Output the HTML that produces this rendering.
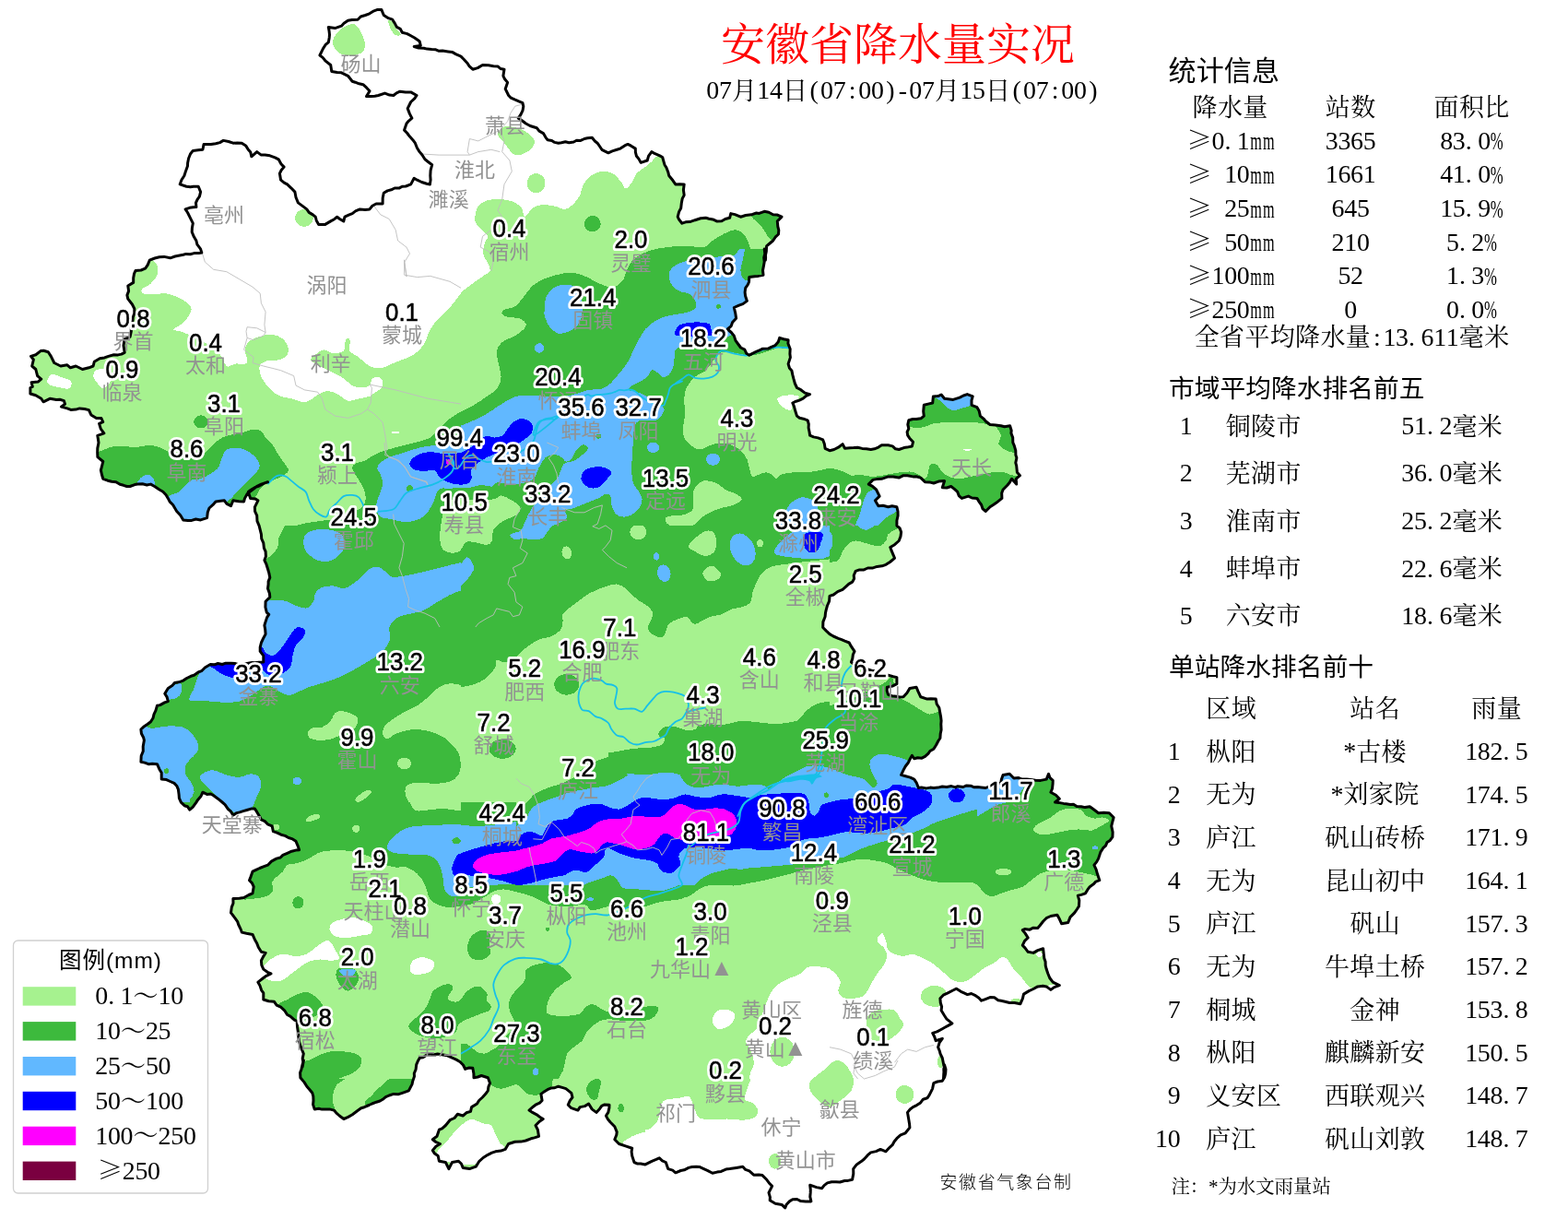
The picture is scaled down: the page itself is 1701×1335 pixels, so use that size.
<!DOCTYPE html>
<html lang="zh-CN"><head><meta charset="utf-8"><title>安徽省降水量实况</title>
<style>
html,body{margin:0;padding:0;background:#fff;}
body{width:1701px;height:1335px;position:relative;overflow:hidden;font-family:"Liberation Sans","Noto Sans CJK SC",sans-serif;}
svg text{white-space:pre;}
.sans{font-family:"Liberation Sans","Noto Sans CJK SC",sans-serif;}
.serif{font-family:"Liberation Serif","Noto Serif CJK SC",serif;}
.sym{font-family:"Noto Serif CJK SC","Liberation Serif",serif;}
.num{font-family:"Liberation Sans","Noto Sans CJK SC",sans-serif;font-size:27.4px;fill:#fff;stroke:#fff;stroke-width:6.2px;stroke-linejoin:round;text-anchor:middle;}
.num2{font-family:"Liberation Sans","Noto Sans CJK SC",sans-serif;font-size:27.4px;fill:#000;stroke:#000;stroke-width:0.55px;stroke-linejoin:round;text-anchor:middle;}
.city{font-family:"Liberation Sans","Noto Sans CJK SC",sans-serif;font-size:22px;fill:#929292;text-anchor:middle;}
</style></head><body>
<svg width="1701" height="1335" viewBox="0 0 1701 1335" style="position:absolute;left:0;top:0">
<defs><clipPath id="prov"><path d="M346.9,60.0 L350.4,52.9 L353.0,48.7 L356.3,45.9 L357.2,40.9 L357.5,37.6 L357.0,33.2 L356.3,29.4 L363.4,30.6 L370.4,28.2 L373.1,25.3 L377.5,22.3 L381.9,21.6 L388.1,21.2 L391.3,18.0 L396.3,16.5 L400.8,14.8 L405.7,11.8 L409.0,10.6 L413.9,10.6 L416.3,16.5 L421.3,19.7 L425.7,21.2 L428.2,25.1 L430.4,29.4 L434.3,31.4 L436.3,35.3 L441.7,36.6 L445.7,38.8 L449.7,41.0 L455.1,44.7 L456.3,49.4 L449.2,50.6 L454.1,52.0 L459.8,52.2 L463.3,53.1 L468.3,53.5 L472.2,53.7 L476.2,55.3 L480.1,55.1 L486.0,55.9 L490.4,56.4 L494.8,58.9 L500.0,61.1 L503.1,64.2 L507.0,68.5 L509.2,71.8 L512.9,75.2 L518.3,73.6 L523.5,70.5 L529.9,70.7 L535.3,71.7 L540.2,72.1 L542.9,74.5 L547.0,75.2 L545.9,82.3 L547.6,85.8 L550.6,89.4 L548.2,96.4 L551.7,103.5 L554.3,106.2 L558.8,108.2 L563.4,110.1 L567.0,111.7 L567.8,115.4 L567.0,119.9 L565.0,124.2 L562.3,128.2 L566.6,131.0 L570.5,134.0 L575.1,136.5 L578.3,137.5 L582.3,138.7 L585.0,142.1 L589.4,144.6 L592.0,149.1 L594.1,151.7 L598.6,152.4 L601.7,154.4 L605.8,155.2 L609.0,154.8 L613.4,153.8 L617.3,154.8 L622.3,154.0 L625.5,152.3 L629.9,152.4 L634.0,150.5 L637.3,149.8 L642.3,149.3 L645.3,153.0 L648.1,155.2 L651.1,159.5 L652.9,162.3 L659.9,165.8 L664.2,163.9 L669.3,162.3 L673.0,161.1 L678.1,157.7 L681.1,156.4 L684.6,158.2 L689.3,161.1 L689.4,165.2 L690.5,169.3 L693.0,172.4 L695.2,176.4 L702.2,174.0 L703.6,169.1 L706.9,164.6 L710.6,166.7 L715.7,168.9 L718.7,170.5 L719.9,174.8 L721.0,178.7 L722.9,181.7 L724.9,187.1 L725.7,190.5 L730.0,195.8 L732.8,199.9 L737.3,199.7 L742.2,199.9 L741.4,206.0 L742.2,211.6 L740.2,215.4 L739.3,220.3 L738.7,225.7 L736.6,229.6 L735.2,235.2 L736.6,238.0 L739.9,242.2 L743.8,240.8 L748.4,240.6 L754.0,238.7 L760.1,236.8 L765.7,236.3 L769.1,237.2 L773.3,237.9 L777.5,239.9 L782.9,239.7 L786.8,237.5 L791.6,236.3 L792.8,231.6 L797.3,232.6 L803.4,235.2 L808.9,233.5 L815.1,232.8 L820.5,231.0 L823.5,231.4 L829.2,229.3 L834.0,230.3 L838.6,232.8 L843.4,233.1 L848.0,235.2 L843.3,239.9 L843.8,245.6 L844.8,249.7 L844.5,254.0 L841.1,257.2 L838.6,261.0 L834.4,264.5 L831.6,266.9 L831.3,272.6 L830.5,276.5 L830.4,282.2 L830.6,279.1 L830.3,274.7 L829.2,270.0 L829.8,275.2 L828.7,279.4 L829.2,284.1 L828.5,287.9 L827.5,293.1 L828.0,298.2 L822.5,299.4 L818.8,299.7 L812.8,300.6 L812.5,305.7 L811.4,308.5 L808.7,312.4 L808.1,317.0 L808.6,321.1 L810.4,326.4 L805.9,329.6 L801.7,331.1 L796.3,333.5 L797.8,339.9 L798.6,345.2 L794.6,349.5 L793.2,353.6 L789.2,357.0 L793.3,360.5 L796.3,364.1 L798.0,369.4 L801.0,373.5 L803.6,377.0 L807.8,379.1 L809.7,383.2 L812.8,385.2 L819.8,381.7 L824.5,379.6 L827.5,378.2 L833.3,378.1 L836.1,376.7 L841.0,374.6 L844.3,370.8 L845.7,366.4 L850.1,367.7 L855.1,368.8 L854.9,372.5 L857.2,378.5 L856.9,383.8 L857.4,387.6 L855.1,394.6 L856.5,399.3 L858.9,401.9 L859.8,406.4 L860.9,410.7 L862.4,416.0 L864.5,420.5 L868.7,422.7 L873.2,426.1 L878.6,427.6 L874.5,429.4 L871.2,432.2 L867.2,434.1 L863.6,435.2 L859.8,437.0 L861.4,440.7 L862.8,445.8 L864.5,451.1 L867.4,453.3 L871.6,454.2 L876.2,455.8 L877.3,460.0 L877.1,464.0 L878.1,468.7 L878.6,472.2 L882.5,473.9 L887.5,474.9 L892.7,476.9 L894.4,481.6 L895.1,486.3 L900.0,488.7 L904.8,487.5 L909.4,485.2 L914.1,481.6 L916.5,486.3 L922.0,485.8 L926.1,485.6 L930.6,485.2 L935.3,486.4 L939.9,486.8 L944.7,487.5 L948.6,486.8 L952.9,485.1 L956.4,482.8 L963.5,482.8 L968.3,483.9 L971.4,486.8 L975.2,487.5 L980.6,485.6 L983.9,485.1 L989.4,484.0 L990.5,479.3 L986.7,475.2 L984.7,472.2 L984.1,468.4 L985.8,464.8 L984.8,460.3 L985.8,455.8 L990.3,454.5 L994.1,454.6 L999.0,453.8 L1002.3,451.1 L1001.7,446.1 L1002.3,439.3 L1006.8,438.1 L1011.7,437.0 L1012.4,429.9 L1017.7,429.6 L1021.1,428.0 L1024.6,432.3 L1028.6,432.7 L1034.0,433.4 L1041.1,431.1 L1045.2,429.0 L1049.3,427.6 L1055.2,429.9 L1054.0,434.2 L1054.0,439.3 L1059.9,441.7 L1062.1,445.4 L1063.4,451.1 L1067.0,454.1 L1069.5,457.0 L1074.0,460.5 L1080.1,461.1 L1085.8,461.7 L1089.8,462.7 L1095.6,461.7 L1097.2,466.9 L1096.9,469.8 L1098.7,474.6 L1098.8,479.9 L1100.3,483.3 L1101.8,488.7 L1101.9,493.6 L1102.9,496.5 L1101.8,501.9 L1102.7,505.2 L1103.4,512.2 L1106.5,515.7 L1102.2,519.3 L1102.7,525.1 L1097.5,519.3 L1095.3,523.2 L1092.8,526.3 L1088.1,531.0 L1086.7,534.8 L1086.9,540.4 L1081.1,545.1 L1077.9,547.3 L1074.0,549.8 L1069.3,554.5 L1066.1,551.9 L1064.6,547.5 L1062.5,544.6 L1059.9,540.4 L1054.4,540.0 L1050.5,538.1 L1043.4,540.4 L1040.2,537.6 L1038.7,533.4 L1035.1,530.1 L1031.7,527.5 L1027.1,529.0 L1022.3,528.7 L1024.6,521.6 L1018.3,522.1 L1012.9,524.0 L1008.3,522.9 L1003.5,522.8 L998.8,518.1 L993.9,516.8 L990.5,516.9 L984.4,515.7 L980.0,515.7 L975.2,518.1 L969.0,517.1 L963.5,516.9 L956.4,519.3 L952.2,519.4 L947.0,520.4 L942.3,525.1 L946.5,527.4 L950.6,531.0 L954.1,538.1 L949.4,542.8 L952.9,548.7 L957.9,548.3 L963.5,549.8 L967.7,548.8 L972.9,549.8 L974.0,554.6 L974.1,559.2 L972.9,564.5 L972.9,570.0 L976.1,572.8 L977.6,577.1 L977.0,581.7 L975.2,586.5 L970.5,590.7 L965.8,593.5 L967.2,597.4 L969.3,602.3 L970.5,605.3 L965.5,609.5 L961.1,612.3 L956.8,613.8 L951.5,614.4 L947.0,615.9 L941.4,616.0 L936.7,618.1 L932.4,617.9 L928.2,619.4 L926.2,624.0 L926.6,627.5 L924.7,631.1 L920.7,633.4 L917.2,636.6 L914.1,639.4 L908.7,641.6 L904.2,645.0 L900.0,646.4 L899.6,651.8 L897.4,657.0 L896.1,661.9 L895.5,664.6 L895.1,668.8 L892.9,674.4 L892.7,680.5 L896.3,684.1 L900.0,687.6 L904.1,690.0 L909.4,692.3 L912.3,693.4 L916.4,695.2 L921.2,697.0 L923.2,700.7 L927.0,706.4 L925.4,709.8 L924.8,714.3 L923.5,718.1 L929.4,722.9 L934.3,724.4 L938.6,726.0 L942.4,726.1 L947.0,727.6 L952.1,728.1 L955.7,730.2 L958.5,731.8 L963.5,732.3 L969.0,733.7 L972.9,734.6 L972.9,741.7 L968.1,744.1 L962.3,745.2 L962.2,749.3 L963.5,753.4 L967.6,754.7 L972.4,755.3 L976.0,756.0 L980.0,755.8 L983.9,751.5 L987.0,746.4 L994.1,745.2 L995.9,749.6 L998.8,755.8 L1005.8,758.1 L1009.8,757.8 L1015.2,758.1 L1016.2,763.5 L1018.8,767.5 L1019.7,772.5 L1020.6,777.3 L1021.1,781.6 L1020.8,785.3 L1021.1,791.5 L1020.2,795.8 L1019.9,800.5 L1017.9,803.5 L1015.7,807.8 L1012.9,812.2 L1008.9,814.5 L1007.1,817.1 L1003.5,820.4 L1000.0,822.2 L995.6,821.8 L991.7,822.8 L989.4,819.3 L987.0,823.6 L985.2,827.3 L982.3,831.0 L980.2,834.9 L977.6,840.4 L981.6,841.5 L987.5,843.1 L991.7,845.1 L994.2,848.8 L996.4,854.5 L999.6,854.0 L1005.0,854.9 L1009.1,854.1 L1012.9,854.5 L1017.6,854.1 L1022.2,853.0 L1027.0,853.4 L1032.1,852.6 L1036.6,853.9 L1039.0,852.7 L1044.9,853.5 L1048.5,851.9 L1052.9,852.2 L1056.4,853.7 L1060.5,853.5 L1064.5,854.0 L1069.3,854.5 L1074.3,852.3 L1078.2,851.6 L1082.4,850.6 L1085.8,848.7 L1086.4,845.3 L1088.1,840.4 L1095.2,839.3 L1099.9,844.0 L1104.6,843.5 L1108.3,844.9 L1113.9,845.0 L1118.0,845.5 L1123.4,846.3 L1128.9,846.4 L1135.2,845.1 L1137.5,839.3 L1138.9,843.3 L1142.2,846.3 L1142.1,849.8 L1141.5,855.3 L1139.9,859.2 L1145.4,862.3 L1149.3,866.3 L1144.6,870.0 L1148.4,870.4 L1153.8,871.4 L1156.6,871.7 L1161.0,872.4 L1164.5,872.3 L1168.1,874.6 L1172.8,874.7 L1177.1,875.6 L1182.2,874.7 L1186.4,877.8 L1191.6,881.8 L1197.5,881.2 L1203.4,881.8 L1208.1,886.5 L1206.6,892.1 L1205.7,895.9 L1207.1,902.4 L1206.9,907.6 L1204.2,911.4 L1201.0,913.5 L1199.5,917.1 L1196.7,919.7 L1193.9,924.1 L1191.6,931.1 L1189.7,934.6 L1186.9,938.2 L1189.2,943.2 L1190.4,947.6 L1192.8,954.7 L1188.8,956.1 L1186.6,958.6 L1182.2,961.7 L1179.8,964.9 L1177.5,968.8 L1173.0,970.4 L1169.3,971.1 L1170.8,976.5 L1170.4,982.9 L1168.4,986.0 L1165.7,989.9 L1161.0,994.6 L1158.7,1000.5 L1151.6,1001.7 L1149.4,996.8 L1146.9,992.3 L1139.9,993.5 L1135.1,995.7 L1131.6,999.3 L1128.1,1003.7 L1125.7,1006.4 L1121.0,1006.2 L1117.1,1008.2 L1111.6,1007.6 L1109.3,1008.7 L1112.1,1012.1 L1115.2,1017.0 L1111.6,1020.3 L1109.3,1025.2 L1111.9,1027.9 L1115.2,1032.3 L1121.0,1033.4 L1125.8,1030.6 L1131.6,1028.7 L1132.3,1034.8 L1132.8,1039.3 L1134.1,1043.1 L1134.2,1047.2 L1135.2,1051.1 L1136.7,1055.5 L1138.7,1060.5 L1142.2,1065.2 L1149.3,1068.7 L1143.7,1070.6 L1139.9,1073.4 L1135.2,1069.9 L1131.4,1069.2 L1125.7,1069.9 L1121.0,1072.5 L1116.3,1074.6 L1110.5,1078.1 L1109.4,1082.8 L1106.9,1088.7 L1100.6,1087.6 L1095.2,1087.5 L1090.3,1086.2 L1085.8,1085.2 L1082.8,1084.7 L1078.7,1081.8 L1074.0,1081.6 L1068.4,1083.8 L1064.6,1085.2 L1061.9,1082.2 L1057.6,1079.3 L1053.8,1077.5 L1049.5,1078.6 L1045.8,1076.9 L1042.4,1075.3 L1037.6,1072.2 L1033.8,1074.0 L1028.2,1076.9 L1023.3,1079.2 L1019.9,1082.8 L1020.3,1087.5 L1021.6,1091.8 L1021.1,1095.7 L1024.3,1101.0 L1027.0,1105.2 L1032.9,1109.9 L1029.3,1111.9 L1024.9,1114.3 L1022.3,1115.7 L1016.5,1118.9 L1011.7,1120.4 L1013.7,1124.2 L1015.2,1128.7 L1022.3,1126.3 L1019.2,1130.5 L1017.6,1135.7 L1019.4,1140.0 L1020.0,1142.7 L1022.3,1147.5 L1023.5,1153.5 L1024.6,1159.2 L1023.8,1164.1 L1023.5,1170.1 L1024.0,1164.0 L1023.8,1159.8 L1024.5,1154.7 L1026.0,1159.7 L1025.7,1164.1 L1024.7,1168.2 L1022.2,1172.3 L1017.0,1173.0 L1012.8,1174.7 L1011.6,1180.6 L1008.1,1187.6 L1005.9,1190.8 L1001.4,1192.2 L998.6,1195.9 L994.5,1198.6 L990.4,1200.6 L987.3,1203.0 L984.5,1206.4 L985.7,1213.5 L986.6,1219.1 L986.9,1222.9 L982.2,1228.8 L977.0,1230.8 L972.8,1234.7 L970.1,1238.0 L968.1,1241.7 L964.9,1244.6 L961.0,1248.8 L955.1,1246.4 L950.4,1248.6 L944.6,1249.9 L941.1,1252.9 L937.5,1257.0 L934.3,1259.6 L929.3,1262.9 L925.7,1267.6 L925.8,1272.9 L924.6,1279.3 L919.9,1280.4 L916.3,1280.5 L911.2,1282.0 L906.9,1281.7 L902.2,1281.7 L897.5,1282.9 L894.0,1285.6 L891.7,1288.7 L885.8,1287.6 L878.7,1285.2 L879.3,1290.2 L879.2,1293.4 L878.8,1297.9 L879.9,1302.9 L874.0,1302.9 L868.7,1302.6 L864.6,1300.5 L859.8,1300.8 L856.4,1302.9 L853.2,1306.2 L851.7,1309.9 L848.1,1306.4 L841.1,1305.2 L835.2,1301.7 L835.4,1298.3 L834.0,1293.4 L837.6,1286.4 L835.1,1283.8 L831.7,1279.3 L827.0,1274.6 L823.2,1274.1 L817.6,1274.2 L812.9,1269.9 L808.7,1268.4 L805.8,1265.2 L798.8,1266.4 L791.7,1267.6 L787.5,1268.1 L782.3,1270.4 L777.9,1271.1 L772.9,1272.3 L767.9,1269.6 L763.5,1267.6 L758.7,1265.4 L755.3,1265.2 L750.7,1265.5 L747.0,1266.4 L742.3,1268.8 L738.5,1269.5 L732.9,1271.8 L729.7,1269.1 L724.7,1267.6 L722.3,1260.5 L718.5,1258.8 L715.3,1255.8 L711.8,1257.4 L707.1,1259.3 L700.0,1262.9 L695.1,1262.0 L691.7,1262.1 L688.0,1260.5 L685.7,1253.5 L685.1,1249.1 L685.7,1245.2 L678.6,1242.9 L671.5,1240.5 L666.8,1235.8 L668.8,1230.8 L669.2,1227.6 L666.8,1221.7 L662.1,1217.0 L659.6,1214.1 L657.4,1210.0 L659.8,1206.4 L660.9,1201.4 L661.0,1198.2 L655.9,1197.9 L652.7,1199.4 L650.6,1202.4 L646.9,1206.4 L642.2,1202.9 L638.6,1197.0 L634.4,1199.6 L629.2,1200.6 L626.9,1204.1 L619.8,1201.7 L616.3,1198.2 L618.3,1193.6 L621.0,1190.0 L619.8,1185.3 L613.9,1180.6 L610.7,1179.6 L605.7,1178.2 L601.3,1179.8 L597.5,1180.1 L593.9,1181.7 L589.4,1184.6 L586.9,1186.4 L588.1,1193.5 L585.4,1196.1 L581.0,1198.2 L578.4,1200.2 L574.0,1204.1 L577.6,1206.4 L582.2,1208.8 L586.6,1212.1 L589.2,1213.5 L584.9,1216.5 L581.0,1220.5 L583.4,1225.2 L584.5,1232.3 L579.7,1233.9 L576.0,1234.8 L570.4,1237.0 L565.2,1238.1 L558.7,1238.2 L551.6,1240.5 L548.1,1246.4 L543.4,1248.1 L537.5,1248.8 L533.6,1250.2 L529.3,1252.3 L524.2,1255.5 L519.9,1259.3 L516.3,1265.2 L509.3,1267.6 L502.2,1266.4 L500.4,1262.0 L497.5,1259.3 L490.5,1260.5 L486.9,1267.6 L483.4,1260.5 L476.4,1259.3 L475.2,1253.5 L471.6,1251.1 L469.3,1247.6 L472.9,1243.2 L477.5,1240.5 L472.5,1238.3 L469.3,1235.8 L474.0,1232.3 L476.4,1225.2 L479.6,1223.8 L483.4,1220.5 L488.1,1214.7 L493.0,1212.5 L496.4,1208.3 L502.2,1210.0 L505.9,1206.8 L510.5,1205.3 L511.6,1200.6 L517.5,1197.0 L519.6,1193.5 L523.4,1190.0 L526.8,1186.3 L529.3,1182.9 L529.9,1178.6 L531.6,1174.7 L529.3,1168.8 L522.2,1166.5 L518.3,1168.0 L514.0,1168.8 L513.9,1164.2 L512.8,1158.2 L509.0,1158.0 L504.6,1159.4 L502.5,1155.0 L499.0,1151.5 L494.9,1149.1 L490.5,1147.2 L485.4,1144.8 L479.3,1143.7 L474.6,1143.0 L470.1,1144.0 L466.6,1143.0 L463.0,1144.1 L458.9,1146.8 L455.3,1147.2 L453.5,1150.4 L451.7,1154.7 L451.1,1159.7 L449.3,1164.1 L449.5,1167.2 L447.7,1172.6 L447.0,1175.9 L443.4,1182.9 L436.4,1185.3 L432.4,1186.7 L427.0,1186.4 L422.1,1188.0 L418.4,1189.7 L415.2,1192.3 L412.2,1194.0 L408.3,1195.2 L403.5,1197.0 L400.3,1198.5 L395.2,1200.7 L391.7,1201.7 L387.9,1204.5 L382.3,1208.8 L377.8,1211.4 L372.9,1213.5 L368.2,1210.0 L364.7,1206.8 L362.3,1204.1 L357.5,1202.9 L354.1,1202.9 L349.3,1203.1 L345.8,1202.3 L341.2,1202.9 L339.6,1197.9 L340.0,1193.5 L339.8,1188.8 L338.8,1185.3 L335.5,1181.2 L332.9,1178.2 L330.0,1173.6 L325.9,1168.8 L325.6,1163.3 L327.0,1159.4 L328.0,1154.8 L329.4,1150.0 L328.1,1156.9 L328.8,1151.4 L328.2,1147.9 L329.3,1142.8 L327.3,1137.7 L325.7,1133.4 L324.5,1129.6 L323.8,1124.1 L323.4,1119.3 L322.5,1113.2 L322.2,1107.5 L319.4,1106.2 L314.9,1102.2 L311.6,1100.5 L308.6,1095.8 L304.6,1092.2 L300.1,1090.1 L297.5,1086.3 L291.5,1085.8 L285.8,1084.0 L285.8,1076.9 L283.6,1073.8 L281.8,1068.4 L279.9,1065.2 L285.8,1060.5 L288.9,1058.3 L294.0,1055.8 L290.2,1054.3 L285.8,1051.1 L283.8,1046.6 L283.4,1041.7 L285.5,1037.6 L288.1,1033.4 L283.4,1032.3 L280.3,1027.2 L278.7,1022.9 L276.4,1019.0 L274.0,1013.4 L267.4,1012.2 L262.3,1011.1 L261.3,1008.1 L258.6,1002.5 L257.6,999.3 L254.9,995.6 L250.5,989.9 L251.3,983.9 L253.0,979.5 L252.9,974.6 L259.6,974.3 L264.6,973.5 L269.9,970.5 L274.0,968.8 L275.2,961.7 L273.4,957.6 L270.5,954.7 L272.1,950.6 L274.0,945.2 L278.8,942.8 L281.7,941.5 L286.4,939.7 L290.5,938.2 L294.4,934.1 L299.9,931.1 L304.2,930.0 L306.8,927.4 L311.6,925.3 L316.4,923.2 L320.9,922.1 L324.6,921.7 L323.0,917.1 L321.0,912.3 L317.4,909.9 L313.0,908.5 L309.3,906.4 L304.9,905.2 L300.6,903.1 L296.4,901.7 L295.2,895.9 L290.3,893.8 L287.3,890.6 L283.4,888.8 L281.6,885.5 L278.6,880.4 L276.4,877.1 L272.4,877.1 L267.8,878.5 L264.6,879.4 L259.9,880.9 L256.8,881.6 L252.9,884.1 L250.2,879.7 L247.5,877.6 L244.1,872.6 L241.1,870.0 L236.4,866.2 L231.7,862.8 L228.7,860.9 L224.5,861.4 L219.9,859.2 L218.0,863.5 L214.6,867.4 L212.9,870.1 L209.3,875.1 L205.8,878.2 L203.5,874.8 L200.1,873.7 L196.4,870.1 L194.4,865.6 L194.1,861.6 L193.4,856.2 L191.7,852.2 L189.0,849.4 L184.7,847.5 L180.6,845.6 L175.2,845.1 L175.2,838.1 L172.9,834.2 L170.5,828.7 L165.2,828.2 L161.1,828.7 L157.0,827.1 L152.9,826.3 L153.2,819.8 L155.3,814.6 L155.2,809.6 L156.4,802.8 L155.6,799.7 L153.4,795.5 L152.9,791.0 L155.7,788.3 L160.2,785.3 L163.5,782.8 L166.0,778.8 L167.0,774.6 L168.9,770.7 L170.5,765.2 L173.6,764.6 L178.6,761.9 L182.3,760.5 L181.1,755.9 L178.8,752.2 L182.3,746.4 L186.8,743.6 L189.4,740.5 L193.8,739.8 L198.8,738.1 L202.6,735.5 L207.1,733.3 L210.5,732.3 L215.1,729.0 L218.6,727.7 L222.3,724.0 L228.2,720.5 L232.7,720.8 L236.4,719.5 L241.1,720.5 L244.9,719.2 L250.5,719.3 L255.4,719.6 L259.9,720.9 L264.6,720.5 L268.1,719.5 L273.4,718.6 L276.3,718.8 L280.8,718.3 L285.8,718.1 L285.8,711.1 L282.2,706.4 L282.2,701.9 L283.4,697.0 L285.9,691.7 L288.1,687.6 L287.7,682.8 L286.9,678.2 L287.8,675.1 L289.6,669.6 L291.7,666.4 L289.3,664.1 L287.9,658.5 L288.1,652.3 L292.8,647.6 L292.4,643.5 L290.5,638.2 L291.1,633.8 L291.1,630.6 L292.8,626.4 L291.8,621.4 L290.5,617.0 L289.0,612.2 L286.9,607.6 L288.4,603.4 L288.1,598.2 L286.4,594.3 L285.8,588.8 L283.7,584.2 L283.4,579.4 L282.1,574.2 L281.1,570.1 L279.0,565.2 L278.7,559.2 L276.6,554.6 L276.4,549.8 L279.9,542.8 L276.7,540.9 L271.7,540.4 L269.3,533.4 L272.2,531.3 L276.4,528.7 L281.1,527.0 L286.4,524.1 L290.5,522.8 L283.4,525.1 L278.3,527.7 L274.0,531.0 L268.1,535.7 L265.4,540.6 L264.6,544.0 L259.3,543.8 L252.9,542.8 L250.5,548.7 L246.0,546.4 L243.4,542.8 L239.2,543.3 L234.0,544.0 L231.0,547.4 L227.0,551.0 L225.3,555.5 L224.6,561.6 L217.6,563.9 L212.4,563.0 L207.9,564.4 L203.9,564.6 L198.8,563.9 L195.7,558.7 L191.7,554.5 L189.5,550.8 L187.6,547.5 L184.2,544.2 L182.3,540.4 L180.1,536.7 L176.8,533.2 L172.9,531.0 L167.7,527.5 L163.5,525.1 L159.3,526.0 L154.6,524.8 L149.4,525.1 L146.2,525.6 L141.0,527.5 L137.6,527.5 L134.0,526.3 L130.1,525.3 L125.9,522.8 L121.1,522.3 L116.9,521.2 L111.8,519.3 L110.5,515.0 L109.4,509.9 L110.7,504.8 L111.8,500.5 L105.9,495.7 L105.7,490.7 L105.8,486.1 L107.0,480.0 L105.8,472.3 L112.9,469.9 L109.3,465.2 L107.6,459.3 L111.7,457.6 L109.9,453.5 L104.6,453.5 L98.8,449.9 L96.4,444.6 L91.7,443.5 L86.3,442.9 L82.3,444.1 L76.8,444.4 L72.9,442.9 L66.4,441.1 L70.5,438.2 L69.4,434.6 L64.9,433.3 L61.1,433.5 L54.1,432.3 L47.0,435.8 L44.7,432.3 L38.8,428.8 L32.9,427.0 L32.9,420.5 L35.3,419.4 L34.1,414.7 L41.2,414.1 L44.7,411.1 L40.6,407.6 L38.8,400.5 L34.7,397.0 L36.4,390.0 L33.5,386.4 L38.8,384.7 L44.1,380.6 L47.3,380.2 L52.3,381.7 L55.3,386.4 L58.8,393.5 L65.8,397.0 L72.9,395.8 L76.4,398.8 L82.3,397.0 L89.4,400.5 L96.4,398.8 L101.1,397.0 L102.3,392.3 L108.2,388.8 L113.3,387.9 L117.6,386.4 L123.5,384.7 L128.0,384.9 L131.7,384.1 L135.2,382.3 L134.0,374.7 L135.2,367.6 L141.1,365.3 L142.3,359.4 L142.3,353.7 L144.0,347.6 L144.3,343.9 L145.8,339.8 L145.8,334.7 L143.4,330.0 L138.8,324.1 L137.9,320.1 L139.6,315.6 L138.8,310.0 L144.7,306.4 L144.7,301.5 L145.5,296.9 L147.0,293.5 L153.0,293.0 L157.6,291.2 L160.2,287.4 L162.3,282.2 L167.9,280.0 L172.9,278.7 L178.0,278.4 L184.7,279.8 L189.9,278.0 L193.7,277.3 L198.8,276.3 L201.8,275.4 L206.4,275.8 L210.5,274.6 L215.7,274.5 L218.8,274.0 L217.5,269.9 L213.9,265.2 L212.9,261.0 L210.4,256.8 L208.2,251.6 L208.4,247.3 L209.3,242.2 L205.8,235.2 L203.5,230.5 L201.1,226.9 L205.8,225.3 L209.6,224.7 L212.9,224.6 L212.5,219.9 L214.1,216.3 L216.4,213.2 L217.6,208.1 L215.2,202.2 L209.9,202.2 L206.6,202.8 L202.3,202.2 L195.2,199.9 L196.9,195.2 L199.9,190.5 L201.4,185.9 L203.5,179.9 L203.6,176.7 L204.6,171.7 L206.5,167.0 L209.3,163.4 L215.0,162.8 L219.9,162.3 L221.1,156.4 L224.6,156.4 L228.9,156.5 L234.0,155.7 L238.5,154.6 L242.3,152.4 L247.9,153.5 L252.9,155.2 L257.4,155.0 L262.3,155.2 L266.6,157.9 L269.3,162.3 L271.8,165.1 L272.8,169.8 L278.7,164.6 L283.4,168.1 L287.5,168.0 L292.8,168.8 L298.3,170.8 L302.2,172.8 L304.9,177.7 L308.1,181.1 L305.2,184.5 L303.4,188.1 L304.6,195.2 L308.2,198.1 L311.6,199.9 L316.3,204.3 L319.9,208.1 L321.0,214.0 L323.4,219.9 L327.8,223.1 L332.8,226.9 L335.2,230.4 L339.4,232.9 L342.2,235.2 L343.3,239.2 L345.7,243.4 L352.8,243.4 L358.7,239.9 L362.7,237.7 L365.7,235.2 L368.5,237.5 L372.8,239.9 L374.0,235.2 L378.9,232.9 L382.2,231.6 L385.7,228.9 L390.4,226.9 L396.1,227.6 L401.0,226.9 L403.9,223.3 L408.1,221.0 L415.1,221.0 L415.2,214.8 L416.3,209.3 L420.4,206.9 L424.5,205.8 L428.1,204.0 L433.3,203.9 L436.3,202.2 L440.2,202.0 L445.7,199.9 L449.2,193.3 L452.5,195.2 L457.4,197.5 L462.9,199.3 L466.4,199.9 L467.1,195.1 L466.8,190.5 L467.1,184.9 L468.7,178.7 L464.1,175.2 L461.0,172.8 L457.8,167.8 L455.1,164.6 L452.5,160.5 L450.4,155.2 L447.8,151.7 L444.5,148.1 L441.8,144.5 L438.6,141.1 L441.0,134.0 L443.2,131.3 L446.9,128.2 L444.4,123.4 L442.2,117.6 L445.7,110.5 L449.7,106.9 L452.0,103.5 L445.7,99.9 L439.9,100.0 L433.9,99.2 L430.2,100.8 L426.9,103.5 L422.6,103.1 L417.5,101.1 L410.4,103.5 L406.6,104.3 L402.5,104.6 L397.5,104.6 L401.0,98.8 L397.7,95.2 L393.9,91.7 L389.6,90.8 L385.3,89.2 L382.2,88.2 L377.5,82.3 L370.4,78.8 L365.7,78.6 L359.8,77.6 L358.7,70.5 L352.8,65.8 L350.1,62.4Z"/></clipPath></defs>
<g clip-path="url(#prov)" shape-rendering="crispEdges">
<path fill="#a6f28f" d="M346.9,60.0 L350.4,52.9 L353.0,48.7 L356.3,45.9 L357.2,40.9 L357.5,37.6 L357.0,33.2 L356.3,29.4 L363.4,30.6 L370.4,28.2 L373.1,25.3 L377.5,22.3 L381.9,21.6 L388.1,21.2 L391.3,18.0 L396.3,16.5 L400.8,14.8 L405.7,11.8 L409.0,10.6 L413.9,10.6 L416.3,16.5 L421.3,19.7 L425.7,21.2 L428.2,25.1 L430.4,29.4 L434.3,31.4 L436.3,35.3 L441.7,36.6 L445.7,38.8 L449.7,41.0 L455.1,44.7 L456.3,49.4 L449.2,50.6 L454.1,52.0 L459.8,52.2 L463.3,53.1 L468.3,53.5 L472.2,53.7 L476.2,55.3 L480.1,55.1 L486.0,55.9 L490.4,56.4 L494.8,58.9 L500.0,61.1 L503.1,64.2 L507.0,68.5 L509.2,71.8 L512.9,75.2 L518.3,73.6 L523.5,70.5 L529.9,70.7 L535.3,71.7 L540.2,72.1 L542.9,74.5 L547.0,75.2 L545.9,82.3 L547.6,85.8 L550.6,89.4 L548.2,96.4 L551.7,103.5 L554.3,106.2 L558.8,108.2 L563.4,110.1 L567.0,111.7 L567.8,115.4 L567.0,119.9 L565.0,124.2 L562.3,128.2 L566.6,131.0 L570.5,134.0 L575.1,136.5 L578.3,137.5 L582.3,138.7 L585.0,142.1 L589.4,144.6 L592.0,149.1 L594.1,151.7 L598.6,152.4 L601.7,154.4 L605.8,155.2 L609.0,154.8 L613.4,153.8 L617.3,154.8 L622.3,154.0 L625.5,152.3 L629.9,152.4 L634.0,150.5 L637.3,149.8 L642.3,149.3 L645.3,153.0 L648.1,155.2 L651.1,159.5 L652.9,162.3 L659.9,165.8 L664.2,163.9 L669.3,162.3 L673.0,161.1 L678.1,157.7 L681.1,156.4 L684.6,158.2 L689.3,161.1 L689.4,165.2 L690.5,169.3 L693.0,172.4 L695.2,176.4 L702.2,174.0 L703.6,169.1 L706.9,164.6 L710.6,166.7 L715.7,168.9 L718.7,170.5 L719.9,174.8 L721.0,178.7 L722.9,181.7 L724.9,187.1 L725.7,190.5 L730.0,195.8 L732.8,199.9 L737.3,199.7 L742.2,199.9 L741.4,206.0 L742.2,211.6 L740.2,215.4 L739.3,220.3 L738.7,225.7 L736.6,229.6 L735.2,235.2 L736.6,238.0 L739.9,242.2 L743.8,240.8 L748.4,240.6 L754.0,238.7 L760.1,236.8 L765.7,236.3 L769.1,237.2 L773.3,237.9 L777.5,239.9 L782.9,239.7 L786.8,237.5 L791.6,236.3 L792.8,231.6 L797.3,232.6 L803.4,235.2 L808.9,233.5 L815.1,232.8 L820.5,231.0 L823.5,231.4 L829.2,229.3 L834.0,230.3 L838.6,232.8 L843.4,233.1 L848.0,235.2 L843.3,239.9 L843.8,245.6 L844.8,249.7 L844.5,254.0 L841.1,257.2 L838.6,261.0 L834.4,264.5 L831.6,266.9 L831.3,272.6 L830.5,276.5 L830.4,282.2 L830.6,279.1 L830.3,274.7 L829.2,270.0 L829.8,275.2 L828.7,279.4 L829.2,284.1 L828.5,287.9 L827.5,293.1 L828.0,298.2 L822.5,299.4 L818.8,299.7 L812.8,300.6 L812.5,305.7 L811.4,308.5 L808.7,312.4 L808.1,317.0 L808.6,321.1 L810.4,326.4 L805.9,329.6 L801.7,331.1 L796.3,333.5 L797.8,339.9 L798.6,345.2 L794.6,349.5 L793.2,353.6 L789.2,357.0 L793.3,360.5 L796.3,364.1 L798.0,369.4 L801.0,373.5 L803.6,377.0 L807.8,379.1 L809.7,383.2 L812.8,385.2 L819.8,381.7 L824.5,379.6 L827.5,378.2 L833.3,378.1 L836.1,376.7 L841.0,374.6 L844.3,370.8 L845.7,366.4 L850.1,367.7 L855.1,368.8 L854.9,372.5 L857.2,378.5 L856.9,383.8 L857.4,387.6 L855.1,394.6 L856.5,399.3 L858.9,401.9 L859.8,406.4 L860.9,410.7 L862.4,416.0 L864.5,420.5 L868.7,422.7 L873.2,426.1 L878.6,427.6 L874.5,429.4 L871.2,432.2 L867.2,434.1 L863.6,435.2 L859.8,437.0 L861.4,440.7 L862.8,445.8 L864.5,451.1 L867.4,453.3 L871.6,454.2 L876.2,455.8 L877.3,460.0 L877.1,464.0 L878.1,468.7 L878.6,472.2 L882.5,473.9 L887.5,474.9 L892.7,476.9 L894.4,481.6 L895.1,486.3 L900.0,488.7 L904.8,487.5 L909.4,485.2 L914.1,481.6 L916.5,486.3 L922.0,485.8 L926.1,485.6 L930.6,485.2 L935.3,486.4 L939.9,486.8 L944.7,487.5 L948.6,486.8 L952.9,485.1 L956.4,482.8 L963.5,482.8 L968.3,483.9 L971.4,486.8 L975.2,487.5 L980.6,485.6 L983.9,485.1 L989.4,484.0 L990.5,479.3 L986.7,475.2 L984.7,472.2 L984.1,468.4 L985.8,464.8 L984.8,460.3 L985.8,455.8 L990.3,454.5 L994.1,454.6 L999.0,453.8 L1002.3,451.1 L1001.7,446.1 L1002.3,439.3 L1006.8,438.1 L1011.7,437.0 L1012.4,429.9 L1017.7,429.6 L1021.1,428.0 L1024.6,432.3 L1028.6,432.7 L1034.0,433.4 L1041.1,431.1 L1045.2,429.0 L1049.3,427.6 L1055.2,429.9 L1054.0,434.2 L1054.0,439.3 L1059.9,441.7 L1062.1,445.4 L1063.4,451.1 L1067.0,454.1 L1069.5,457.0 L1074.0,460.5 L1080.1,461.1 L1085.8,461.7 L1089.8,462.7 L1095.6,461.7 L1097.2,466.9 L1096.9,469.8 L1098.7,474.6 L1098.8,479.9 L1100.3,483.3 L1101.8,488.7 L1101.9,493.6 L1102.9,496.5 L1101.8,501.9 L1102.7,505.2 L1103.4,512.2 L1106.5,515.7 L1102.2,519.3 L1102.7,525.1 L1097.5,519.3 L1095.3,523.2 L1092.8,526.3 L1088.1,531.0 L1086.7,534.8 L1086.9,540.4 L1081.1,545.1 L1077.9,547.3 L1074.0,549.8 L1069.3,554.5 L1066.1,551.9 L1064.6,547.5 L1062.5,544.6 L1059.9,540.4 L1054.4,540.0 L1050.5,538.1 L1043.4,540.4 L1040.2,537.6 L1038.7,533.4 L1035.1,530.1 L1031.7,527.5 L1027.1,529.0 L1022.3,528.7 L1024.6,521.6 L1018.3,522.1 L1012.9,524.0 L1008.3,522.9 L1003.5,522.8 L998.8,518.1 L993.9,516.8 L990.5,516.9 L984.4,515.7 L980.0,515.7 L975.2,518.1 L969.0,517.1 L963.5,516.9 L956.4,519.3 L952.2,519.4 L947.0,520.4 L942.3,525.1 L946.5,527.4 L950.6,531.0 L954.1,538.1 L949.4,542.8 L952.9,548.7 L957.9,548.3 L963.5,549.8 L967.7,548.8 L972.9,549.8 L974.0,554.6 L974.1,559.2 L972.9,564.5 L972.9,570.0 L976.1,572.8 L977.6,577.1 L977.0,581.7 L975.2,586.5 L970.5,590.7 L965.8,593.5 L967.2,597.4 L969.3,602.3 L970.5,605.3 L965.5,609.5 L961.1,612.3 L956.8,613.8 L951.5,614.4 L947.0,615.9 L941.4,616.0 L936.7,618.1 L932.4,617.9 L928.2,619.4 L926.2,624.0 L926.6,627.5 L924.7,631.1 L920.7,633.4 L917.2,636.6 L914.1,639.4 L908.7,641.6 L904.2,645.0 L900.0,646.4 L899.6,651.8 L897.4,657.0 L896.1,661.9 L895.5,664.6 L895.1,668.8 L892.9,674.4 L892.7,680.5 L896.3,684.1 L900.0,687.6 L904.1,690.0 L909.4,692.3 L912.3,693.4 L916.4,695.2 L921.2,697.0 L923.2,700.7 L927.0,706.4 L925.4,709.8 L924.8,714.3 L923.5,718.1 L929.4,722.9 L934.3,724.4 L938.6,726.0 L942.4,726.1 L947.0,727.6 L952.1,728.1 L955.7,730.2 L958.5,731.8 L963.5,732.3 L969.0,733.7 L972.9,734.6 L972.9,741.7 L968.1,744.1 L962.3,745.2 L962.2,749.3 L963.5,753.4 L967.6,754.7 L972.4,755.3 L976.0,756.0 L980.0,755.8 L983.9,751.5 L987.0,746.4 L994.1,745.2 L995.9,749.6 L998.8,755.8 L1005.8,758.1 L1009.8,757.8 L1015.2,758.1 L1016.2,763.5 L1018.8,767.5 L1019.7,772.5 L1020.6,777.3 L1021.1,781.6 L1020.8,785.3 L1021.1,791.5 L1020.2,795.8 L1019.9,800.5 L1017.9,803.5 L1015.7,807.8 L1012.9,812.2 L1008.9,814.5 L1007.1,817.1 L1003.5,820.4 L1000.0,822.2 L995.6,821.8 L991.7,822.8 L989.4,819.3 L987.0,823.6 L985.2,827.3 L982.3,831.0 L980.2,834.9 L977.6,840.4 L981.6,841.5 L987.5,843.1 L991.7,845.1 L994.2,848.8 L996.4,854.5 L999.6,854.0 L1005.0,854.9 L1009.1,854.1 L1012.9,854.5 L1017.6,854.1 L1022.2,853.0 L1027.0,853.4 L1032.1,852.6 L1036.6,853.9 L1039.0,852.7 L1044.9,853.5 L1048.5,851.9 L1052.9,852.2 L1056.4,853.7 L1060.5,853.5 L1064.5,854.0 L1069.3,854.5 L1074.3,852.3 L1078.2,851.6 L1082.4,850.6 L1085.8,848.7 L1086.4,845.3 L1088.1,840.4 L1095.2,839.3 L1099.9,844.0 L1104.6,843.5 L1108.3,844.9 L1113.9,845.0 L1118.0,845.5 L1123.4,846.3 L1128.9,846.4 L1135.2,845.1 L1137.5,839.3 L1138.9,843.3 L1142.2,846.3 L1142.1,849.8 L1141.5,855.3 L1139.9,859.2 L1145.4,862.3 L1149.3,866.3 L1144.6,870.0 L1148.4,870.4 L1153.8,871.4 L1156.6,871.7 L1161.0,872.4 L1164.5,872.3 L1168.1,874.6 L1172.8,874.7 L1177.1,875.6 L1182.2,874.7 L1186.4,877.8 L1191.6,881.8 L1197.5,881.2 L1203.4,881.8 L1208.1,886.5 L1206.6,892.1 L1205.7,895.9 L1207.1,902.4 L1206.9,907.6 L1204.2,911.4 L1201.0,913.5 L1199.5,917.1 L1196.7,919.7 L1193.9,924.1 L1191.6,931.1 L1189.7,934.6 L1186.9,938.2 L1189.2,943.2 L1190.4,947.6 L1192.8,954.7 L1188.8,956.1 L1186.6,958.6 L1182.2,961.7 L1179.8,964.9 L1177.5,968.8 L1173.0,970.4 L1169.3,971.1 L1170.8,976.5 L1170.4,982.9 L1168.4,986.0 L1165.7,989.9 L1161.0,994.6 L1158.7,1000.5 L1151.6,1001.7 L1149.4,996.8 L1146.9,992.3 L1139.9,993.5 L1135.1,995.7 L1131.6,999.3 L1128.1,1003.7 L1125.7,1006.4 L1121.0,1006.2 L1117.1,1008.2 L1111.6,1007.6 L1109.3,1008.7 L1112.1,1012.1 L1115.2,1017.0 L1111.6,1020.3 L1109.3,1025.2 L1111.9,1027.9 L1115.2,1032.3 L1121.0,1033.4 L1125.8,1030.6 L1131.6,1028.7 L1132.3,1034.8 L1132.8,1039.3 L1134.1,1043.1 L1134.2,1047.2 L1135.2,1051.1 L1136.7,1055.5 L1138.7,1060.5 L1142.2,1065.2 L1149.3,1068.7 L1143.7,1070.6 L1139.9,1073.4 L1135.2,1069.9 L1131.4,1069.2 L1125.7,1069.9 L1121.0,1072.5 L1116.3,1074.6 L1110.5,1078.1 L1109.4,1082.8 L1106.9,1088.7 L1100.6,1087.6 L1095.2,1087.5 L1090.3,1086.2 L1085.8,1085.2 L1082.8,1084.7 L1078.7,1081.8 L1074.0,1081.6 L1068.4,1083.8 L1064.6,1085.2 L1061.9,1082.2 L1057.6,1079.3 L1053.8,1077.5 L1049.5,1078.6 L1045.8,1076.9 L1042.4,1075.3 L1037.6,1072.2 L1033.8,1074.0 L1028.2,1076.9 L1023.3,1079.2 L1019.9,1082.8 L1020.3,1087.5 L1021.6,1091.8 L1021.1,1095.7 L1024.3,1101.0 L1027.0,1105.2 L1032.9,1109.9 L1029.3,1111.9 L1024.9,1114.3 L1022.3,1115.7 L1016.5,1118.9 L1011.7,1120.4 L1013.7,1124.2 L1015.2,1128.7 L1022.3,1126.3 L1019.2,1130.5 L1017.6,1135.7 L1019.4,1140.0 L1020.0,1142.7 L1022.3,1147.5 L1023.5,1153.5 L1024.6,1159.2 L1023.8,1164.1 L1023.5,1170.1 L1024.0,1164.0 L1023.8,1159.8 L1024.5,1154.7 L1026.0,1159.7 L1025.7,1164.1 L1024.7,1168.2 L1022.2,1172.3 L1017.0,1173.0 L1012.8,1174.7 L1011.6,1180.6 L1008.1,1187.6 L1005.9,1190.8 L1001.4,1192.2 L998.6,1195.9 L994.5,1198.6 L990.4,1200.6 L987.3,1203.0 L984.5,1206.4 L985.7,1213.5 L986.6,1219.1 L986.9,1222.9 L982.2,1228.8 L977.0,1230.8 L972.8,1234.7 L970.1,1238.0 L968.1,1241.7 L964.9,1244.6 L961.0,1248.8 L955.1,1246.4 L950.4,1248.6 L944.6,1249.9 L941.1,1252.9 L937.5,1257.0 L934.3,1259.6 L929.3,1262.9 L925.7,1267.6 L925.8,1272.9 L924.6,1279.3 L919.9,1280.4 L916.3,1280.5 L911.2,1282.0 L906.9,1281.7 L902.2,1281.7 L897.5,1282.9 L894.0,1285.6 L891.7,1288.7 L885.8,1287.6 L878.7,1285.2 L879.3,1290.2 L879.2,1293.4 L878.8,1297.9 L879.9,1302.9 L874.0,1302.9 L868.7,1302.6 L864.6,1300.5 L859.8,1300.8 L856.4,1302.9 L853.2,1306.2 L851.7,1309.9 L848.1,1306.4 L841.1,1305.2 L835.2,1301.7 L835.4,1298.3 L834.0,1293.4 L837.6,1286.4 L835.1,1283.8 L831.7,1279.3 L827.0,1274.6 L823.2,1274.1 L817.6,1274.2 L812.9,1269.9 L808.7,1268.4 L805.8,1265.2 L798.8,1266.4 L791.7,1267.6 L787.5,1268.1 L782.3,1270.4 L777.9,1271.1 L772.9,1272.3 L767.9,1269.6 L763.5,1267.6 L758.7,1265.4 L755.3,1265.2 L750.7,1265.5 L747.0,1266.4 L742.3,1268.8 L738.5,1269.5 L732.9,1271.8 L729.7,1269.1 L724.7,1267.6 L722.3,1260.5 L718.5,1258.8 L715.3,1255.8 L711.8,1257.4 L707.1,1259.3 L700.0,1262.9 L695.1,1262.0 L691.7,1262.1 L688.0,1260.5 L685.7,1253.5 L685.1,1249.1 L685.7,1245.2 L678.6,1242.9 L671.5,1240.5 L666.8,1235.8 L668.8,1230.8 L669.2,1227.6 L666.8,1221.7 L662.1,1217.0 L659.6,1214.1 L657.4,1210.0 L659.8,1206.4 L660.9,1201.4 L661.0,1198.2 L655.9,1197.9 L652.7,1199.4 L650.6,1202.4 L646.9,1206.4 L642.2,1202.9 L638.6,1197.0 L634.4,1199.6 L629.2,1200.6 L626.9,1204.1 L619.8,1201.7 L616.3,1198.2 L618.3,1193.6 L621.0,1190.0 L619.8,1185.3 L613.9,1180.6 L610.7,1179.6 L605.7,1178.2 L601.3,1179.8 L597.5,1180.1 L593.9,1181.7 L589.4,1184.6 L586.9,1186.4 L588.1,1193.5 L585.4,1196.1 L581.0,1198.2 L578.4,1200.2 L574.0,1204.1 L577.6,1206.4 L582.2,1208.8 L586.6,1212.1 L589.2,1213.5 L584.9,1216.5 L581.0,1220.5 L583.4,1225.2 L584.5,1232.3 L579.7,1233.9 L576.0,1234.8 L570.4,1237.0 L565.2,1238.1 L558.7,1238.2 L551.6,1240.5 L548.1,1246.4 L543.4,1248.1 L537.5,1248.8 L533.6,1250.2 L529.3,1252.3 L524.2,1255.5 L519.9,1259.3 L516.3,1265.2 L509.3,1267.6 L502.2,1266.4 L500.4,1262.0 L497.5,1259.3 L490.5,1260.5 L486.9,1267.6 L483.4,1260.5 L476.4,1259.3 L475.2,1253.5 L471.6,1251.1 L469.3,1247.6 L472.9,1243.2 L477.5,1240.5 L472.5,1238.3 L469.3,1235.8 L474.0,1232.3 L476.4,1225.2 L479.6,1223.8 L483.4,1220.5 L488.1,1214.7 L493.0,1212.5 L496.4,1208.3 L502.2,1210.0 L505.9,1206.8 L510.5,1205.3 L511.6,1200.6 L517.5,1197.0 L519.6,1193.5 L523.4,1190.0 L526.8,1186.3 L529.3,1182.9 L529.9,1178.6 L531.6,1174.7 L529.3,1168.8 L522.2,1166.5 L518.3,1168.0 L514.0,1168.8 L513.9,1164.2 L512.8,1158.2 L509.0,1158.0 L504.6,1159.4 L502.5,1155.0 L499.0,1151.5 L494.9,1149.1 L490.5,1147.2 L485.4,1144.8 L479.3,1143.7 L474.6,1143.0 L470.1,1144.0 L466.6,1143.0 L463.0,1144.1 L458.9,1146.8 L455.3,1147.2 L453.5,1150.4 L451.7,1154.7 L451.1,1159.7 L449.3,1164.1 L449.5,1167.2 L447.7,1172.6 L447.0,1175.9 L443.4,1182.9 L436.4,1185.3 L432.4,1186.7 L427.0,1186.4 L422.1,1188.0 L418.4,1189.7 L415.2,1192.3 L412.2,1194.0 L408.3,1195.2 L403.5,1197.0 L400.3,1198.5 L395.2,1200.7 L391.7,1201.7 L387.9,1204.5 L382.3,1208.8 L377.8,1211.4 L372.9,1213.5 L368.2,1210.0 L364.7,1206.8 L362.3,1204.1 L357.5,1202.9 L354.1,1202.9 L349.3,1203.1 L345.8,1202.3 L341.2,1202.9 L339.6,1197.9 L340.0,1193.5 L339.8,1188.8 L338.8,1185.3 L335.5,1181.2 L332.9,1178.2 L330.0,1173.6 L325.9,1168.8 L325.6,1163.3 L327.0,1159.4 L328.0,1154.8 L329.4,1150.0 L328.1,1156.9 L328.8,1151.4 L328.2,1147.9 L329.3,1142.8 L327.3,1137.7 L325.7,1133.4 L324.5,1129.6 L323.8,1124.1 L323.4,1119.3 L322.5,1113.2 L322.2,1107.5 L319.4,1106.2 L314.9,1102.2 L311.6,1100.5 L308.6,1095.8 L304.6,1092.2 L300.1,1090.1 L297.5,1086.3 L291.5,1085.8 L285.8,1084.0 L285.8,1076.9 L283.6,1073.8 L281.8,1068.4 L279.9,1065.2 L285.8,1060.5 L288.9,1058.3 L294.0,1055.8 L290.2,1054.3 L285.8,1051.1 L283.8,1046.6 L283.4,1041.7 L285.5,1037.6 L288.1,1033.4 L283.4,1032.3 L280.3,1027.2 L278.7,1022.9 L276.4,1019.0 L274.0,1013.4 L267.4,1012.2 L262.3,1011.1 L261.3,1008.1 L258.6,1002.5 L257.6,999.3 L254.9,995.6 L250.5,989.9 L251.3,983.9 L253.0,979.5 L252.9,974.6 L259.6,974.3 L264.6,973.5 L269.9,970.5 L274.0,968.8 L275.2,961.7 L273.4,957.6 L270.5,954.7 L272.1,950.6 L274.0,945.2 L278.8,942.8 L281.7,941.5 L286.4,939.7 L290.5,938.2 L294.4,934.1 L299.9,931.1 L304.2,930.0 L306.8,927.4 L311.6,925.3 L316.4,923.2 L320.9,922.1 L324.6,921.7 L323.0,917.1 L321.0,912.3 L317.4,909.9 L313.0,908.5 L309.3,906.4 L304.9,905.2 L300.6,903.1 L296.4,901.7 L295.2,895.9 L290.3,893.8 L287.3,890.6 L283.4,888.8 L281.6,885.5 L278.6,880.4 L276.4,877.1 L272.4,877.1 L267.8,878.5 L264.6,879.4 L259.9,880.9 L256.8,881.6 L252.9,884.1 L250.2,879.7 L247.5,877.6 L244.1,872.6 L241.1,870.0 L236.4,866.2 L231.7,862.8 L228.7,860.9 L224.5,861.4 L219.9,859.2 L218.0,863.5 L214.6,867.4 L212.9,870.1 L209.3,875.1 L205.8,878.2 L203.5,874.8 L200.1,873.7 L196.4,870.1 L194.4,865.6 L194.1,861.6 L193.4,856.2 L191.7,852.2 L189.0,849.4 L184.7,847.5 L180.6,845.6 L175.2,845.1 L175.2,838.1 L172.9,834.2 L170.5,828.7 L165.2,828.2 L161.1,828.7 L157.0,827.1 L152.9,826.3 L153.2,819.8 L155.3,814.6 L155.2,809.6 L156.4,802.8 L155.6,799.7 L153.4,795.5 L152.9,791.0 L155.7,788.3 L160.2,785.3 L163.5,782.8 L166.0,778.8 L167.0,774.6 L168.9,770.7 L170.5,765.2 L173.6,764.6 L178.6,761.9 L182.3,760.5 L181.1,755.9 L178.8,752.2 L182.3,746.4 L186.8,743.6 L189.4,740.5 L193.8,739.8 L198.8,738.1 L202.6,735.5 L207.1,733.3 L210.5,732.3 L215.1,729.0 L218.6,727.7 L222.3,724.0 L228.2,720.5 L232.7,720.8 L236.4,719.5 L241.1,720.5 L244.9,719.2 L250.5,719.3 L255.4,719.6 L259.9,720.9 L264.6,720.5 L268.1,719.5 L273.4,718.6 L276.3,718.8 L280.8,718.3 L285.8,718.1 L285.8,711.1 L282.2,706.4 L282.2,701.9 L283.4,697.0 L285.9,691.7 L288.1,687.6 L287.7,682.8 L286.9,678.2 L287.8,675.1 L289.6,669.6 L291.7,666.4 L289.3,664.1 L287.9,658.5 L288.1,652.3 L292.8,647.6 L292.4,643.5 L290.5,638.2 L291.1,633.8 L291.1,630.6 L292.8,626.4 L291.8,621.4 L290.5,617.0 L289.0,612.2 L286.9,607.6 L288.4,603.4 L288.1,598.2 L286.4,594.3 L285.8,588.8 L283.7,584.2 L283.4,579.4 L282.1,574.2 L281.1,570.1 L279.0,565.2 L278.7,559.2 L276.6,554.6 L276.4,549.8 L279.9,542.8 L276.7,540.9 L271.7,540.4 L269.3,533.4 L272.2,531.3 L276.4,528.7 L281.1,527.0 L286.4,524.1 L290.5,522.8 L283.4,525.1 L278.3,527.7 L274.0,531.0 L268.1,535.7 L265.4,540.6 L264.6,544.0 L259.3,543.8 L252.9,542.8 L250.5,548.7 L246.0,546.4 L243.4,542.8 L239.2,543.3 L234.0,544.0 L231.0,547.4 L227.0,551.0 L225.3,555.5 L224.6,561.6 L217.6,563.9 L212.4,563.0 L207.9,564.4 L203.9,564.6 L198.8,563.9 L195.7,558.7 L191.7,554.5 L189.5,550.8 L187.6,547.5 L184.2,544.2 L182.3,540.4 L180.1,536.7 L176.8,533.2 L172.9,531.0 L167.7,527.5 L163.5,525.1 L159.3,526.0 L154.6,524.8 L149.4,525.1 L146.2,525.6 L141.0,527.5 L137.6,527.5 L134.0,526.3 L130.1,525.3 L125.9,522.8 L121.1,522.3 L116.9,521.2 L111.8,519.3 L110.5,515.0 L109.4,509.9 L110.7,504.8 L111.8,500.5 L105.9,495.7 L105.7,490.7 L105.8,486.1 L107.0,480.0 L105.8,472.3 L112.9,469.9 L109.3,465.2 L107.6,459.3 L111.7,457.6 L109.9,453.5 L104.6,453.5 L98.8,449.9 L96.4,444.6 L91.7,443.5 L86.3,442.9 L82.3,444.1 L76.8,444.4 L72.9,442.9 L66.4,441.1 L70.5,438.2 L69.4,434.6 L64.9,433.3 L61.1,433.5 L54.1,432.3 L47.0,435.8 L44.7,432.3 L38.8,428.8 L32.9,427.0 L32.9,420.5 L35.3,419.4 L34.1,414.7 L41.2,414.1 L44.7,411.1 L40.6,407.6 L38.8,400.5 L34.7,397.0 L36.4,390.0 L33.5,386.4 L38.8,384.7 L44.1,380.6 L47.3,380.2 L52.3,381.7 L55.3,386.4 L58.8,393.5 L65.8,397.0 L72.9,395.8 L76.4,398.8 L82.3,397.0 L89.4,400.5 L96.4,398.8 L101.1,397.0 L102.3,392.3 L108.2,388.8 L113.3,387.9 L117.6,386.4 L123.5,384.7 L128.0,384.9 L131.7,384.1 L135.2,382.3 L134.0,374.7 L135.2,367.6 L141.1,365.3 L142.3,359.4 L142.3,353.7 L144.0,347.6 L144.3,343.9 L145.8,339.8 L145.8,334.7 L143.4,330.0 L138.8,324.1 L137.9,320.1 L139.6,315.6 L138.8,310.0 L144.7,306.4 L144.7,301.5 L145.5,296.9 L147.0,293.5 L153.0,293.0 L157.6,291.2 L160.2,287.4 L162.3,282.2 L167.9,280.0 L172.9,278.7 L178.0,278.4 L184.7,279.8 L189.9,278.0 L193.7,277.3 L198.8,276.3 L201.8,275.4 L206.4,275.8 L210.5,274.6 L215.7,274.5 L218.8,274.0 L217.5,269.9 L213.9,265.2 L212.9,261.0 L210.4,256.8 L208.2,251.6 L208.4,247.3 L209.3,242.2 L205.8,235.2 L203.5,230.5 L201.1,226.9 L205.8,225.3 L209.6,224.7 L212.9,224.6 L212.5,219.9 L214.1,216.3 L216.4,213.2 L217.6,208.1 L215.2,202.2 L209.9,202.2 L206.6,202.8 L202.3,202.2 L195.2,199.9 L196.9,195.2 L199.9,190.5 L201.4,185.9 L203.5,179.9 L203.6,176.7 L204.6,171.7 L206.5,167.0 L209.3,163.4 L215.0,162.8 L219.9,162.3 L221.1,156.4 L224.6,156.4 L228.9,156.5 L234.0,155.7 L238.5,154.6 L242.3,152.4 L247.9,153.5 L252.9,155.2 L257.4,155.0 L262.3,155.2 L266.6,157.9 L269.3,162.3 L271.8,165.1 L272.8,169.8 L278.7,164.6 L283.4,168.1 L287.5,168.0 L292.8,168.8 L298.3,170.8 L302.2,172.8 L304.9,177.7 L308.1,181.1 L305.2,184.5 L303.4,188.1 L304.6,195.2 L308.2,198.1 L311.6,199.9 L316.3,204.3 L319.9,208.1 L321.0,214.0 L323.4,219.9 L327.8,223.1 L332.8,226.9 L335.2,230.4 L339.4,232.9 L342.2,235.2 L343.3,239.2 L345.7,243.4 L352.8,243.4 L358.7,239.9 L362.7,237.7 L365.7,235.2 L368.5,237.5 L372.8,239.9 L374.0,235.2 L378.9,232.9 L382.2,231.6 L385.7,228.9 L390.4,226.9 L396.1,227.6 L401.0,226.9 L403.9,223.3 L408.1,221.0 L415.1,221.0 L415.2,214.8 L416.3,209.3 L420.4,206.9 L424.5,205.8 L428.1,204.0 L433.3,203.9 L436.3,202.2 L440.2,202.0 L445.7,199.9 L449.2,193.3 L452.5,195.2 L457.4,197.5 L462.9,199.3 L466.4,199.9 L467.1,195.1 L466.8,190.5 L467.1,184.9 L468.7,178.7 L464.1,175.2 L461.0,172.8 L457.8,167.8 L455.1,164.6 L452.5,160.5 L450.4,155.2 L447.8,151.7 L444.5,148.1 L441.8,144.5 L438.6,141.1 L441.0,134.0 L443.2,131.3 L446.9,128.2 L444.4,123.4 L442.2,117.6 L445.7,110.5 L449.7,106.9 L452.0,103.5 L445.7,99.9 L439.9,100.0 L433.9,99.2 L430.2,100.8 L426.9,103.5 L422.6,103.1 L417.5,101.1 L410.4,103.5 L406.6,104.3 L402.5,104.6 L397.5,104.6 L401.0,98.8 L397.7,95.2 L393.9,91.7 L389.6,90.8 L385.3,89.2 L382.2,88.2 L377.5,82.3 L370.4,78.8 L365.7,78.6 L359.8,77.6 L358.7,70.5 L352.8,65.8 L350.1,62.4Z"/>
<clipPath id="t0"><rect x="100" y="270" width="400" height="300"/></clipPath>
<g clip-path="url(#t0)">
<rect x="100" y="270" width="400" height="300" fill="#a6f28f"/>
<path fill="#ffffff" d="M513.9,300.6 C511.6,303.5 504.3,312.7 500.0,318.2 C495.7,323.7 492.0,329.0 488.0,333.5 C484.0,338.0 479.7,341.3 476.2,345.2 C472.7,349.1 469.5,352.3 466.8,357.0 C464.1,361.7 462.9,368.8 459.8,373.5 C456.7,378.2 453.1,382.0 448.0,385.2 C442.9,388.4 435.1,390.4 429.2,392.8 C423.3,395.2 417.5,398.6 412.8,399.3 C408.1,400.0 404.9,398.9 401.0,397.0 C397.1,395.1 392.8,390.4 389.2,387.6 C385.6,384.9 381.0,383.4 379.4,380.5 C377.8,377.6 380.2,372.2 379.8,369.9 C379.4,367.6 377.9,366.9 377.0,366.9 C376.1,366.9 375.4,367.6 374.7,369.9 C374.0,372.2 375.1,378.3 372.8,380.5 C370.5,382.7 364.5,383.1 361.0,382.9 C357.5,382.7 354.3,379.3 351.6,379.3 C348.9,379.3 347.0,380.9 344.6,382.9 C342.2,384.9 335.1,387.8 337.5,391.1 C339.9,394.4 353.2,400.0 358.7,402.9 C364.2,405.8 366.5,406.2 370.4,408.7 C374.3,411.2 378.7,416.1 382.2,418.1 C385.7,420.1 388.5,420.5 391.6,420.5 C394.7,420.5 399.0,419.7 401.0,418.1 C403.0,416.5 401.8,412.7 403.4,411.1 C405.0,409.5 408.4,408.3 410.4,408.7 C412.3,409.1 414.5,411.4 415.1,413.4 C415.7,415.4 415.5,418.3 413.9,420.5 C412.3,422.7 407.8,424.8 405.7,426.4 C403.6,428.0 403.8,428.9 401.0,429.9 C398.2,430.9 393.1,431.5 389.2,432.3 C385.3,433.1 381.4,435.5 377.5,434.6 C373.6,433.7 369.4,428.9 365.7,427.1 C362.0,425.3 358.4,423.9 355.1,424.0 C351.8,424.1 349.0,425.8 345.7,427.6 C342.4,429.4 338.3,433.2 335.2,434.6 C332.1,436.0 330.0,436.2 326.9,435.8 C323.8,435.4 320.0,433.3 316.3,432.3 C312.6,431.3 308.1,431.3 304.6,429.9 C301.1,428.5 298.1,426.6 295.2,424.0 C292.2,421.4 289.1,417.7 286.9,414.6 C284.7,411.5 283.0,408.3 282.2,405.2 C281.4,402.1 280.8,398.1 282.2,395.8 C283.6,393.5 287.2,392.0 290.5,391.1 C293.8,390.2 298.9,391.2 302.2,390.4 C305.5,389.6 308.7,388.4 310.5,386.4 C312.3,384.4 313.4,381.3 312.8,378.2 C312.2,375.1 309.8,370.2 306.9,367.6 C304.0,365.1 299.5,363.3 295.2,362.9 C290.9,362.5 285.4,363.8 281.1,365.2 C276.8,366.6 271.9,368.6 269.3,371.1 C266.8,373.7 266.0,376.8 265.8,380.5 C265.6,384.2 269.9,391.1 268.1,393.5 C266.3,395.9 258.9,394.0 255.2,394.6 C251.5,395.2 248.7,398.9 245.8,397.0 C242.9,395.1 242.3,387.6 237.6,382.9 C232.9,378.2 224.1,372.5 217.6,368.8 C211.1,365.1 203.7,362.4 198.8,360.5 C193.9,358.6 189.0,358.7 188.2,357.5 C187.4,356.3 191.9,355.1 194.1,353.5 C196.2,351.9 198.9,350.2 201.1,347.6 C203.2,345.1 206.2,340.9 207.0,338.2 C207.8,335.4 208.0,333.7 205.8,331.1 C203.7,328.6 198.4,325.0 194.1,322.9 C189.8,320.8 184.7,318.8 180.0,318.2 C175.3,317.6 169.9,319.4 165.8,319.4 C161.7,319.4 157.2,319.2 155.3,318.2 C153.4,317.2 152.7,315.3 154.1,313.5 C155.5,311.7 160.8,310.2 163.5,307.6 C166.2,305.1 169.3,301.5 170.5,298.2 C171.7,294.9 171.7,290.5 170.5,287.6 C169.3,284.7 164.7,281.8 163.5,280.6 L158.8,265.3 L513.9,265.3Z"/>
<path fill="#ffffff" d="M101.4,406.4 C101.6,404.8 102.0,402.8 103.5,401.7 C105.0,400.6 108.0,400.2 110.5,400.0 C113.0,399.8 116.8,399.2 118.8,400.5 C120.8,401.8 122.5,404.9 122.3,407.6 C122.1,410.4 119.4,414.8 117.6,417.0 C115.8,419.2 113.7,421.3 111.7,421.1 C109.7,420.9 107.4,417.5 105.8,415.8 C104.2,414.1 103.0,412.7 102.3,411.1 C101.6,409.5 101.2,408.0 101.4,406.4Z"/>
<path fill="#a6f28f" d="M453.4,345.7 C453.4,346.2 453.1,346.9 452.6,347.4 C452.1,347.8 451.3,348.2 450.5,348.4 C449.7,348.6 448.7,348.6 447.9,348.4 C447.1,348.2 446.3,347.8 445.8,347.4 C445.3,346.9 445.0,346.2 445.0,345.7 C445.0,345.1 445.3,344.6 445.8,344.1 C446.3,343.7 447.1,343.2 447.9,343.0 C448.7,342.8 449.7,342.8 450.5,343.0 C451.3,343.2 452.1,343.7 452.6,344.1 C453.1,344.6 453.4,345.1 453.4,345.7Z"/>
<path fill="#ffffff" d="M433.0,468.9 C433.0,469.2 432.7,469.6 432.2,469.8 C431.7,470.0 430.9,470.2 430.1,470.3 C429.3,470.4 428.2,470.4 427.4,470.3 C426.6,470.2 425.8,470.0 425.3,469.8 C424.8,469.6 424.5,469.2 424.5,468.9 C424.5,468.6 424.8,468.3 425.3,468.1 C425.8,467.9 426.6,467.7 427.4,467.6 C428.2,467.5 429.3,467.5 430.1,467.6 C430.9,467.7 431.7,467.9 432.2,468.1 C432.7,468.3 433.0,468.6 433.0,468.9Z"/>
<path fill="#3dba3d" d="M225.8,457.4 C225.8,458.8 225.2,460.5 224.3,461.6 C223.4,462.7 221.8,463.7 220.4,464.1 C219.0,464.5 217.1,464.5 215.7,464.1 C214.3,463.7 212.7,462.7 211.8,461.6 C210.9,460.5 210.3,458.8 210.3,457.4 C210.3,456.0 210.9,454.4 211.8,453.3 C212.7,452.2 214.3,451.1 215.7,450.7 C217.1,450.3 219.0,450.3 220.4,450.7 C221.8,451.1 223.4,452.2 224.3,453.3 C225.2,454.4 225.8,456.0 225.8,457.4Z"/>
<path fill="#3dba3d" d="M95.3,491.0 C97.3,490.8 103.2,490.9 107.1,489.9 C111.0,488.9 114.9,486.3 118.8,485.2 C122.7,484.1 125.9,483.5 130.6,483.5 C135.3,483.5 141.9,485.3 147.0,485.2 C152.1,485.1 156.8,482.8 161.1,482.8 C165.4,482.8 169.4,484.0 172.9,485.2 C176.4,486.4 178.8,488.3 182.3,489.9 C185.8,491.5 189.4,493.4 194.1,494.6 C198.8,495.8 205.8,497.5 210.5,496.9 C215.2,496.3 218.8,493.6 222.3,491.0 C225.8,488.4 228.6,484.3 231.7,481.6 C234.8,478.9 237.6,476.4 241.1,474.6 C244.6,472.9 249.0,472.1 252.9,471.1 C256.8,470.1 261.1,469.6 264.6,468.7 C268.1,467.8 270.9,465.8 274.0,465.6 C277.1,465.4 281.0,466.0 283.4,467.5 C285.8,469.0 286.1,472.2 288.1,474.6 C290.1,477.0 292.9,478.5 295.2,481.6 C297.5,484.7 299.6,489.5 302.2,493.4 C304.8,497.3 308.7,502.4 310.5,505.2 C312.3,507.9 313.0,508.3 312.8,509.9 C312.6,511.5 311.5,513.0 309.3,514.6 C307.1,516.2 303.0,517.8 299.9,519.3 C296.8,520.8 293.2,521.9 290.5,523.5 C287.8,525.1 285.8,525.9 283.4,528.7 C281.0,531.5 277.6,538.5 276.4,540.4 L264.6,575.7 L95.3,575.7Z"/>
<path fill="#3dba3d" d="M513.9,441.7 C511.6,442.5 504.7,444.0 500.0,446.4 C495.3,448.8 489.7,452.7 485.7,455.8 C481.7,458.9 479.3,462.1 476.2,465.2 C473.1,468.3 470.7,472.2 466.8,474.6 C462.9,477.0 458.2,477.7 452.7,479.3 C447.2,480.9 439.8,482.4 433.9,484.0 C428.0,485.6 422.2,487.1 417.5,488.7 C412.8,490.3 409.2,491.6 405.7,493.4 C402.2,495.2 399.6,497.7 396.3,499.3 C393.0,500.9 388.1,501.4 385.7,502.8 C383.3,504.2 382.0,505.1 382.2,507.5 C382.4,509.9 384.9,513.4 386.9,516.9 C388.8,520.4 392.2,524.8 393.9,528.7 C395.5,532.6 397.0,536.9 396.8,540.4 C396.6,543.9 395.2,547.2 392.8,549.8 C390.4,552.3 385.9,553.7 382.2,555.7 C378.5,557.7 376.3,560.0 370.4,561.6 C364.5,563.2 352.8,564.2 346.9,565.1 C341.0,566.0 339.5,566.0 335.2,566.8 C330.9,567.6 324.9,568.6 321.0,570.1 C317.1,571.6 313.2,574.8 311.6,575.7 L513.9,575.7Z"/>
<path fill="#a6f28f" d="M484.2,544.4 C486.6,541.4 485.9,542.1 494.1,541.6 C502.3,541.1 525.4,542.3 533.6,541.6 C541.8,540.9 540.2,537.4 543.5,537.4 C546.8,537.4 550.1,539.7 553.4,541.6 C556.7,543.5 561.8,546.0 563.2,548.6 C564.6,551.2 564.4,554.5 561.8,557.1 C559.2,559.7 551.5,562.1 547.7,564.2 C544.0,566.3 541.4,567.9 539.3,569.8 C537.2,571.7 536.0,572.6 535.0,575.4 C534.0,578.2 534.8,584.1 533.6,586.7 C532.4,589.3 531.0,590.8 528.0,591.0 C525.0,591.2 519.1,588.6 515.3,588.1 C511.5,587.6 508.2,586.5 505.4,588.1 C502.6,589.8 501.1,596.1 498.3,598.0 C495.5,599.9 491.6,599.9 488.5,599.4 C485.4,598.9 481.9,598.2 480.0,595.2 C478.1,592.2 477.2,587.0 477.2,581.1 C477.2,575.2 478.8,566.0 480.0,559.9 C481.2,553.8 481.8,547.4 484.2,544.4Z"/>
<path fill="#61b8ff" d="M245.8,487.5 C248.9,485.9 255.6,485.3 259.9,485.9 C264.2,486.5 268.4,488.8 271.7,491.0 C275.0,493.2 278.3,496.6 279.9,499.3 C281.5,502.1 282.1,504.6 281.1,507.5 C280.1,510.4 276.8,513.8 274.0,516.9 C271.2,520.0 267.7,523.2 264.6,526.3 C261.5,529.4 257.9,533.0 255.2,535.7 C252.4,538.5 250.4,541.0 248.1,542.8 C245.8,544.6 243.0,544.7 241.1,546.3 C239.2,547.9 239.5,548.1 236.4,552.2 C233.3,556.3 229.4,567.9 222.3,571.0 C215.2,574.1 201.2,575.7 194.1,571.0 C187.0,566.3 180.0,549.1 180.0,542.8 C180.0,536.5 190.6,536.1 194.1,533.4 C197.6,530.6 198.8,528.5 201.1,526.3 C203.4,524.1 205.4,521.6 208.2,520.4 C210.9,519.2 214.5,520.3 217.6,519.3 C220.7,518.3 223.9,516.6 227.0,514.6 C230.1,512.6 234.1,510.6 236.4,507.5 C238.8,504.4 239.5,499.0 241.1,495.7 C242.7,492.4 242.7,489.1 245.8,487.5Z"/>
<path fill="#61b8ff" d="M148.2,526.3 C147.2,524.1 150.9,520.0 152.9,518.1 C154.9,516.2 157.8,514.6 160.0,514.6 C162.2,514.6 164.5,516.2 165.8,518.1 C167.1,520.0 168.9,524.1 167.7,526.3 C166.5,528.4 162.1,531.0 158.8,531.0 C155.6,531.0 149.2,528.4 148.2,526.3Z"/>
<path fill="#61b8ff" d="M513.9,474.6 C511.6,475.2 504.3,476.9 500.0,478.1 C495.7,479.3 492.0,480.8 488.0,481.6 C484.0,482.4 480.5,482.4 476.2,482.8 C471.9,483.2 466.8,483.2 462.1,484.0 C457.4,484.8 452.7,486.1 448.0,487.5 C443.3,488.9 438.2,490.8 433.9,492.2 C429.6,493.6 425.7,494.1 422.2,495.7 C418.7,497.3 415.0,499.6 412.8,501.6 C410.6,503.6 409.2,505.3 409.2,507.5 C409.2,509.7 411.8,511.9 412.8,514.6 C413.8,517.4 415.1,520.9 415.1,524.0 C415.1,527.1 413.8,530.3 412.8,533.4 C411.8,536.5 410.0,539.7 409.2,542.8 C408.4,545.9 407.5,549.3 408.1,552.2 C408.7,555.1 410.3,558.6 412.8,560.4 C415.3,562.2 418.4,561.8 423.1,562.8 C427.8,563.8 435.1,566.4 441.0,566.1 C446.9,565.8 453.9,564.1 458.6,560.9 C463.3,557.7 466.1,552.0 469.0,547.0 C471.9,542.0 472.8,533.9 476.0,531.0 C479.2,528.1 484.0,530.2 488.0,529.8 C492.0,529.4 495.7,528.9 500.0,528.7 C504.3,528.5 511.6,528.7 513.9,528.7Z"/>
<path fill="#3dba3d" d="M448.0,529.8 C448.0,530.5 447.8,531.3 447.4,531.9 C447.0,532.5 446.3,533.0 445.6,533.2 C444.9,533.4 444.1,533.4 443.4,533.2 C442.7,533.0 442.0,532.5 441.6,531.9 C441.2,531.3 441.0,530.5 441.0,529.8 C441.0,529.1 441.2,528.3 441.6,527.8 C442.0,527.2 442.7,526.7 443.4,526.5 C444.1,526.3 444.9,526.3 445.6,526.5 C446.3,526.7 447.0,527.2 447.4,527.8 C447.8,528.3 448.0,529.1 448.0,529.8Z"/>
<path fill="#0000ff" d="M444.5,501.6 C445.3,499.1 449.0,495.3 452.7,493.4 C456.4,491.4 462.1,490.1 466.8,489.9 C471.5,489.7 475.5,492.0 481.0,492.2 C486.5,492.4 494.1,492.4 499.8,490.8 C505.5,489.2 510.8,485.2 515.3,482.3 C519.8,479.4 523.1,474.5 526.6,473.2 C530.1,471.9 533.4,474.7 536.4,474.6 C539.4,474.5 542.5,474.0 544.9,472.5 C547.2,471.0 548.6,467.8 550.5,465.4 C552.4,463.0 554.1,460.1 556.2,458.3 C558.3,456.5 560.9,455.0 563.2,454.4 C565.6,453.8 568.2,454.1 570.3,454.8 C572.4,455.5 574.6,456.8 575.9,458.3 C577.2,459.8 578.1,461.9 578.1,464.0 C578.1,466.1 577.2,469.1 575.9,471.0 C574.6,472.9 572.2,473.9 570.3,475.3 C568.4,476.7 568.0,477.6 564.7,479.5 C561.4,481.4 555.7,484.2 550.5,486.6 C545.3,489.0 538.3,491.5 533.6,493.6 C528.9,495.7 525.3,497.4 522.3,499.3 C519.2,501.2 517.2,503.0 515.3,504.9 C513.4,506.8 511.6,508.1 511.0,510.5 C510.4,512.9 512.4,516.6 511.7,519.0 C511.0,521.4 509.3,523.6 506.8,524.7 C504.3,525.8 500.4,525.7 496.9,525.4 C493.4,525.1 489.1,524.2 485.7,522.8 C482.2,521.4 478.6,519.0 476.2,516.9 C473.8,514.8 474.2,510.9 471.5,509.9 C468.8,508.9 463.7,511.2 459.8,511.0 C455.9,510.8 450.6,510.3 448.0,508.7 C445.4,507.1 443.7,504.2 444.5,501.6Z"/>
<path fill="#ff00ff" d="M492.0,501.4 C492.0,502.0 491.7,502.7 491.2,503.2 C490.7,503.7 489.9,504.1 489.1,504.3 C488.3,504.5 487.3,504.5 486.5,504.3 C485.7,504.1 484.8,503.7 484.3,503.2 C483.8,502.7 483.5,502.0 483.5,501.4 C483.5,500.8 483.8,500.1 484.3,499.6 C484.8,499.1 485.7,498.6 486.5,498.4 C487.3,498.2 488.3,498.2 489.1,498.4 C489.9,498.6 490.7,499.1 491.2,499.6 C491.7,500.1 492.0,500.8 492.0,501.4Z"/>
</g>
<clipPath id="t1"><rect x="500" y="270" width="400" height="300"/></clipPath>
<g clip-path="url(#t1)">
<rect x="500" y="270" width="400" height="300" fill="#3dba3d"/>
<path fill="#a6f28f" d="M490.6,451.1 C492.2,450.3 496.1,448.4 500.0,446.4 C503.9,444.4 509.4,442.1 514.1,439.3 C518.8,436.6 523.9,433.0 528.2,429.9 C532.5,426.8 537.5,424.0 540.0,420.5 C542.5,417.0 543.4,413.4 543.5,408.7 C543.6,404.0 541.2,397.0 540.4,392.3 C539.6,387.6 538.1,384.0 538.8,380.5 C539.5,377.0 541.4,373.8 544.7,371.1 C548.0,368.4 554.9,366.5 558.8,364.1 C562.7,361.8 566.2,359.2 568.2,357.0 C570.2,354.8 571.3,353.1 570.5,351.1 C569.7,349.1 566.6,346.4 563.5,345.2 C560.4,344.0 554.8,344.9 551.7,344.1 C548.6,343.3 545.5,341.9 544.7,340.5 C543.9,339.1 544.6,337.2 547.0,335.8 C549.4,334.4 555.3,334.7 558.8,332.3 C562.3,329.9 565.1,325.4 568.2,321.7 C571.3,318.0 574.1,313.1 577.6,310.0 C581.1,306.9 585.1,304.9 589.4,302.9 C593.7,300.9 598.8,299.4 603.5,298.2 C608.2,297.0 612.9,295.9 617.6,295.9 C622.3,295.9 627.0,296.6 631.7,298.2 C636.4,299.8 641.1,303.1 645.8,305.3 C650.5,307.5 656.0,310.4 659.9,311.2 C663.8,312.0 666.5,311.4 669.3,310.0 C672.0,308.6 674.6,305.6 676.4,302.9 C678.2,300.1 678.3,296.8 679.9,293.5 C681.5,290.2 682.9,286.0 685.8,282.9 C688.7,279.8 693.2,276.8 697.5,274.7 C701.8,272.6 707.3,271.2 711.6,270.0 C715.9,268.8 719.5,268.8 723.4,267.6 C727.3,266.4 733.2,263.7 735.2,262.9 L490.6,262.9Z"/>
<path fill="#ffffff" d="M490.6,324.1 C492.2,322.9 496.1,319.9 500.0,317.0 C503.9,314.1 509.8,309.5 514.1,306.4 C518.4,303.3 523.0,300.3 525.9,298.2 C528.8,296.1 531.2,295.9 531.7,293.5 C532.2,291.1 529.9,286.8 528.7,284.1 C527.5,281.4 525.6,280.6 524.7,277.1 C523.8,273.6 523.7,265.3 523.5,262.9 L490.6,262.9Z"/>
<path fill="#a6f28f" d="M852.7,373.5 C849.6,374.7 840.2,378.5 833.9,380.5 C827.6,382.5 821.0,385.3 815.1,385.7 C809.2,386.1 804.1,383.4 798.6,382.9 C793.1,382.3 786.5,380.8 782.2,382.4 C777.9,384.0 775.5,389.1 772.8,392.3 C770.0,395.5 768.8,399.0 765.7,401.7 C762.6,404.4 757.5,405.6 754.0,408.7 C750.5,411.8 746.6,416.2 744.6,420.5 C742.6,424.8 742.4,429.9 742.2,434.6 C742.0,439.3 743.6,444.0 743.4,448.7 C743.2,453.4 741.2,458.5 741.0,462.8 C740.8,467.1 740.8,471.3 742.2,474.6 C743.6,477.9 746.5,480.7 749.3,482.8 C752.0,484.9 755.6,487.3 758.7,487.5 C761.8,487.7 764.6,485.2 768.1,484.0 C771.6,482.8 775.5,480.7 779.8,480.5 C784.1,480.3 790.0,481.4 793.9,482.8 C797.8,484.2 800.6,486.1 803.4,488.7 C806.1,491.2 808.8,495.0 810.4,498.1 C812.0,501.2 811.8,504.4 812.8,507.5 C813.8,510.6 814.5,515.7 816.3,516.9 C818.0,518.1 820.8,515.4 823.3,514.6 C825.8,513.8 829.0,512.0 831.6,512.2 C834.2,512.4 836.8,514.5 838.6,515.7 C840.4,516.9 840.6,519.5 842.2,519.3 C843.8,519.1 844.7,515.8 848.0,514.6 C851.3,513.4 857.4,512.6 862.1,512.2 C866.8,511.8 871.5,512.6 876.2,512.2 C880.9,511.8 886.4,510.7 890.4,509.9 C894.4,509.1 896.1,508.1 900.0,507.5 C903.9,506.9 911.6,506.5 913.9,506.3 L913.9,364.1Z"/>
<path fill="#ffffff" d="M843.3,432.3 C844.1,430.3 848.8,429.1 852.7,428.7 C856.6,428.3 865.6,428.1 866.8,429.9 C868.0,431.7 861.4,436.8 859.8,439.3 C858.2,441.9 859.4,445.0 857.4,445.2 C855.4,445.4 850.4,442.6 848.0,440.5 C845.6,438.4 842.5,434.3 843.3,432.3Z"/>
<path fill="#3dba3d" d="M858.6,371.1 C858.6,372.4 857.9,373.9 856.9,375.0 C855.9,376.1 854.1,377.0 852.4,377.4 C850.7,377.8 848.6,377.8 846.9,377.4 C845.2,377.0 843.4,376.1 842.4,375.0 C841.4,373.9 840.7,372.4 840.7,371.1 C840.7,369.8 841.4,368.2 842.4,367.2 C843.4,366.2 845.2,365.3 846.9,364.9 C848.6,364.5 850.7,364.5 852.4,364.9 C854.1,365.3 855.9,366.2 856.9,367.2 C857.9,368.2 858.6,369.8 858.6,371.1Z"/>
<path fill="#a6f28f" d="M752.8,531.0 C753.9,528.3 756.6,525.6 758.7,524.0 C760.9,522.4 762.6,521.1 765.7,521.1 C768.8,521.1 774.0,522.4 777.5,524.0 C781.0,525.6 783.4,529.0 786.9,531.0 C790.4,533.0 795.7,533.9 798.6,535.7 C801.5,537.5 804.9,539.6 804.5,541.6 C804.1,543.6 800.0,545.9 796.3,547.5 C792.6,549.1 786.5,549.6 782.2,551.0 C777.9,552.4 773.9,553.9 770.4,555.7 C766.9,557.5 763.7,559.5 761.0,561.6 C758.3,563.8 756.7,566.8 754.0,568.6 C751.3,570.4 748.1,571.6 744.6,572.2 C741.1,572.8 736.3,573.0 732.8,572.2 C729.3,571.4 725.2,569.3 723.4,567.5 C721.6,565.7 721.2,563.0 722.2,561.6 C723.2,560.2 726.0,559.8 729.3,559.2 C732.6,558.6 738.5,559.3 742.2,558.1 C745.9,556.9 750.0,555.2 751.6,552.2 C753.2,549.2 751.9,543.9 752.1,540.4 C752.3,536.9 751.7,533.7 752.8,531.0Z"/>
<path fill="#a6f28f" d="M484.2,544.4 C486.6,541.4 485.9,542.1 494.1,541.6 C502.3,541.1 525.4,542.3 533.6,541.6 C541.8,540.9 540.2,537.4 543.5,537.4 C546.8,537.4 550.1,539.7 553.4,541.6 C556.7,543.5 561.8,546.0 563.2,548.6 C564.6,551.2 564.4,554.5 561.8,557.1 C559.2,559.7 551.5,562.1 547.7,564.2 C544.0,566.3 541.4,567.9 539.3,569.8 C537.2,571.7 536.0,572.6 535.0,575.4 C534.0,578.2 534.8,584.1 533.6,586.7 C532.4,589.3 531.0,590.8 528.0,591.0 C525.0,591.2 519.1,588.6 515.3,588.1 C511.5,587.6 508.2,586.5 505.4,588.1 C502.6,589.8 501.1,596.1 498.3,598.0 C495.5,599.9 491.6,599.9 488.5,599.4 C485.4,598.9 481.9,598.2 480.0,595.2 C478.1,592.2 477.2,587.0 477.2,581.1 C477.2,575.2 478.8,566.0 480.0,559.9 C481.2,553.8 481.8,547.4 484.2,544.4Z"/>
<path fill="#61b8ff" d="M490.6,466.4 C495.8,455.0 496.1,463.5 500.0,461.7 C503.9,459.9 509.4,458.0 514.1,455.8 C518.8,453.6 523.5,451.4 528.2,448.7 C532.9,445.9 537.6,442.2 542.3,439.3 C547.0,436.4 551.7,432.9 556.4,431.1 C561.1,429.3 564.2,428.9 570.5,428.7 C576.8,428.5 587.0,429.7 594.1,429.9 C601.2,430.1 607.4,430.5 612.9,429.9 C618.4,429.3 622.7,427.6 627.0,426.4 C631.3,425.2 634.4,423.7 638.7,422.9 C643.0,422.1 649.0,422.9 652.9,421.7 C656.8,420.5 659.4,418.4 662.3,415.8 C665.2,413.2 667.6,409.9 670.5,406.4 C673.4,402.9 677.2,398.9 679.9,394.6 C682.6,390.3 684.8,384.8 686.9,380.5 C689.0,376.2 690.6,372.7 692.8,368.8 C695.0,364.9 696.8,360.5 699.9,357.0 C703.0,353.5 707.7,350.0 711.6,347.6 C715.5,345.2 718.3,344.3 723.4,342.9 C728.5,341.5 737.3,340.6 742.2,339.4 C747.1,338.2 750.6,337.6 752.8,335.8 C754.9,334.0 755.7,331.5 755.1,328.8 C754.5,326.1 752.2,321.5 749.3,319.4 C746.4,317.2 740.8,317.5 737.5,315.9 C734.2,314.3 731.3,312.6 729.3,310.0 C727.3,307.4 726.1,303.4 725.7,300.6 C725.3,297.9 725.7,295.7 726.9,293.5 C728.1,291.3 729.8,289.4 732.8,287.6 C735.8,285.8 740.3,284.1 744.6,282.9 C748.9,281.7 752.4,281.4 758.7,280.6 C765.0,279.8 775.9,278.8 782.2,278.2 C788.5,277.6 793.0,278.5 796.3,277.1 C799.6,275.7 800.2,271.6 802.2,270.0 C804.2,268.4 807.5,265.6 808.1,267.6 C808.7,269.6 806.5,277.5 805.7,281.8 C804.9,286.1 803.2,290.0 803.4,293.5 C803.6,297.0 804.9,300.9 806.9,302.9 C808.9,304.9 813.0,302.9 815.1,305.3 C817.2,307.7 820.6,311.1 819.8,317.0 C819.0,322.9 813.1,333.4 810.4,340.5 C807.7,347.6 806.5,355.5 803.4,359.4 C800.3,363.3 795.1,362.4 791.6,364.1 C788.1,365.9 787.7,368.3 782.2,369.9 C776.7,371.5 766.5,372.3 758.7,373.5 C750.9,374.7 739.7,374.6 735.2,377.0 C730.7,379.4 732.4,384.3 731.6,387.6 C730.8,390.9 731.5,393.9 730.5,397.0 C729.5,400.1 727.7,404.4 725.7,406.4 C723.7,408.3 721.1,409.3 718.7,408.7 C716.4,408.1 713.6,404.1 711.6,402.9 C709.6,401.7 708.5,400.7 706.9,401.7 C705.3,402.7 704.2,406.8 702.2,408.7 C700.2,410.6 697.9,411.8 695.2,413.4 C692.5,415.0 688.0,416.5 685.8,418.1 C683.6,419.7 681.0,421.6 682.2,422.9 C683.4,424.2 688.7,424.1 692.8,425.7 C696.9,427.3 702.6,429.8 706.9,432.3 C711.2,434.8 716.5,438.1 718.7,440.5 C720.9,442.9 721.1,443.8 719.9,446.4 C718.7,448.9 716.5,453.9 711.6,455.8 C706.7,457.8 694.6,453.7 690.5,458.1 C686.4,462.5 687.6,473.6 686.7,482.3 C685.8,491.0 685.2,503.4 685.3,510.5 C685.4,517.6 686.1,520.9 687.4,524.7 C688.7,528.5 691.6,530.3 693.1,533.1 C694.6,535.9 696.6,538.5 696.6,541.6 C696.6,544.7 695.1,548.7 693.1,551.5 C691.1,554.3 687.4,557.0 684.6,558.5 C681.8,560.0 678.9,560.8 676.1,560.6 C673.3,560.4 669.8,559.3 667.7,557.1 C665.6,554.9 664.4,550.5 663.4,547.2 C662.4,543.9 663.2,539.3 662.0,537.4 C660.8,535.5 658.5,535.4 656.4,535.9 C654.3,536.4 652.8,538.6 649.3,540.2 C645.8,541.9 639.9,543.9 635.2,545.8 C630.5,547.7 624.9,550.3 621.1,551.5 C617.3,552.7 613.6,551.3 612.6,552.9 C611.6,554.5 616.3,558.9 615.4,561.3 C614.5,563.6 609.8,565.4 607.0,567.0 C604.2,568.6 600.9,569.3 598.5,571.2 C596.1,573.1 594.5,576.2 592.9,578.3 C591.2,580.4 591.0,582.7 588.6,583.9 C586.2,585.1 582.3,585.3 578.8,585.3 C575.3,585.3 570.8,583.9 567.5,583.9 C564.2,583.9 561.4,585.8 559.0,585.3 C556.6,584.8 553.9,582.3 553.4,581.1 C552.9,579.9 554.3,579.2 556.2,578.3 C558.1,577.3 562.4,577.8 564.7,575.4 C567.1,573.0 568.4,568.0 570.3,564.2 C572.2,560.5 573.1,557.4 575.9,552.9 C578.7,548.4 583.7,541.9 587.2,537.4 C590.7,532.9 595.0,528.5 597.1,526.1 C599.2,523.7 598.7,524.4 599.9,523.2 C601.1,522.0 602.8,521.1 604.2,519.0 C605.6,516.9 607.2,513.1 608.4,510.5 C609.6,507.9 610.0,505.0 611.2,503.5 C612.4,502.0 613.5,502.0 615.4,501.4 C617.3,500.8 620.1,501.1 622.5,500.0 C624.9,498.9 627.2,496.9 629.6,495.0 C632.0,493.1 635.3,490.5 636.6,488.7 C637.9,486.9 638.0,485.5 637.3,484.4 C636.6,483.3 634.4,481.7 632.4,482.3 C630.4,482.9 627.4,485.4 625.3,488.0 C623.2,490.6 621.6,495.7 619.7,497.8 C617.8,499.9 615.6,500.9 614.0,500.7 C612.4,500.5 611.9,497.7 609.8,496.4 C607.7,495.1 604.3,492.9 601.3,492.9 C598.2,492.9 594.3,493.9 591.5,496.4 C588.7,498.9 586.5,503.9 584.4,507.7 C582.3,511.5 582.1,516.2 578.8,519.0 C575.5,521.8 569.4,523.8 564.7,524.7 C560.0,525.7 554.7,525.0 550.5,524.7 C546.3,524.5 542.1,522.7 539.3,523.2 C536.5,523.7 536.4,527.0 533.6,527.5 C530.8,528.0 526.5,525.9 522.3,526.1 C518.1,526.3 515.2,528.2 508.2,528.9 C501.1,529.6 486.6,530.1 480.0,530.3 C473.4,530.5 466.9,540.9 468.7,530.3 C470.5,519.6 485.4,477.8 490.6,466.4Z"/>
<path fill="#61b8ff" d="M590.5,338.2 C590.6,334.5 590.6,327.2 592.2,322.9 C593.8,318.6 596.9,314.6 599.9,312.3 C602.9,310.0 606.8,309.2 610.5,308.8 C614.2,308.4 619.2,308.6 622.3,310.0 C625.4,311.4 627.7,313.5 629.3,317.0 C630.9,320.5 631.5,326.4 631.7,331.1 C631.9,335.8 631.5,341.5 630.5,345.2 C629.5,348.9 627.9,351.1 625.8,353.5 C623.6,355.9 620.9,358.0 617.6,359.4 C614.3,360.8 609.3,362.5 605.8,361.7 C602.3,360.9 598.8,357.4 596.4,354.7 C594.0,351.9 592.7,347.9 591.7,345.2 C590.7,342.4 590.4,341.9 590.5,338.2Z"/>
<path fill="#61b8ff" d="M590.3,377.5 C590.3,378.5 589.9,379.7 589.3,380.5 C588.7,381.3 587.7,382.1 586.7,382.4 C585.7,382.7 584.5,382.7 583.5,382.4 C582.5,382.1 581.5,381.3 580.9,380.5 C580.3,379.7 580.0,378.5 580.0,377.5 C580.0,376.5 580.3,375.2 580.9,374.4 C581.5,373.6 582.5,372.8 583.5,372.5 C584.5,372.2 585.7,372.2 586.7,372.5 C587.7,372.8 588.7,373.6 589.3,374.4 C589.9,375.2 590.3,376.5 590.3,377.5Z"/>
<path fill="#61b8ff" d="M715.2,485.4 C715.2,486.5 714.7,487.8 713.9,488.7 C713.1,489.6 711.8,490.4 710.6,490.8 C709.4,491.2 707.7,491.2 706.5,490.8 C705.3,490.4 704.0,489.6 703.3,488.7 C702.5,487.8 702.0,486.5 702.0,485.4 C702.0,484.3 702.5,483.0 703.3,482.1 C704.0,481.2 705.3,480.4 706.5,480.0 C707.7,479.6 709.4,479.6 710.6,480.0 C711.8,480.4 713.1,481.2 713.9,482.1 C714.7,483.0 715.2,484.3 715.2,485.4Z"/>
<path fill="#61b8ff" d="M781.0,498.1 C781.0,499.4 780.5,500.9 779.6,502.0 C778.7,503.1 777.2,504.0 775.8,504.4 C774.4,504.8 772.6,504.8 771.2,504.4 C769.8,504.0 768.3,503.1 767.4,502.0 C766.5,500.9 766.0,499.4 766.0,498.1 C766.0,496.8 766.5,495.2 767.4,494.2 C768.3,493.1 769.8,492.2 771.2,491.8 C772.6,491.4 774.4,491.4 775.8,491.8 C777.2,492.2 778.7,493.1 779.6,494.2 C780.5,495.2 781.0,496.8 781.0,498.1Z"/>
<path fill="#61b8ff" d="M849.2,573.4 C842.5,570.6 849.0,563.7 850.4,559.2 C851.8,554.7 854.7,549.5 857.4,546.3 C860.1,543.1 863.7,541.0 866.8,540.0 C869.9,539.0 873.1,539.1 876.2,540.4 C879.4,541.6 883.3,541.6 885.7,547.5 C888.1,553.4 896.5,571.4 890.4,575.7 C884.3,580.0 855.9,576.1 849.2,573.4Z"/>
<path fill="#3dba3d" d="M782.2,332.3 C782.2,332.8 781.9,333.3 781.6,333.7 C781.3,334.1 780.7,334.5 780.2,334.6 C779.7,334.8 779.0,334.8 778.5,334.6 C778.0,334.5 777.4,334.1 777.1,333.7 C776.8,333.3 776.5,332.8 776.5,332.3 C776.5,331.8 776.8,331.3 777.1,330.9 C777.4,330.5 778.0,330.2 778.5,330.1 C779.0,330.0 779.7,330.0 780.2,330.1 C780.7,330.2 781.3,330.5 781.6,330.9 C781.9,331.3 782.2,331.8 782.2,332.3Z"/>
<path fill="#3dba3d" d="M652.4,473.2 C652.4,473.7 652.1,474.2 651.8,474.6 C651.4,475.0 650.9,475.4 650.3,475.6 C649.7,475.8 649.0,475.8 648.4,475.6 C647.8,475.4 647.2,475.0 646.8,474.6 C646.4,474.2 646.2,473.7 646.2,473.2 C646.2,472.7 646.4,472.1 646.8,471.7 C647.2,471.3 647.8,470.9 648.4,470.7 C649.0,470.5 649.7,470.5 650.3,470.7 C650.9,470.9 651.4,471.3 651.8,471.7 C652.1,472.1 652.4,472.7 652.4,473.2Z"/>
<path fill="#0000ff" d="M732.8,358.2 C733.2,356.2 735.1,353.7 737.5,352.3 C739.9,350.9 743.4,350.5 746.9,350.0 C750.4,349.5 755.0,349.3 758.7,349.5 C762.4,349.7 767.1,349.7 769.3,351.1 C771.4,352.6 771.4,356.0 771.6,358.2 C771.8,360.4 776.5,363.1 770.4,364.1 C764.3,365.1 741.5,365.1 735.2,364.1 C728.9,363.1 732.4,360.2 732.8,358.2Z"/>
<path fill="#0000ff" d="M444.5,501.6 C445.3,499.1 449.0,495.3 452.7,493.4 C456.4,491.4 462.1,490.1 466.8,489.9 C471.5,489.7 475.5,492.0 481.0,492.2 C486.5,492.4 494.1,492.4 499.8,490.8 C505.5,489.2 510.8,485.2 515.3,482.3 C519.8,479.4 523.1,474.5 526.6,473.2 C530.1,471.9 533.4,474.7 536.4,474.6 C539.4,474.5 542.5,474.0 544.9,472.5 C547.2,471.0 548.6,467.8 550.5,465.4 C552.4,463.0 554.1,460.1 556.2,458.3 C558.3,456.5 560.9,455.0 563.2,454.4 C565.6,453.8 568.2,454.1 570.3,454.8 C572.4,455.5 574.6,456.8 575.9,458.3 C577.2,459.8 578.1,461.9 578.1,464.0 C578.1,466.1 577.2,469.1 575.9,471.0 C574.6,472.9 572.2,473.9 570.3,475.3 C568.4,476.7 568.0,477.6 564.7,479.5 C561.4,481.4 555.7,484.2 550.5,486.6 C545.3,489.0 538.3,491.5 533.6,493.6 C528.9,495.7 525.3,497.4 522.3,499.3 C519.2,501.2 517.2,503.0 515.3,504.9 C513.4,506.8 511.6,508.1 511.0,510.5 C510.4,512.9 512.4,516.6 511.7,519.0 C511.0,521.4 509.3,523.6 506.8,524.7 C504.3,525.8 500.4,525.7 496.9,525.4 C493.4,525.1 489.1,524.2 485.7,522.8 C482.2,521.4 478.6,519.0 476.2,516.9 C473.8,514.8 474.2,510.9 471.5,509.9 C468.8,508.9 463.7,511.2 459.8,511.0 C455.9,510.8 450.6,510.3 448.0,508.7 C445.4,507.1 443.7,504.2 444.5,501.6Z"/>
<path fill="#ff00ff" d="M492.0,501.4 C492.0,502.0 491.7,502.7 491.2,503.2 C490.7,503.7 489.9,504.1 489.1,504.3 C488.3,504.5 487.3,504.5 486.5,504.3 C485.7,504.1 484.8,503.7 484.3,503.2 C483.8,502.7 483.5,502.0 483.5,501.4 C483.5,500.8 483.8,500.1 484.3,499.6 C484.8,499.1 485.7,498.6 486.5,498.4 C487.3,498.2 488.3,498.2 489.1,498.4 C489.9,498.6 490.7,499.1 491.2,499.6 C491.7,500.1 492.0,500.8 492.0,501.4Z"/>
<path fill="#0000ff" d="M630.3,519.0 C630.1,516.3 631.8,512.5 633.8,510.5 C635.8,508.5 639.2,507.7 642.3,507.0 C645.3,506.3 649.0,505.9 652.1,506.3 C655.2,506.7 658.7,507.9 660.6,509.1 C662.5,510.3 663.9,511.5 663.4,513.4 C662.9,515.3 659.7,518.2 657.8,520.4 C655.9,522.6 654.5,525.3 652.1,526.8 C649.8,528.3 646.5,529.6 643.7,529.6 C640.9,529.6 637.4,528.6 635.2,526.8 C633.0,525.0 630.5,521.7 630.3,519.0Z"/>
</g>
<clipPath id="t2"><rect x="100" y="0" width="400" height="270"/></clipPath>
<g clip-path="url(#t2)">
<rect x="100" y="0" width="400" height="270" fill="#ffffff"/>
<path fill="#a6f28f" d="M361.0,44.7 C361.4,41.8 363.3,38.0 365.7,35.3 C368.1,32.5 372.0,29.7 375.1,28.2 C378.2,26.7 381.9,25.5 384.5,26.3 C387.1,27.1 388.6,30.0 390.4,32.9 C392.2,35.8 394.1,40.5 395.1,43.5 C396.1,46.5 396.9,48.2 396.3,50.6 C395.7,53.0 394.0,56.0 391.6,57.6 C389.2,59.2 385.7,59.8 382.2,60.0 C378.7,60.2 373.5,60.0 370.4,58.8 C367.3,57.6 365.0,55.2 363.4,52.9 C361.8,50.5 360.6,47.6 361.0,44.7Z"/>
<path fill="#a6f28f" d="M421.0,22.3 C421.2,20.7 424.3,22.1 425.7,23.5 C427.1,24.9 427.6,28.2 429.2,30.6 C430.8,33.0 435.1,36.4 435.1,37.6 C435.1,38.9 431.0,38.9 429.2,38.1 C427.4,37.3 425.9,35.5 424.5,32.9 C423.1,30.3 420.8,23.9 421.0,22.3Z"/>
<path fill="#a6f28f" d="M339.9,236.3 C339.9,238.2 339.1,240.4 338.0,241.9 C336.9,243.4 334.9,244.7 333.0,245.3 C331.1,245.9 328.7,245.9 326.9,245.3 C325.1,244.7 323.1,243.4 322.0,241.9 C320.9,240.4 320.1,238.2 320.1,236.3 C320.1,234.5 320.9,232.3 322.0,230.8 C323.1,229.3 325.1,228.0 326.9,227.4 C328.7,226.8 331.1,226.8 333.0,227.4 C334.9,228.0 336.9,229.3 338.0,230.8 C339.1,232.3 339.9,234.5 339.9,236.3Z"/>
<path fill="#a6f28f" d="M144.7,303.4 C141.6,302.0 148.2,297.5 150.6,295.1 C152.9,292.7 156.3,291.1 158.8,289.2 C161.3,287.2 163.9,283.6 165.8,283.4 C167.8,283.2 169.5,286.2 170.5,288.1 C171.5,290.1 171.9,292.6 171.7,295.1 C171.5,297.7 173.9,302.0 169.4,303.4 C164.9,304.8 147.8,304.8 144.7,303.4Z"/>
</g>
<clipPath id="t3"><rect x="500" y="0" width="400" height="270"/></clipPath>
<g clip-path="url(#t3)">
<rect x="500" y="0" width="400" height="270" fill="#ffffff"/>
<path fill="#a6f28f" d="M531.7,293.5 C531.1,292.0 529.4,287.6 528.2,284.5 C527.0,281.4 525.1,278.6 524.7,275.1 C524.3,271.6 525.1,266.5 525.9,263.4 C526.7,260.3 530.0,258.6 529.4,256.3 C528.8,254.0 524.4,251.7 522.3,249.3 C520.1,247.0 517.7,244.5 516.5,242.2 C515.3,239.8 514.9,238.3 515.3,235.2 C515.7,232.1 516.6,226.3 518.8,223.4 C520.9,220.5 524.3,218.8 528.2,217.5 C532.1,216.2 537.6,215.7 542.3,215.9 C547.0,216.1 552.5,217.1 556.4,218.7 C560.3,220.3 563.6,222.9 565.8,225.7 C568.0,228.4 567.4,235.2 569.4,235.2 C571.4,235.2 574.7,227.9 577.6,225.7 C580.5,223.5 583.1,222.6 587.0,222.2 C590.9,221.8 596.8,222.6 601.1,223.4 C605.4,224.2 609.4,227.3 612.9,226.9 C616.4,226.5 619.6,223.6 622.3,221.0 C625.0,218.4 627.5,215.1 629.3,211.6 C631.1,208.1 630.9,203.4 632.9,199.9 C634.9,196.4 637.8,192.8 641.1,190.5 C644.4,188.2 649.0,186.2 652.9,185.8 C656.8,185.4 661.1,186.2 664.6,188.1 C668.1,190.0 671.6,194.8 674.0,197.5 C676.4,200.2 676.7,204.6 678.7,204.6 C680.7,204.6 683.8,200.2 685.8,197.5 C687.8,194.8 688.1,190.8 690.5,188.1 C692.9,185.4 697.2,183.2 699.9,181.1 C702.6,178.9 704.5,177.4 706.9,175.2 C709.2,173.0 710.9,170.6 714.0,168.1 C717.1,165.6 723.8,161.3 725.7,159.9 L911.5,159.9 L911.5,305.7 L531.7,305.7Z"/>
<path fill="#a6f28f" d="M540.0,145.8 C539.8,142.7 543.5,138.8 547.0,137.6 C550.5,136.4 556.8,137.5 561.1,138.7 C565.4,139.9 569.8,142.2 572.9,144.6 C576.0,147.0 579.6,149.9 580.0,152.9 C580.4,155.9 578.0,159.8 575.2,162.3 C572.5,164.8 566.8,167.5 563.5,168.1 C560.2,168.7 557.8,167.8 555.3,165.8 C552.8,163.9 550.8,159.7 548.2,156.4 C545.7,153.1 540.2,148.9 540.0,145.8Z"/>
<path fill="#a6f28f" d="M591.5,198.7 C591.5,200.8 590.7,203.2 589.6,204.9 C588.5,206.6 586.6,208.2 584.7,208.8 C582.9,209.5 580.4,209.5 578.5,208.8 C576.6,208.2 574.7,206.6 573.6,204.9 C572.5,203.2 571.7,200.8 571.7,198.7 C571.7,196.6 572.5,194.2 573.6,192.5 C574.7,190.8 576.6,189.2 578.5,188.6 C580.4,187.9 582.9,187.9 584.7,188.6 C586.6,189.2 588.5,190.8 589.6,192.5 C590.7,194.2 591.5,196.6 591.5,198.7Z"/>
<path fill="#3dba3d" d="M651.7,242.7 C651.7,244.4 651.0,246.4 650.0,247.8 C649.0,249.2 647.2,250.5 645.5,251.0 C643.8,251.5 641.7,251.5 640.0,251.0 C638.3,250.5 636.5,249.2 635.5,247.8 C634.5,246.4 633.8,244.4 633.8,242.7 C633.8,241.0 634.5,239.0 635.5,237.6 C636.5,236.2 638.3,234.9 640.0,234.4 C641.7,233.9 643.8,233.9 645.5,234.4 C647.2,234.9 649.0,236.2 650.0,237.6 C651.0,239.0 651.7,241.0 651.7,242.7Z"/>
<path fill="#3dba3d" d="M664.6,305.7 C667.0,304.8 676.0,302.9 678.7,300.1 C681.5,297.4 679.5,292.6 681.1,289.2 C682.7,285.8 685.0,282.5 688.1,279.8 C691.2,277.1 694.0,274.8 699.9,272.8 C705.8,270.9 715.6,269.1 723.4,268.1 C731.2,267.1 740.2,266.9 746.9,266.9 C753.6,266.9 759.1,269.1 763.4,268.1 C767.7,267.1 768.9,263.6 772.8,261.0 C776.7,258.4 782.6,254.8 786.9,252.8 C791.2,250.9 795.1,248.9 798.6,249.3 C802.1,249.7 805.7,252.4 808.1,255.1 C810.5,257.8 811.4,262.4 812.8,265.7 C814.2,269.0 814.3,272.8 816.3,275.1 C818.2,277.5 821.6,279.2 824.5,279.8 C827.4,280.4 829.2,279.1 833.9,278.7 C838.6,278.3 849.6,277.7 852.7,277.5 L852.7,305.7Z"/>
<path fill="#3dba3d" d="M812.8,230.5 C813.6,231.7 815.1,234.8 817.5,237.5 C819.9,240.2 824.2,243.6 826.9,246.9 C829.6,250.2 831.8,255.1 833.9,257.5 C836.0,259.9 836.7,260.9 839.8,261.5 C842.9,262.1 850.6,261.1 852.7,261.0 L852.7,223.4Z"/>
<path fill="#61b8ff" d="M724.6,303.4 C713.0,301.8 725.1,296.8 726.9,293.9 C728.7,290.9 731.9,287.8 735.2,285.7 C738.5,283.6 741.0,282.2 746.9,281.0 C752.8,279.8 762.9,279.9 770.4,278.7 C777.9,277.5 786.1,275.4 791.6,274.0 C797.1,272.6 801.0,270.2 803.4,270.0 C805.8,269.8 806.4,270.8 806.2,272.8 C806.0,274.8 803.7,278.7 802.2,282.2 C800.8,285.7 798.5,290.4 797.5,293.9 C796.5,297.4 808.4,301.8 796.3,303.4 C784.1,305.0 736.2,305.0 724.6,303.4Z"/>
</g>
<clipPath id="t4"><rect x="900" y="270" width="400" height="300"/></clipPath>
<g clip-path="url(#t4)">
<rect x="900" y="270" width="400" height="300" fill="#a6f28f"/>
<path fill="#3dba3d" d="M980.0,461.7 C982.4,462.1 990.2,463.8 994.1,464.0 C998.0,464.2 1000.4,463.6 1003.5,462.8 C1006.6,462.0 1009.0,460.1 1012.9,459.3 C1016.8,458.5 1022.3,458.4 1027.0,458.1 C1031.7,457.8 1036.4,457.7 1041.1,457.7 C1045.8,457.7 1050.9,457.8 1055.2,458.1 C1059.5,458.4 1063.5,458.5 1067.0,459.3 C1070.5,460.1 1074.8,462.2 1076.4,462.8 L1088.1,411.1 L970.5,411.1Z"/>
<path fill="#61b8ff" d="M1012.9,427.6 C1010.9,430.0 1017.5,432.2 1019.9,434.6 C1022.2,437.0 1024.7,439.9 1027.0,441.7 C1029.3,443.5 1031.3,445.0 1034.0,445.2 C1036.7,445.4 1040.7,443.6 1043.4,442.8 C1046.2,442.0 1048.3,441.5 1050.5,440.5 C1052.7,439.5 1055.2,439.6 1056.4,437.0 C1057.6,434.4 1061.7,427.9 1057.6,425.2 C1053.5,422.4 1039.2,420.1 1031.7,420.5 C1024.2,420.9 1014.9,425.2 1012.9,427.6Z"/>
<path fill="#3dba3d" d="M1078.7,460.5 C1079.3,461.3 1081.0,463.4 1082.2,465.2 C1083.4,467.0 1085.4,469.2 1085.8,471.1 C1086.2,473.1 1085.0,475.1 1084.6,476.9 C1084.2,478.6 1082.8,480.0 1083.4,481.6 C1084.0,483.2 1086.1,484.9 1088.1,486.3 C1090.1,487.7 1092.8,489.1 1095.2,489.9 C1097.6,490.7 1101.0,490.8 1102.2,491.0 L1111.6,481.6 L1111.6,458.1Z"/>
<path fill="#3dba3d" d="M890.6,508.0 C892.2,507.9 896.1,507.0 900.0,507.5 C903.9,508.0 910.2,509.6 914.1,511.0 C918.0,512.4 920.4,515.1 923.5,515.7 C926.6,516.3 929.4,514.4 932.9,514.6 C936.4,514.8 940.8,516.7 944.7,516.9 C948.6,517.1 950.9,516.5 956.4,515.7 C961.9,514.9 972.1,512.9 977.6,512.2 C983.1,511.5 986.3,511.3 989.4,511.7 C992.5,512.1 994.0,513.3 996.4,514.6 C998.8,515.9 1001.7,519.7 1003.5,519.3 C1005.3,518.9 1006.2,514.6 1007.0,512.2 C1007.8,509.9 1007.2,506.8 1008.2,505.2 C1009.2,503.6 1011.3,502.8 1012.9,502.8 C1014.5,502.8 1016.0,503.6 1017.6,505.2 C1019.2,506.8 1020.3,510.3 1022.3,512.2 C1024.2,514.2 1026.2,515.7 1029.3,516.9 C1032.4,518.1 1037.2,519.3 1041.1,519.3 C1045.0,519.3 1049.0,517.7 1052.9,516.9 C1056.8,516.1 1060.7,515.4 1064.6,514.6 C1068.5,513.8 1072.5,512.7 1076.4,512.2 C1080.3,511.7 1085.0,511.3 1088.1,511.7 C1091.2,512.1 1092.1,513.7 1095.2,514.6 C1098.3,515.5 1105.0,516.5 1106.9,516.9 L1111.6,575.7 L890.6,575.7Z"/>
<path fill="#61b8ff" d="M928.2,573.4 C925.7,570.8 931.1,562.8 932.9,556.9 C934.7,551.0 936.6,542.3 938.8,538.1 C941.0,533.9 943.3,532.3 945.9,531.5 C948.5,530.7 949.2,531.1 954.1,533.4 C959.0,535.7 971.9,541.8 975.2,545.1 C978.5,548.4 976.5,550.6 974.1,553.4 C971.8,556.1 965.4,558.5 961.1,561.6 C956.8,564.7 953.7,570.2 948.2,572.2 C942.7,574.2 930.8,576.0 928.2,573.4Z"/>
<path fill="#ffffff" d="M1054.0,487.8 C1054.0,488.0 1053.6,488.2 1053.1,488.3 C1052.6,488.4 1051.7,488.6 1050.8,488.6 C1049.9,488.7 1048.8,488.7 1047.9,488.6 C1047.0,488.6 1046.0,488.4 1045.5,488.3 C1045.0,488.2 1044.6,488.0 1044.6,487.8 C1044.6,487.6 1045.0,487.4 1045.5,487.2 C1046.0,487.0 1047.0,486.9 1047.9,486.9 C1048.8,486.8 1049.9,486.8 1050.8,486.9 C1051.7,486.9 1052.6,487.0 1053.1,487.2 C1053.6,487.4 1054.0,487.6 1054.0,487.8Z"/>
</g>
<clipPath id="t5"><rect x="0" y="270" width="100" height="300"/></clipPath>
<g clip-path="url(#t5)">
<rect x="0" y="270" width="100" height="300" fill="#a6f28f"/>
<path fill="#ffffff" d="M51.1,412.9 C51.5,410.9 54.0,406.5 56.4,405.8 C58.8,405.1 62.5,407.6 65.8,408.8 C69.1,410.0 74.5,411.1 76.4,412.9 C78.3,414.7 77.6,417.9 77.0,419.4 C76.4,420.9 75.2,421.6 72.9,421.7 C70.7,421.8 66.6,420.6 63.5,419.9 C60.4,419.2 56.2,418.8 54.1,417.6 C52.0,416.4 50.7,414.9 51.1,412.9Z"/>
<path fill="#ffffff" d="M101.4,406.4 C101.6,404.8 102.0,402.8 103.5,401.7 C105.0,400.6 108.0,400.2 110.5,400.0 C113.0,399.8 116.8,399.2 118.8,400.5 C120.8,401.8 122.5,404.9 122.3,407.6 C122.1,410.4 119.4,414.8 117.6,417.0 C115.8,419.2 113.7,421.3 111.7,421.1 C109.7,420.9 107.4,417.5 105.8,415.8 C104.2,414.1 103.0,412.7 102.3,411.1 C101.6,409.5 101.2,408.0 101.4,406.4Z"/>
</g>
<clipPath id="t6"><rect x="100" y="570" width="400" height="300"/></clipPath>
<g clip-path="url(#t6)">
<rect x="100" y="570" width="400" height="300" fill="#3dba3d"/>
<path fill="#a6f28f" d="M311.6,562.9 C310.8,564.9 308.5,571.2 306.9,574.7 C305.3,578.2 303.2,581.0 302.2,584.1 C301.2,587.2 302.3,590.6 301.1,593.5 C299.9,596.4 297.4,599.6 295.2,601.7 C293.0,603.9 290.5,605.0 288.1,606.4 C285.8,607.8 282.3,609.4 281.1,610.0 L264.6,610.0 L264.6,562.9Z"/>
<path fill="#a6f28f" d="M484.2,544.4 C486.6,541.4 485.9,542.1 494.1,541.6 C502.3,541.1 525.4,542.3 533.6,541.6 C541.8,540.9 540.2,537.4 543.5,537.4 C546.8,537.4 550.1,539.7 553.4,541.6 C556.7,543.5 561.8,546.0 563.2,548.6 C564.6,551.2 564.4,554.5 561.8,557.1 C559.2,559.7 551.5,562.1 547.7,564.2 C544.0,566.3 541.4,567.9 539.3,569.8 C537.2,571.7 536.0,572.6 535.0,575.4 C534.0,578.2 534.8,584.1 533.6,586.7 C532.4,589.3 531.0,590.8 528.0,591.0 C525.0,591.2 519.1,588.6 515.3,588.1 C511.5,587.6 508.2,586.5 505.4,588.1 C502.6,589.8 501.1,596.1 498.3,598.0 C495.5,599.9 491.6,599.9 488.5,599.4 C485.4,598.9 481.9,598.2 480.0,595.2 C478.1,592.2 477.2,587.0 477.2,581.1 C477.2,575.2 478.8,566.0 480.0,559.9 C481.2,553.8 481.8,547.4 484.2,544.4Z"/>
<path fill="#a6f28f" d="M513.9,741.7 C511.6,741.9 504.3,742.9 500.0,742.8 C495.7,742.7 492.0,740.8 488.0,741.2 C484.0,741.6 480.1,742.8 476.2,745.2 C472.3,747.6 468.4,752.5 464.5,755.8 C460.6,759.1 457.0,762.5 452.7,765.2 C448.4,767.9 442.9,769.9 438.6,772.2 C434.3,774.6 430.4,776.8 426.9,779.3 C423.4,781.8 419.5,784.8 417.5,787.5 C415.5,790.2 414.7,793.4 415.1,795.7 C415.5,798.1 417.5,801.6 419.8,801.6 C422.1,801.6 425.7,797.3 429.2,795.7 C432.7,794.1 437.1,793.0 441.0,792.2 C444.9,791.4 448.4,790.8 452.7,791.0 C457.0,791.2 462.1,792.0 466.8,793.4 C471.5,794.8 477.1,796.9 481.0,799.3 C484.9,801.6 487.7,804.6 490.4,807.5 C493.1,810.4 495.8,813.4 497.4,816.9 C499.0,820.4 499.8,824.8 499.8,828.7 C499.8,832.6 499.4,837.3 497.4,840.4 C495.4,843.5 492.3,845.9 488.0,847.5 C483.7,849.1 477.4,849.6 471.5,849.8 C465.6,850.0 457.8,848.3 452.7,848.7 C447.6,849.1 443.1,850.1 441.0,852.2 C438.9,854.4 439.4,858.6 439.8,861.6 C440.2,864.6 442.3,867.4 443.3,870.1 C444.3,872.9 445.3,876.8 445.7,878.1 L513.9,878.1Z"/>
<path fill="#a6f28f" d="M334.0,795.7 C334.2,793.9 334.9,791.1 337.5,789.9 C340.1,788.7 345.8,790.1 349.3,788.7 C352.8,787.3 356.4,784.2 358.7,781.6 C361.0,779.0 361.4,775.1 363.4,773.4 C365.3,771.6 367.3,770.9 370.4,771.1 C373.5,771.3 379.2,773.2 382.2,774.6 C385.1,776.0 387.5,776.9 388.1,779.3 C388.7,781.6 388.2,786.0 385.7,788.7 C383.1,791.4 377.3,793.6 372.8,795.7 C368.3,797.9 363.4,800.4 358.7,801.6 C354.0,802.8 348.3,803.0 344.6,802.8 C340.9,802.6 338.1,801.7 336.3,800.5 C334.5,799.3 333.8,797.5 334.0,795.7Z"/>
<path fill="#a6f28f" d="M446.1,828.0 C446.1,829.2 445.6,830.7 444.7,831.7 C443.8,832.7 442.3,833.6 440.9,834.0 C439.5,834.4 437.7,834.4 436.3,834.0 C434.9,833.6 433.4,832.7 432.5,831.7 C431.6,830.7 431.1,829.2 431.1,828.0 C431.1,826.8 431.6,825.2 432.5,824.2 C433.4,823.2 434.9,822.3 436.3,821.9 C437.7,821.5 439.5,821.5 440.9,821.9 C442.3,822.3 443.8,823.2 444.7,824.2 C445.6,825.2 446.1,826.8 446.1,828.0Z"/>
<path fill="#a6f28f" d="M385.7,866.3 C386.7,864.5 391.3,860.8 393.9,859.2 C396.4,857.6 399.6,856.7 401.0,856.9 C402.4,857.1 403.4,858.6 402.2,860.4 C401.0,862.2 396.2,865.9 393.9,867.5 C391.5,869.1 389.5,870.3 388.1,870.1 C386.7,869.9 384.7,868.1 385.7,866.3Z"/>
<path fill="#61b8ff" d="M329.3,586.5 C329.7,583.8 330.2,580.2 332.8,578.2 C335.4,576.2 340.3,574.8 344.6,574.2 C348.9,573.6 354.4,573.8 358.7,574.7 C363.0,575.6 367.8,577.0 370.4,579.4 C372.9,581.8 373.6,586.0 374.0,588.8 C374.4,591.5 374.2,593.3 372.8,595.9 C371.4,598.5 368.4,602.0 365.7,604.1 C362.9,606.2 359.8,608.2 356.3,608.8 C352.8,609.4 348.1,608.8 344.6,607.6 C341.1,606.4 337.6,603.9 335.2,601.7 C332.8,599.6 331.5,597.2 330.5,594.7 C329.5,592.2 328.9,589.2 329.3,586.5Z"/>
<path fill="#61b8ff" d="M278.7,650.0 C283.0,641.6 286.6,650.9 290.5,651.1 C294.4,651.3 298.7,650.9 302.2,651.1 C305.7,651.3 308.5,651.3 311.6,652.3 C314.7,653.3 317.5,655.8 321.0,657.0 C324.5,658.2 329.7,660.2 332.8,659.4 C335.9,658.6 338.3,655.0 339.9,652.3 C341.5,649.5 340.6,645.4 342.2,642.9 C343.8,640.4 346.2,638.2 349.3,637.0 C352.4,635.8 357.1,635.2 361.0,635.4 C364.9,635.6 369.3,638.5 372.8,638.2 C376.3,637.9 379.1,635.5 382.2,633.5 C385.3,631.5 388.5,629.1 391.6,626.4 C394.7,623.6 397.9,619.0 401.0,617.0 C404.1,615.0 407.6,614.3 410.4,614.7 C413.1,615.1 415.1,617.6 417.5,619.4 C419.9,621.2 421.8,624.3 424.5,625.3 C427.2,626.3 429.2,625.9 433.9,625.3 C438.6,624.7 445.6,623.3 452.7,621.7 C459.8,620.1 468.3,617.9 476.2,615.9 C484.1,613.9 493.7,611.4 500.0,610.0 C506.3,608.6 511.6,602.9 513.9,607.6 C516.2,612.3 516.2,632.7 513.9,638.2 C511.6,643.7 504.3,639.3 500.0,640.5 C495.7,641.7 492.8,642.8 488.0,645.2 C483.2,647.6 476.6,651.8 471.5,654.7 C466.4,657.7 462.5,661.0 457.4,662.9 C452.3,664.8 445.7,665.0 441.0,666.4 C436.3,667.8 432.3,668.8 429.2,671.1 C426.1,673.5 423.2,677.0 422.2,680.5 C421.2,684.0 424.1,688.4 423.3,692.3 C422.5,696.2 420.4,700.5 417.5,704.0 C414.6,707.5 409.6,710.6 405.7,713.4 C401.8,716.1 398.6,717.8 393.9,720.5 C389.2,723.2 383.4,727.0 377.5,729.9 C371.6,732.8 365.8,735.5 358.7,738.1 C351.6,740.7 342.3,742.7 335.2,745.2 C328.1,747.8 321.0,752.2 316.3,753.4 C311.6,754.6 310.0,753.4 306.9,752.2 C303.8,751.0 300.6,747.8 297.5,746.4 C294.4,745.0 292.0,742.8 288.1,744.0 C284.2,745.2 278.7,750.6 274.0,753.4 C269.3,756.1 265.4,759.1 259.9,760.5 C254.4,761.9 247.4,761.8 241.1,761.7 C234.8,761.6 228.2,760.4 222.3,760.0 C216.4,759.6 207.8,761.6 205.8,759.3 C203.8,757.0 208.9,750.9 210.5,746.4 C212.1,741.9 213.2,736.6 215.2,732.3 C217.2,728.0 219.6,724.0 222.3,720.5 C225.1,717.0 224.6,714.2 231.7,711.1 C238.8,708.0 256.8,711.9 264.6,701.7 C272.4,691.5 274.4,658.4 278.7,650.0Z"/>
<path fill="#61b8ff" d="M180.0,758.1 C178.4,756.7 180.7,751.2 182.3,748.7 C183.9,746.2 187.1,744.0 189.4,742.8 C191.8,741.6 195.2,740.3 196.4,741.7 C197.6,743.1 197.2,748.6 196.4,751.1 C195.6,753.6 194.4,755.7 191.7,756.9 C189.0,758.1 181.6,759.5 180.0,758.1Z"/>
<path fill="#61b8ff" d="M147.0,793.4 C150.1,779.1 159.9,790.9 165.8,789.9 C171.7,788.9 176.8,787.7 182.3,787.5 C187.8,787.3 194.5,787.3 198.8,788.7 C203.1,790.1 205.5,792.6 208.2,795.7 C210.9,798.8 214.4,804.0 215.2,807.5 C216.0,811.0 214.5,814.1 212.9,816.9 C211.3,819.6 207.8,821.6 205.8,824.0 C203.8,826.4 201.8,828.3 201.1,831.0 C200.4,833.7 200.4,837.3 201.6,840.4 C202.8,843.5 206.7,846.7 208.2,849.8 C209.7,852.9 210.9,856.2 210.5,859.2 C210.1,862.2 207.4,864.8 205.8,867.5 C204.2,870.2 210.9,874.3 201.1,875.7 C191.3,877.1 156.0,889.4 147.0,875.7 C138.0,862.0 143.9,807.7 147.0,793.4Z"/>
<path fill="#61b8ff" d="M216.9,844.0 C216.3,841.2 219.8,839.1 222.3,837.6 C224.8,836.1 227.8,834.8 231.7,835.3 C235.6,835.8 241.1,839.1 245.8,840.4 C250.5,841.6 255.6,843.0 259.9,842.8 C264.2,842.6 268.2,839.3 271.7,839.3 C275.2,839.3 279.2,840.4 281.1,842.8 C283.0,845.1 283.4,849.9 283.0,853.4 C282.6,856.9 280.6,859.7 278.7,863.9 C276.8,868.1 274.6,875.3 271.7,878.8 C268.8,882.3 264.6,885.2 261.1,885.1 C257.6,885.0 254.0,880.9 250.5,878.1 C247.0,875.3 244.0,872.2 239.9,868.2 C235.8,864.2 229.6,858.1 225.8,854.1 C222.0,850.1 217.5,846.8 216.9,844.0Z"/>
<path fill="#61b8ff" d="M326.9,847.0 C326.9,847.8 326.5,848.8 326.0,849.5 C325.5,850.2 324.6,850.8 323.7,851.0 C322.8,851.2 321.7,851.2 320.8,851.0 C319.9,850.8 318.9,850.2 318.4,849.5 C317.8,848.8 317.5,847.8 317.5,847.0 C317.5,846.2 317.8,845.2 318.4,844.5 C318.9,843.8 319.9,843.2 320.8,843.0 C321.7,842.8 322.8,842.8 323.7,843.0 C324.6,843.2 325.5,843.8 326.0,844.5 C326.5,845.2 326.9,846.2 326.9,847.0Z"/>
<path fill="#3dba3d" d="M183.5,836.2 C183.5,836.8 183.2,837.5 182.9,837.9 C182.6,838.3 182.0,838.7 181.5,838.9 C181.0,839.1 180.3,839.1 179.8,838.9 C179.3,838.7 178.7,838.3 178.4,837.9 C178.1,837.5 177.8,836.8 177.8,836.2 C177.8,835.6 178.1,835.0 178.4,834.5 C178.7,834.0 179.3,833.7 179.8,833.5 C180.3,833.3 181.0,833.3 181.5,833.5 C182.0,833.7 182.6,834.0 182.9,834.5 C183.2,835.0 183.5,835.6 183.5,836.2Z"/>
<path fill="#0000ff" d="M282.2,699.3 C283.0,696.8 285.9,705.6 288.1,707.6 C290.3,709.6 292.9,711.3 295.2,711.1 C297.5,710.9 299.8,708.8 302.2,706.4 C304.6,704.0 306.9,700.3 309.3,697.0 C311.7,693.7 314.2,689.1 316.3,686.4 C318.4,683.6 320.0,681.3 322.2,680.5 C324.4,679.7 327.7,680.9 329.3,681.7 C330.9,682.5 331.8,683.4 331.6,685.2 C331.4,687.0 329.9,689.9 328.1,692.3 C326.3,694.6 322.8,696.2 321.0,699.3 C319.2,702.4 318.5,707.2 317.5,711.1 C316.5,715.0 317.0,719.8 315.2,722.9 C313.4,726.0 310.6,728.3 306.9,729.9 C303.2,731.5 296.7,733.5 292.8,732.3 C288.9,731.1 285.2,728.4 283.4,722.9 C281.6,717.4 281.4,701.8 282.2,699.3Z"/>
<path fill="#0000ff" d="M227.0,720.5 C225.0,721.9 231.7,724.6 234.0,726.4 C236.3,728.2 238.3,729.7 241.1,731.1 C243.8,732.5 247.8,734.0 250.5,734.6 C253.2,735.2 256.4,737.0 257.6,734.6 C258.8,732.2 259.6,723.2 257.6,720.5 C255.6,717.8 250.9,718.1 245.8,718.1 C240.7,718.1 229.0,719.1 227.0,720.5Z"/>
</g>
<clipPath id="t7"><rect x="500" y="570" width="400" height="300"/></clipPath>
<g clip-path="url(#t7)">
<rect x="500" y="570" width="400" height="300" fill="#a6f28f"/>
<path fill="#3dba3d" d="M490.6,748.7 C492.2,748.1 496.9,746.1 500.0,745.2 C503.1,744.3 505.9,744.5 509.4,743.5 C512.9,742.5 517.7,741.2 521.2,739.3 C524.7,737.4 527.9,735.0 530.6,732.3 C533.3,729.6 536.2,725.6 537.6,722.9 C539.0,720.1 537.2,716.6 538.8,715.8 C540.4,715.0 544.1,718.1 547.0,718.1 C549.9,718.1 553.3,717.8 556.4,715.8 C559.5,713.8 562.7,709.1 565.8,706.4 C568.9,703.6 572.1,701.4 575.2,699.3 C578.4,697.1 580.8,695.1 584.7,693.5 C588.6,691.9 594.9,691.7 598.8,689.9 C602.7,688.1 606.2,685.6 608.2,682.9 C610.2,680.2 610.1,676.2 610.5,673.5 C610.9,670.8 609.3,668.8 610.5,666.4 C611.7,664.0 614.9,661.8 617.6,659.4 C620.4,657.0 623.9,654.7 627.0,652.3 C630.1,649.9 633.3,647.2 636.4,645.2 C639.5,643.2 642.3,642.1 645.8,640.5 C649.3,638.9 653.7,637.0 657.6,635.8 C661.5,634.6 665.8,633.1 669.3,633.5 C672.8,633.9 676.0,636.2 678.7,638.2 C681.5,640.2 683.4,643.1 685.8,645.2 C688.1,647.4 690.1,649.1 692.8,651.1 C695.5,653.1 699.7,654.8 702.2,657.0 C704.8,659.2 707.3,661.8 708.1,664.1 C708.9,666.5 707.7,668.8 706.9,671.1 C706.1,673.5 703.8,675.9 703.4,678.2 C703.0,680.6 703.2,683.2 704.6,685.2 C706.0,687.2 709.2,688.9 711.6,689.9 C714.0,690.9 716.9,691.9 718.7,691.1 C720.5,690.3 721.2,687.4 722.2,685.2 C723.2,683.1 723.2,680.2 724.6,678.2 C726.0,676.2 728.0,674.9 730.5,673.5 C733.0,672.1 737.4,670.7 739.9,669.9 C742.4,669.1 744.1,668.2 745.7,668.8 C747.3,669.4 747.9,672.1 749.3,673.5 C750.7,674.9 752.0,677.0 754.0,677.0 C756.0,677.0 758.3,674.9 761.0,673.5 C763.7,672.1 766.9,670.0 770.4,668.8 C773.9,667.6 778.3,667.8 782.2,666.4 C786.1,665.0 790.0,661.9 793.9,660.5 C797.8,659.1 802.4,659.4 805.7,658.2 C809.0,657.0 812.1,656.0 813.9,653.5 C815.7,651.0 815.3,646.2 816.3,642.9 C817.3,639.6 818.4,636.6 819.8,633.5 C821.2,630.4 822.5,626.9 824.5,624.1 C826.5,621.4 828.9,618.8 831.6,617.0 C834.4,615.2 837.5,614.4 841.0,613.5 C844.5,612.6 846.8,612.7 852.7,611.9 C858.6,611.1 868.3,609.7 876.2,608.8 C884.1,607.9 893.7,607.1 900.0,606.4 C906.3,605.7 911.6,605.1 913.9,604.8 L913.9,562.9 L490.6,562.9Z"/>
<path fill="#a6f28f" d="M484.2,544.4 C486.6,541.4 485.9,542.1 494.1,541.6 C502.3,541.1 525.4,542.3 533.6,541.6 C541.8,540.9 540.2,537.4 543.5,537.4 C546.8,537.4 550.1,539.7 553.4,541.6 C556.7,543.5 561.8,546.0 563.2,548.6 C564.6,551.2 564.4,554.5 561.8,557.1 C559.2,559.7 551.5,562.1 547.7,564.2 C544.0,566.3 541.4,567.9 539.3,569.8 C537.2,571.7 536.0,572.6 535.0,575.4 C534.0,578.2 534.8,584.1 533.6,586.7 C532.4,589.3 531.0,590.8 528.0,591.0 C525.0,591.2 519.1,588.6 515.3,588.1 C511.5,587.6 508.2,586.5 505.4,588.1 C502.6,589.8 501.1,596.1 498.3,598.0 C495.5,599.9 491.6,599.9 488.5,599.4 C485.4,598.9 481.9,598.2 480.0,595.2 C478.1,592.2 477.2,587.0 477.2,581.1 C477.2,575.2 478.8,566.0 480.0,559.9 C481.2,553.8 481.8,547.4 484.2,544.4Z"/>
<path fill="#a6f28f" d="M619.8,598.1 C620.2,599.4 620.2,601.1 619.9,602.3 C619.6,603.5 618.8,604.8 618.0,605.5 C617.2,606.2 615.9,606.5 614.9,606.3 C613.9,606.1 612.6,605.4 611.8,604.5 C610.9,603.6 610.2,602.0 609.8,600.7 C609.4,599.4 609.3,597.7 609.6,596.5 C609.9,595.3 610.7,594.0 611.5,593.3 C612.3,592.6 613.6,592.3 614.6,592.5 C615.6,592.7 616.8,593.4 617.7,594.3 C618.6,595.2 619.4,596.8 619.8,598.1Z"/>
<path fill="#a6f28f" d="M701.3,577.1 C701.3,578.7 700.6,580.6 699.6,581.9 C698.6,583.2 696.8,584.4 695.1,584.9 C693.4,585.4 691.3,585.4 689.6,584.9 C687.9,584.4 686.1,583.2 685.1,581.9 C684.1,580.6 683.4,578.7 683.4,577.1 C683.4,575.5 684.1,573.5 685.1,572.2 C686.1,570.9 687.9,569.7 689.6,569.2 C691.3,568.7 693.4,568.7 695.1,569.2 C696.8,569.7 698.6,570.9 699.6,572.2 C700.6,573.5 701.3,575.5 701.3,577.1Z"/>
<path fill="#a6f28f" d="M746.9,592.3 C746.9,589.4 753.2,584.5 756.3,581.8 C759.4,579.1 762.8,576.7 765.7,575.9 C768.7,575.1 772.1,575.3 774.0,577.1 C775.9,578.9 776.8,583.0 777.0,586.5 C777.2,590.0 777.0,595.5 775.1,598.2 C773.2,600.9 768.8,602.7 765.7,602.9 C762.6,603.1 759.4,601.2 756.3,599.4 C753.2,597.6 746.9,595.2 746.9,592.3Z"/>
<path fill="#a6f28f" d="M828.0,589.3 C828.0,590.1 827.8,591.0 827.4,591.6 C827.0,592.2 826.3,592.9 825.6,593.1 C824.9,593.4 824.0,593.4 823.4,593.1 C822.8,592.9 822.1,592.2 821.7,591.6 C821.3,591.0 821.0,590.1 821.0,589.3 C821.0,588.5 821.3,587.5 821.7,586.9 C822.1,586.3 822.8,585.7 823.4,585.5 C824.0,585.3 824.9,585.3 825.6,585.5 C826.3,585.7 827.0,586.3 827.4,586.9 C827.8,587.5 828.0,588.5 828.0,589.3Z"/>
<path fill="#a6f28f" d="M762.2,621.7 C762.2,619.2 766.0,615.9 768.1,614.7 C770.2,613.5 772.8,613.3 775.1,614.7 C777.5,616.1 781.8,620.5 782.2,622.9 C782.6,625.2 779.9,627.6 777.5,628.8 C775.1,630.0 770.6,631.2 768.1,630.0 C765.6,628.8 762.2,624.2 762.2,621.7Z"/>
<path fill="#61b8ff" d="M490.6,466.4 C495.8,455.0 496.1,463.5 500.0,461.7 C503.9,459.9 509.4,458.0 514.1,455.8 C518.8,453.6 523.5,451.4 528.2,448.7 C532.9,445.9 537.6,442.2 542.3,439.3 C547.0,436.4 551.7,432.9 556.4,431.1 C561.1,429.3 564.2,428.9 570.5,428.7 C576.8,428.5 587.0,429.7 594.1,429.9 C601.2,430.1 607.4,430.5 612.9,429.9 C618.4,429.3 622.7,427.6 627.0,426.4 C631.3,425.2 634.4,423.7 638.7,422.9 C643.0,422.1 649.0,422.9 652.9,421.7 C656.8,420.5 659.4,418.4 662.3,415.8 C665.2,413.2 667.6,409.9 670.5,406.4 C673.4,402.9 677.2,398.9 679.9,394.6 C682.6,390.3 684.8,384.8 686.9,380.5 C689.0,376.2 690.6,372.7 692.8,368.8 C695.0,364.9 696.8,360.5 699.9,357.0 C703.0,353.5 707.7,350.0 711.6,347.6 C715.5,345.2 718.3,344.3 723.4,342.9 C728.5,341.5 737.3,340.6 742.2,339.4 C747.1,338.2 750.6,337.6 752.8,335.8 C754.9,334.0 755.7,331.5 755.1,328.8 C754.5,326.1 752.2,321.5 749.3,319.4 C746.4,317.2 740.8,317.5 737.5,315.9 C734.2,314.3 731.3,312.6 729.3,310.0 C727.3,307.4 726.1,303.4 725.7,300.6 C725.3,297.9 725.7,295.7 726.9,293.5 C728.1,291.3 729.8,289.4 732.8,287.6 C735.8,285.8 740.3,284.1 744.6,282.9 C748.9,281.7 752.4,281.4 758.7,280.6 C765.0,279.8 775.9,278.8 782.2,278.2 C788.5,277.6 793.0,278.5 796.3,277.1 C799.6,275.7 800.2,271.6 802.2,270.0 C804.2,268.4 807.5,265.6 808.1,267.6 C808.7,269.6 806.5,277.5 805.7,281.8 C804.9,286.1 803.2,290.0 803.4,293.5 C803.6,297.0 804.9,300.9 806.9,302.9 C808.9,304.9 813.0,302.9 815.1,305.3 C817.2,307.7 820.6,311.1 819.8,317.0 C819.0,322.9 813.1,333.4 810.4,340.5 C807.7,347.6 806.5,355.5 803.4,359.4 C800.3,363.3 795.1,362.4 791.6,364.1 C788.1,365.9 787.7,368.3 782.2,369.9 C776.7,371.5 766.5,372.3 758.7,373.5 C750.9,374.7 739.7,374.6 735.2,377.0 C730.7,379.4 732.4,384.3 731.6,387.6 C730.8,390.9 731.5,393.9 730.5,397.0 C729.5,400.1 727.7,404.4 725.7,406.4 C723.7,408.3 721.1,409.3 718.7,408.7 C716.4,408.1 713.6,404.1 711.6,402.9 C709.6,401.7 708.5,400.7 706.9,401.7 C705.3,402.7 704.2,406.8 702.2,408.7 C700.2,410.6 697.9,411.8 695.2,413.4 C692.5,415.0 688.0,416.5 685.8,418.1 C683.6,419.7 681.0,421.6 682.2,422.9 C683.4,424.2 688.7,424.1 692.8,425.7 C696.9,427.3 702.6,429.8 706.9,432.3 C711.2,434.8 716.5,438.1 718.7,440.5 C720.9,442.9 721.1,443.8 719.9,446.4 C718.7,448.9 716.5,453.9 711.6,455.8 C706.7,457.8 694.6,453.7 690.5,458.1 C686.4,462.5 687.6,473.6 686.7,482.3 C685.8,491.0 685.2,503.4 685.3,510.5 C685.4,517.6 686.1,520.9 687.4,524.7 C688.7,528.5 691.6,530.3 693.1,533.1 C694.6,535.9 696.6,538.5 696.6,541.6 C696.6,544.7 695.1,548.7 693.1,551.5 C691.1,554.3 687.4,557.0 684.6,558.5 C681.8,560.0 678.9,560.8 676.1,560.6 C673.3,560.4 669.8,559.3 667.7,557.1 C665.6,554.9 664.4,550.5 663.4,547.2 C662.4,543.9 663.2,539.3 662.0,537.4 C660.8,535.5 658.5,535.4 656.4,535.9 C654.3,536.4 652.8,538.6 649.3,540.2 C645.8,541.9 639.9,543.9 635.2,545.8 C630.5,547.7 624.9,550.3 621.1,551.5 C617.3,552.7 613.6,551.3 612.6,552.9 C611.6,554.5 616.3,558.9 615.4,561.3 C614.5,563.6 609.8,565.4 607.0,567.0 C604.2,568.6 600.9,569.3 598.5,571.2 C596.1,573.1 594.5,576.2 592.9,578.3 C591.2,580.4 591.0,582.7 588.6,583.9 C586.2,585.1 582.3,585.3 578.8,585.3 C575.3,585.3 570.8,583.9 567.5,583.9 C564.2,583.9 561.4,585.8 559.0,585.3 C556.6,584.8 553.9,582.3 553.4,581.1 C552.9,579.9 554.3,579.2 556.2,578.3 C558.1,577.3 562.4,577.8 564.7,575.4 C567.1,573.0 568.4,568.0 570.3,564.2 C572.2,560.5 573.1,557.4 575.9,552.9 C578.7,548.4 583.7,541.9 587.2,537.4 C590.7,532.9 595.0,528.5 597.1,526.1 C599.2,523.7 598.7,524.4 599.9,523.2 C601.1,522.0 602.8,521.1 604.2,519.0 C605.6,516.9 607.2,513.1 608.4,510.5 C609.6,507.9 610.0,505.0 611.2,503.5 C612.4,502.0 613.5,502.0 615.4,501.4 C617.3,500.8 620.1,501.1 622.5,500.0 C624.9,498.9 627.2,496.9 629.6,495.0 C632.0,493.1 635.3,490.5 636.6,488.7 C637.9,486.9 638.0,485.5 637.3,484.4 C636.6,483.3 634.4,481.7 632.4,482.3 C630.4,482.9 627.4,485.4 625.3,488.0 C623.2,490.6 621.6,495.7 619.7,497.8 C617.8,499.9 615.6,500.9 614.0,500.7 C612.4,500.5 611.9,497.7 609.8,496.4 C607.7,495.1 604.3,492.9 601.3,492.9 C598.2,492.9 594.3,493.9 591.5,496.4 C588.7,498.9 586.5,503.9 584.4,507.7 C582.3,511.5 582.1,516.2 578.8,519.0 C575.5,521.8 569.4,523.8 564.7,524.7 C560.0,525.7 554.7,525.0 550.5,524.7 C546.3,524.5 542.1,522.7 539.3,523.2 C536.5,523.7 536.4,527.0 533.6,527.5 C530.8,528.0 526.5,525.9 522.3,526.1 C518.1,526.3 515.2,528.2 508.2,528.9 C501.1,529.6 486.6,530.1 480.0,530.3 C473.4,530.5 466.9,540.9 468.7,530.3 C470.5,519.6 485.4,477.8 490.6,466.4Z"/>
<path fill="#61b8ff" d="M492.9,615.9 C494.1,611.2 497.6,613.3 500.0,611.4 C502.4,609.5 504.8,603.9 507.1,604.3 C509.5,604.7 513.2,611.2 514.1,614.0 C515.0,616.8 513.4,618.6 512.2,621.0 C511.0,623.4 509.1,625.8 507.1,628.1 C505.1,630.5 502.4,633.2 500.0,635.1 C497.6,637.0 494.1,642.6 492.9,639.4 C491.7,636.2 491.7,620.6 492.9,615.9Z"/>
<path fill="#61b8ff" d="M727.2,619.9 C727.7,621.7 727.7,624.0 727.3,625.6 C726.9,627.2 725.9,628.9 724.8,629.8 C723.7,630.7 722.0,631.1 720.6,630.9 C719.2,630.7 717.5,629.8 716.3,628.6 C715.1,627.4 714.0,625.4 713.5,623.6 C713.0,621.8 713.0,619.5 713.4,617.9 C713.8,616.2 714.8,614.6 715.9,613.7 C717.0,612.8 718.7,612.3 720.1,612.5 C721.5,612.7 723.2,613.7 724.4,614.9 C725.6,616.1 726.7,618.1 727.2,619.9Z"/>
<path fill="#61b8ff" d="M715.2,603.4 C715.2,604.2 715.0,605.2 714.6,605.9 C714.2,606.6 713.7,607.1 713.1,607.4 C712.5,607.6 711.8,607.6 711.2,607.4 C710.6,607.1 710.0,606.6 709.6,605.9 C709.2,605.2 709.1,604.2 709.1,603.4 C709.1,602.6 709.2,601.6 709.6,600.9 C710.0,600.2 710.6,599.6 711.2,599.4 C711.8,599.1 712.5,599.1 713.1,599.4 C713.7,599.6 714.2,600.2 714.6,600.9 C715.0,601.6 715.2,602.6 715.2,603.4Z"/>
<path fill="#61b8ff" d="M817.4,590.4 C818.9,593.6 819.8,597.9 819.7,601.2 C819.6,604.5 818.4,608.0 816.7,610.0 C815.0,612.0 812.1,613.4 809.5,613.4 C806.9,613.4 803.4,612.1 800.8,610.1 C798.2,608.1 795.5,604.6 794.0,601.3 C792.5,598.0 791.6,593.8 791.7,590.5 C791.8,587.2 793.0,583.7 794.7,581.7 C796.4,579.7 799.4,578.4 802.0,578.4 C804.6,578.4 808.0,579.7 810.6,581.7 C813.2,583.7 815.9,587.1 817.4,590.4Z"/>
<path fill="#61b8ff" d="M839.8,599.4 C839.2,597.2 842.4,592.9 844.5,590.0 C846.6,587.1 849.8,584.3 852.7,581.8 C855.6,579.2 859.8,577.5 862.1,574.7 C864.5,572.0 858.2,566.9 866.8,565.3 C875.4,563.7 906.0,560.6 913.9,565.3 C921.8,570.0 916.2,587.2 913.9,593.5 C911.6,599.8 904.3,600.8 900.0,602.9 C895.7,605.0 893.5,606.0 888.0,606.4 C882.5,606.8 873.5,605.9 866.8,605.3 C860.1,604.7 852.5,603.9 848.0,602.9 C843.5,601.9 840.4,601.5 839.8,599.4Z"/>
<path fill="#0000ff" d="M872.7,579.4 C874.3,577.5 877.8,577.3 881.0,577.1 C884.2,576.9 890.6,576.2 892.2,578.2 C893.8,580.2 891.5,585.5 890.4,588.8 C889.3,592.1 888.1,596.6 885.7,598.2 C883.3,599.8 878.6,599.8 876.2,598.2 C873.8,596.6 872.1,591.9 871.5,588.8 C870.9,585.7 871.1,581.3 872.7,579.4Z"/>
<path fill="#3dba3d" d="M628.4,742.4 C628.4,744.6 627.4,747.2 625.8,749.0 C624.2,750.8 621.5,752.4 619.0,753.1 C616.5,753.8 613.0,753.8 610.5,753.1 C608.0,752.4 605.3,750.8 603.7,749.0 C602.1,747.2 601.1,744.6 601.1,742.4 C601.1,740.2 602.1,737.5 603.7,735.7 C605.3,733.9 608.0,732.3 610.5,731.6 C613.0,730.9 616.5,730.9 619.0,731.6 C621.5,732.3 624.2,733.9 625.8,735.7 C627.4,737.5 628.4,740.2 628.4,742.4Z"/>
<path fill="#3dba3d" d="M559.7,812.2 C559.7,814.3 558.6,816.7 556.9,818.4 C555.2,820.1 552.4,821.6 549.7,822.3 C547.0,822.9 543.3,822.9 540.6,822.3 C537.9,821.6 535.1,820.1 533.4,818.4 C531.7,816.7 530.6,814.3 530.6,812.2 C530.6,810.1 531.7,807.7 533.4,806.0 C535.1,804.3 537.9,802.8 540.6,802.1 C543.3,801.5 547.0,801.5 549.7,802.1 C552.4,802.8 555.2,804.3 556.9,806.0 C558.6,807.7 559.7,810.1 559.7,812.2Z"/>
<path fill="#3dba3d" d="M577.6,878.1 C578.0,876.8 577.2,872.9 580.0,870.1 C582.8,867.4 589.8,864.6 594.1,861.6 C598.4,858.6 601.1,855.7 605.8,852.2 C610.5,848.7 617.2,843.9 622.3,840.4 C627.4,836.9 631.7,833.7 636.4,831.0 C641.1,828.3 645.8,826.0 650.5,824.0 C655.2,822.0 659.9,821.3 664.6,819.3 C669.3,817.3 674.4,814.2 678.7,812.2 C683.0,810.2 686.6,808.5 690.5,807.5 C694.4,806.5 698.7,805.9 702.2,806.3 C705.7,806.7 708.9,809.7 711.6,809.9 C714.4,810.1 717.9,809.1 718.7,807.5 C719.5,805.9 717.1,802.5 716.3,800.5 C715.5,798.5 713.6,797.5 714.0,795.7 C714.4,793.9 716.8,791.3 718.7,789.9 C720.7,788.5 723.0,787.7 725.7,787.5 C728.5,787.3 732.1,787.9 735.2,788.7 C738.4,789.5 741.5,791.8 744.6,792.2 C747.7,792.6 751.6,792.0 754.0,791.0 C756.4,790.0 756.0,787.3 758.7,786.3 C761.4,785.3 766.5,785.2 770.4,785.2 C774.3,785.2 778.3,786.5 782.2,786.3 C786.1,786.1 790.0,784.8 793.9,784.0 C797.8,783.2 801.8,781.8 805.7,781.6 C809.6,781.4 813.6,782.4 817.5,782.8 C821.4,783.2 825.3,783.6 829.2,784.0 C833.1,784.4 837.1,785.2 841.0,785.2 C844.9,785.2 848.8,784.6 852.7,784.0 C856.6,783.4 861.4,783.2 864.5,781.6 C867.6,780.0 869.1,777.0 871.5,774.6 C873.9,772.2 875.9,769.5 878.6,767.5 C881.4,765.5 884.4,764.0 888.0,762.8 C891.6,761.6 895.7,761.3 900.0,760.5 C904.3,759.7 911.6,758.5 913.9,758.1 L913.9,878.1Z"/>
<path fill="#61b8ff" d="M627.0,878.1 C627.8,876.8 629.4,872.3 631.7,870.1 C634.1,867.9 637.2,867.1 641.1,865.1 C645.0,863.1 650.5,860.5 655.2,858.1 C659.9,855.8 664.6,853.4 669.3,851.0 C674.0,848.6 679.1,845.8 683.4,844.0 C687.7,842.2 691.3,841.2 695.2,840.4 C699.1,839.6 702.6,839.7 706.9,839.3 C711.2,838.9 716.3,838.1 721.0,838.1 C725.7,838.1 732.1,838.1 735.2,839.3 C738.4,840.5 738.0,843.4 739.9,845.1 C741.8,846.9 741.8,848.8 746.9,849.8 C752.0,850.8 762.9,851.4 770.4,851.0 C777.9,850.6 785.7,848.7 791.6,847.5 C797.5,846.3 801.4,844.4 805.7,844.0 C810.0,843.6 814.0,844.1 817.5,845.1 C821.0,846.1 824.2,848.6 826.9,849.8 C829.6,851.0 831.2,852.2 833.9,852.2 C836.6,852.2 840.2,851.4 843.3,849.8 C846.4,848.2 849.6,845.1 852.7,842.8 C855.8,840.4 859.0,837.7 862.1,835.7 C865.2,833.7 868.4,832.6 871.5,831.0 C874.6,829.4 877.9,827.9 881.0,826.3 C884.1,824.7 887.2,823.2 890.4,821.6 C893.6,820.0 896.1,818.5 900.0,816.9 C903.9,815.3 911.6,813.0 913.9,812.2 L913.9,878.1Z"/>
<path fill="#0000ff" d="M490.4,940.5 C490.8,937.0 493.7,931.3 495.3,928.8 C496.9,926.3 496.9,926.7 500.0,925.3 C503.1,923.9 509.0,922.2 514.1,920.6 C519.2,919.0 525.1,917.3 530.6,915.9 C536.1,914.5 542.1,912.9 547.0,912.3 C551.9,911.6 557.1,913.0 560.0,912.0 C562.9,911.0 562.6,907.8 564.2,906.3 C565.9,904.8 567.8,903.5 569.9,902.8 C572.0,902.1 574.5,901.8 576.9,902.1 C579.2,902.5 582.1,904.2 584.0,904.9 C585.9,905.6 587.0,907.0 588.2,906.3 C589.4,905.6 589.8,902.7 591.0,900.7 C592.2,898.7 593.6,896.1 595.3,894.3 C596.9,892.5 598.5,891.0 600.9,890.1 C603.2,889.2 606.8,889.2 609.4,888.7 C612.0,888.2 614.3,888.4 616.4,887.3 C618.5,886.2 620.7,883.9 622.1,882.3 C623.5,880.6 623.2,878.7 624.9,877.4 C626.5,876.1 629.4,875.4 632.0,874.6 C634.6,873.8 637.4,873.0 640.4,872.5 C643.4,872.0 647.5,871.5 650.3,871.7 C653.1,871.9 655.0,873.1 657.4,873.9 C659.8,874.7 661.8,876.1 664.4,876.7 C667.0,877.3 670.3,877.9 672.9,877.4 C675.5,876.9 677.8,875.1 679.9,873.9 C682.0,872.7 683.5,871.6 685.6,870.3 C687.7,869.0 690.0,867.0 692.6,866.1 C695.2,865.2 698.3,864.7 701.1,864.7 C703.9,864.7 706.6,865.8 709.6,866.1 C712.6,866.5 716.1,866.8 719.4,866.8 C722.7,866.8 726.5,866.7 729.3,866.1 C732.1,865.5 734.0,864.1 736.4,863.3 C738.8,862.5 740.8,861.4 743.4,861.4 C746.0,861.4 749.1,862.8 751.9,863.3 C754.7,863.8 757.6,864.4 760.4,864.7 C763.2,865.1 766.0,865.8 768.8,865.4 C771.6,865.0 774.5,863.3 777.3,862.6 C780.1,861.9 782.4,861.2 785.7,861.2 C789.0,861.2 792.5,862.0 797.0,862.6 C801.5,863.2 808.3,864.8 812.9,864.7 C817.5,864.7 819.5,863.0 824.6,862.3 C829.7,861.6 836.7,861.1 843.4,860.7 C850.1,860.3 859.5,859.7 864.6,860.0 C869.7,860.3 871.9,860.5 874.0,862.3 C876.1,864.0 876.7,867.5 877.5,870.5 C878.3,873.5 877.7,877.6 878.7,880.0 C879.7,882.4 881.8,884.7 883.4,884.7 C885.0,884.7 886.7,882.0 888.1,880.0 C889.5,878.0 889.2,874.7 891.6,872.9 C894.0,871.1 898.5,870.4 902.2,869.4 C905.9,868.4 910.1,867.6 914.0,867.0 C917.9,866.4 921.0,866.8 925.7,865.8 C930.4,864.8 935.9,862.9 942.2,861.1 C948.5,859.4 958.7,857.0 963.4,855.3 C968.1,853.5 966.9,851.0 970.4,850.6 C973.9,850.2 980.2,852.1 984.5,852.9 C988.8,853.7 992.4,854.3 996.3,855.3 C1000.2,856.3 1005.5,856.8 1008.0,858.8 C1010.5,860.8 1011.6,864.3 1011.6,867.0 C1011.6,869.7 1010.2,872.7 1008.0,875.2 C1005.8,877.8 1001.7,880.3 998.6,882.3 C995.5,884.3 991.9,885.0 989.2,887.0 C986.5,889.0 986.1,892.1 982.2,894.1 C978.3,896.1 972.4,897.2 965.7,898.8 C959.0,900.4 950.0,902.9 942.2,903.5 C934.4,904.1 924.6,902.1 918.7,902.3 C912.8,902.5 911.6,903.6 906.9,904.6 C902.2,905.6 896.4,907.2 890.5,908.2 C884.6,909.2 876.7,908.9 871.6,910.5 C866.5,912.1 864.6,915.8 859.9,917.6 C855.2,919.4 849.3,920.3 843.4,921.1 C837.5,921.9 830.1,922.5 824.6,922.3 C819.1,922.1 817.0,919.9 810.5,919.9 C804.0,919.9 792.2,922.4 785.7,922.5 C779.2,922.6 777.9,921.0 771.6,920.4 C765.3,919.8 753.1,918.5 747.7,919.0 C742.3,919.5 741.1,921.6 739.2,923.2 C737.3,924.9 736.5,926.5 736.4,928.9 C736.3,931.3 738.7,935.3 738.5,937.4 C738.3,939.5 736.5,940.1 735.0,941.6 C733.5,943.1 731.9,945.8 729.3,946.5 C726.7,947.2 721.8,946.6 719.4,945.8 C717.0,945.0 716.4,943.2 715.2,941.6 C714.0,940.0 714.3,937.3 712.4,935.9 C710.5,934.5 706.7,933.8 703.9,933.1 C701.1,932.4 698.2,932.2 695.4,931.7 C692.6,931.2 689.8,931.0 687.0,930.3 C684.2,929.6 681.3,928.4 678.5,927.5 C675.7,926.6 672.5,925.7 670.1,924.7 C667.8,923.8 666.0,922.6 664.4,921.8 C662.8,921.0 661.5,919.7 660.2,919.7 C658.9,919.7 657.3,920.5 656.6,921.8 C655.9,923.1 656.7,925.6 655.9,927.5 C655.1,929.4 653.6,931.2 651.7,933.1 C649.8,935.0 646.8,936.9 644.7,938.8 C642.6,940.7 640.9,943.2 639.0,944.4 C637.1,945.6 635.5,945.9 633.4,945.8 C631.3,945.7 628.6,943.8 626.3,943.7 C623.9,943.6 621.4,944.3 619.3,945.1 C617.2,945.9 615.5,947.8 613.6,948.6 C611.7,949.4 610.4,949.6 608.0,950.1 C605.6,950.6 602.8,950.8 599.5,951.5 C596.2,952.2 591.7,953.4 588.2,954.3 C584.7,955.2 581.6,956.3 578.3,957.1 C575.0,957.9 571.5,958.7 568.5,959.2 C565.5,959.7 563.6,960.5 560.0,959.9 C556.4,959.3 551.9,957.1 547.0,955.8 C542.1,954.5 536.1,953.3 530.6,952.3 C525.1,951.3 519.2,950.6 514.1,950.0 C509.0,949.4 503.5,948.8 500.0,948.8 C496.5,948.8 494.5,951.4 492.9,950.0 C491.3,948.6 490.0,944.0 490.4,940.5Z"/>
</g>
<clipPath id="t8"><rect x="900" y="570" width="400" height="300"/></clipPath>
<g clip-path="url(#t8)">
<rect x="900" y="570" width="400" height="300" fill="#a6f28f"/>
<path fill="#3dba3d" d="M890.6,612.3 C892.2,611.9 896.9,610.8 900.0,610.0 C903.1,609.2 907.0,609.6 909.4,607.6 C911.8,605.6 912.5,600.9 914.1,598.2 C915.7,595.5 916.4,593.2 918.8,591.2 C921.1,589.2 924.3,586.7 928.2,586.5 C932.1,586.3 938.0,589.0 942.3,590.0 C946.6,591.0 951.0,592.9 954.1,592.3 C957.2,591.7 959.5,588.6 961.1,586.5 C962.7,584.4 961.9,581.4 963.5,579.4 C965.1,577.4 968.1,576.1 970.5,574.7 C972.9,573.3 976.4,571.8 977.6,571.2 L977.6,562.9 L890.6,562.9Z"/>
<path fill="#61b8ff" d="M930.6,567.6 C927.9,568.4 931.3,571.2 932.9,572.4 C934.5,573.6 937.6,574.9 940.0,574.7 C942.4,574.5 945.4,572.4 947.0,571.2 C948.6,570.0 952.1,568.2 949.4,567.6 C946.7,567.0 933.4,566.8 930.6,567.6Z"/>
<path fill="#61b8ff" d="M903.5,586.5 C903.5,588.4 903.3,590.5 902.9,592.0 C902.5,593.5 901.8,594.8 901.1,595.4 C900.4,596.0 899.6,596.0 898.9,595.4 C898.2,594.8 897.5,593.5 897.1,592.0 C896.7,590.5 896.5,588.4 896.5,586.5 C896.5,584.6 896.7,582.4 897.1,580.9 C897.5,579.4 898.2,578.1 898.9,577.5 C899.6,576.9 900.4,576.9 901.1,577.5 C901.8,578.1 902.5,579.4 902.9,580.9 C903.3,582.4 903.5,584.6 903.5,586.5Z"/>
<path fill="#3dba3d" d="M890.6,765.2 C893.1,765.0 900.4,765.2 905.9,764.0 C911.4,762.8 917.4,760.6 923.5,758.1 C929.6,755.6 936.4,751.6 942.3,748.7 C948.2,745.9 954.7,743.4 958.8,741.0 C962.9,738.6 965.0,734.1 967.0,734.6 C969.0,735.1 969.5,740.6 970.5,744.0 C971.5,747.4 970.7,752.4 972.9,755.1 C975.1,757.9 979.4,758.1 983.5,760.5 C987.6,762.9 993.5,766.9 997.6,769.2 C1001.7,771.6 1004.9,774.2 1008.2,774.6 C1011.5,775.0 1014.5,772.6 1017.6,771.8 C1020.7,771.0 1025.4,770.2 1027.0,769.9 L1313.9,769.9 L1313.9,878.1 L890.6,878.1Z"/>
<path fill="#61b8ff" d="M890.6,842.8 C892.2,842.4 896.1,840.8 900.0,840.4 C903.9,840.0 909.4,839.8 914.1,840.4 C918.8,841.0 923.9,842.4 928.2,844.0 C932.5,845.6 936.9,848.0 940.0,849.8 C943.1,851.5 945.2,854.9 947.0,854.5 C948.8,854.1 950.8,850.2 950.6,847.5 C950.4,844.8 947.1,841.2 945.9,838.1 C944.7,835.0 943.3,831.5 943.5,828.7 C943.7,826.0 944.9,823.5 947.0,821.6 C949.1,819.7 952.5,817.8 956.4,817.4 C960.3,817.0 966.2,818.4 970.5,819.3 C974.8,820.2 979.5,821.6 982.3,822.8 C985.0,824.0 985.0,825.3 987.0,826.3 C989.0,827.3 992.9,828.3 994.1,828.7 L1182.2,828.7 L1182.2,878.1 L890.6,878.1Z"/>
<path fill="#3dba3d" d="M1097.5,875.7 C1098.3,874.1 1100.4,869.2 1102.2,866.3 C1104.0,863.4 1106.3,860.6 1108.1,858.1 C1109.9,855.6 1111.0,853.2 1112.8,851.0 C1114.6,848.8 1117.7,846.1 1118.7,845.1 L1182.2,845.1 L1182.2,875.7Z"/>
<path fill="#0000ff" d="M1047.4,862.8 C1047.4,864.4 1046.7,866.3 1045.6,867.6 C1044.5,868.9 1042.7,870.1 1040.9,870.6 C1039.2,871.1 1036.8,871.1 1035.1,870.6 C1033.3,870.1 1031.5,868.9 1030.4,867.6 C1029.3,866.3 1028.6,864.4 1028.6,862.8 C1028.6,861.2 1029.3,859.2 1030.4,857.9 C1031.5,856.6 1033.3,855.4 1035.1,854.9 C1036.8,854.4 1039.2,854.4 1040.9,854.9 C1042.7,855.4 1044.5,856.6 1045.6,857.9 C1046.7,859.2 1047.4,861.2 1047.4,862.8Z"/>
<path fill="#0000ff" d="M490.4,940.5 C490.8,937.0 493.7,931.3 495.3,928.8 C496.9,926.3 496.9,926.7 500.0,925.3 C503.1,923.9 509.0,922.2 514.1,920.6 C519.2,919.0 525.1,917.3 530.6,915.9 C536.1,914.5 542.1,912.9 547.0,912.3 C551.9,911.6 557.1,913.0 560.0,912.0 C562.9,911.0 562.6,907.8 564.2,906.3 C565.9,904.8 567.8,903.5 569.9,902.8 C572.0,902.1 574.5,901.8 576.9,902.1 C579.2,902.5 582.1,904.2 584.0,904.9 C585.9,905.6 587.0,907.0 588.2,906.3 C589.4,905.6 589.8,902.7 591.0,900.7 C592.2,898.7 593.6,896.1 595.3,894.3 C596.9,892.5 598.5,891.0 600.9,890.1 C603.2,889.2 606.8,889.2 609.4,888.7 C612.0,888.2 614.3,888.4 616.4,887.3 C618.5,886.2 620.7,883.9 622.1,882.3 C623.5,880.6 623.2,878.7 624.9,877.4 C626.5,876.1 629.4,875.4 632.0,874.6 C634.6,873.8 637.4,873.0 640.4,872.5 C643.4,872.0 647.5,871.5 650.3,871.7 C653.1,871.9 655.0,873.1 657.4,873.9 C659.8,874.7 661.8,876.1 664.4,876.7 C667.0,877.3 670.3,877.9 672.9,877.4 C675.5,876.9 677.8,875.1 679.9,873.9 C682.0,872.7 683.5,871.6 685.6,870.3 C687.7,869.0 690.0,867.0 692.6,866.1 C695.2,865.2 698.3,864.7 701.1,864.7 C703.9,864.7 706.6,865.8 709.6,866.1 C712.6,866.5 716.1,866.8 719.4,866.8 C722.7,866.8 726.5,866.7 729.3,866.1 C732.1,865.5 734.0,864.1 736.4,863.3 C738.8,862.5 740.8,861.4 743.4,861.4 C746.0,861.4 749.1,862.8 751.9,863.3 C754.7,863.8 757.6,864.4 760.4,864.7 C763.2,865.1 766.0,865.8 768.8,865.4 C771.6,865.0 774.5,863.3 777.3,862.6 C780.1,861.9 782.4,861.2 785.7,861.2 C789.0,861.2 792.5,862.0 797.0,862.6 C801.5,863.2 808.3,864.8 812.9,864.7 C817.5,864.7 819.5,863.0 824.6,862.3 C829.7,861.6 836.7,861.1 843.4,860.7 C850.1,860.3 859.5,859.7 864.6,860.0 C869.7,860.3 871.9,860.5 874.0,862.3 C876.1,864.0 876.7,867.5 877.5,870.5 C878.3,873.5 877.7,877.6 878.7,880.0 C879.7,882.4 881.8,884.7 883.4,884.7 C885.0,884.7 886.7,882.0 888.1,880.0 C889.5,878.0 889.2,874.7 891.6,872.9 C894.0,871.1 898.5,870.4 902.2,869.4 C905.9,868.4 910.1,867.6 914.0,867.0 C917.9,866.4 921.0,866.8 925.7,865.8 C930.4,864.8 935.9,862.9 942.2,861.1 C948.5,859.4 958.7,857.0 963.4,855.3 C968.1,853.5 966.9,851.0 970.4,850.6 C973.9,850.2 980.2,852.1 984.5,852.9 C988.8,853.7 992.4,854.3 996.3,855.3 C1000.2,856.3 1005.5,856.8 1008.0,858.8 C1010.5,860.8 1011.6,864.3 1011.6,867.0 C1011.6,869.7 1010.2,872.7 1008.0,875.2 C1005.8,877.8 1001.7,880.3 998.6,882.3 C995.5,884.3 991.9,885.0 989.2,887.0 C986.5,889.0 986.1,892.1 982.2,894.1 C978.3,896.1 972.4,897.2 965.7,898.8 C959.0,900.4 950.0,902.9 942.2,903.5 C934.4,904.1 924.6,902.1 918.7,902.3 C912.8,902.5 911.6,903.6 906.9,904.6 C902.2,905.6 896.4,907.2 890.5,908.2 C884.6,909.2 876.7,908.9 871.6,910.5 C866.5,912.1 864.6,915.8 859.9,917.6 C855.2,919.4 849.3,920.3 843.4,921.1 C837.5,921.9 830.1,922.5 824.6,922.3 C819.1,922.1 817.0,919.9 810.5,919.9 C804.0,919.9 792.2,922.4 785.7,922.5 C779.2,922.6 777.9,921.0 771.6,920.4 C765.3,919.8 753.1,918.5 747.7,919.0 C742.3,919.5 741.1,921.6 739.2,923.2 C737.3,924.9 736.5,926.5 736.4,928.9 C736.3,931.3 738.7,935.3 738.5,937.4 C738.3,939.5 736.5,940.1 735.0,941.6 C733.5,943.1 731.9,945.8 729.3,946.5 C726.7,947.2 721.8,946.6 719.4,945.8 C717.0,945.0 716.4,943.2 715.2,941.6 C714.0,940.0 714.3,937.3 712.4,935.9 C710.5,934.5 706.7,933.8 703.9,933.1 C701.1,932.4 698.2,932.2 695.4,931.7 C692.6,931.2 689.8,931.0 687.0,930.3 C684.2,929.6 681.3,928.4 678.5,927.5 C675.7,926.6 672.5,925.7 670.1,924.7 C667.8,923.8 666.0,922.6 664.4,921.8 C662.8,921.0 661.5,919.7 660.2,919.7 C658.9,919.7 657.3,920.5 656.6,921.8 C655.9,923.1 656.7,925.6 655.9,927.5 C655.1,929.4 653.6,931.2 651.7,933.1 C649.8,935.0 646.8,936.9 644.7,938.8 C642.6,940.7 640.9,943.2 639.0,944.4 C637.1,945.6 635.5,945.9 633.4,945.8 C631.3,945.7 628.6,943.8 626.3,943.7 C623.9,943.6 621.4,944.3 619.3,945.1 C617.2,945.9 615.5,947.8 613.6,948.6 C611.7,949.4 610.4,949.6 608.0,950.1 C605.6,950.6 602.8,950.8 599.5,951.5 C596.2,952.2 591.7,953.4 588.2,954.3 C584.7,955.2 581.6,956.3 578.3,957.1 C575.0,957.9 571.5,958.7 568.5,959.2 C565.5,959.7 563.6,960.5 560.0,959.9 C556.4,959.3 551.9,957.1 547.0,955.8 C542.1,954.5 536.1,953.3 530.6,952.3 C525.1,951.3 519.2,950.6 514.1,950.0 C509.0,949.4 503.5,948.8 500.0,948.8 C496.5,948.8 494.5,951.4 492.9,950.0 C491.3,948.6 490.0,944.0 490.4,940.5Z"/>
</g>
<clipPath id="t9"><rect x="100" y="870" width="400" height="300"/></clipPath>
<g clip-path="url(#t9)">
<rect x="100" y="870" width="400" height="300" fill="#a6f28f"/>
<path fill="#3dba3d" d="M264.6,975.8 C267.7,975.4 278.7,974.5 283.4,973.5 C288.1,972.5 290.6,971.5 292.8,969.9 C295.0,968.3 296.0,966.2 296.4,964.1 C296.8,962.0 294.6,959.2 295.2,957.0 C295.8,954.8 297.9,953.1 299.9,951.1 C301.8,949.1 304.9,947.4 306.9,945.2 C308.8,943.1 308.9,939.8 311.6,938.2 C314.4,936.6 319.5,937.0 323.4,935.8 C327.3,934.6 331.7,932.9 335.2,931.1 C338.7,929.4 341.5,926.7 344.6,925.3 C347.7,923.9 350.1,923.4 354.0,922.9 C357.9,922.4 363.4,922.1 368.1,922.2 C372.8,922.3 376.7,922.5 382.2,923.6 C387.7,924.7 395.5,926.6 401.0,928.8 C406.5,931.0 410.4,935.0 415.1,937.0 C419.8,939.0 424.9,939.9 429.2,940.5 C433.5,941.1 437.1,939.3 441.0,940.5 C444.9,941.7 449.6,944.9 452.7,947.6 C455.8,950.4 458.0,953.9 459.8,957.0 C461.6,960.1 462.1,963.3 463.3,966.4 C464.5,969.5 464.7,973.2 466.8,975.8 C468.9,978.3 472.7,980.3 476.2,981.7 C479.7,983.1 484.0,983.9 488.0,984.1 C492.0,984.3 495.7,983.2 500.0,982.9 C504.3,982.6 511.6,982.5 513.9,982.4 L513.9,862.9 L189.4,862.9 L189.4,884.1 L264.6,893.5Z"/>
<path fill="#a6f28f" d="M331.6,888.8 C332.2,887.6 335.1,885.1 337.5,884.1 C339.9,883.1 344.1,882.5 345.7,882.9 C347.3,883.3 347.9,885.3 346.9,886.5 C345.9,887.7 342.0,889.2 339.9,890.0 C337.8,890.8 335.4,891.4 334.0,891.2 C332.6,891.0 331.0,890.0 331.6,888.8Z"/>
<path fill="#a6f28f" d="M390.2,898.7 C390.2,899.5 389.9,900.5 389.4,901.2 C388.9,901.9 388.1,902.5 387.4,902.7 C386.6,903.0 385.6,903.0 384.9,902.7 C384.2,902.5 383.4,901.9 383.0,901.2 C382.6,900.5 382.2,899.5 382.2,898.7 C382.2,897.9 382.6,896.9 383.0,896.2 C383.4,895.5 384.2,895.0 384.9,894.7 C385.6,894.5 386.6,894.5 387.4,894.7 C388.1,895.0 388.9,895.5 389.4,896.2 C389.9,896.9 390.2,897.9 390.2,898.7Z"/>
<path fill="#a6f28f" d="M303.6,897.0 C303.6,897.6 303.3,898.5 302.8,899.0 C302.3,899.5 301.5,900.0 300.7,900.2 C299.9,900.4 298.9,900.4 298.1,900.2 C297.3,900.0 296.5,899.5 296.0,899.0 C295.5,898.5 295.2,897.6 295.2,897.0 C295.2,896.4 295.5,895.6 296.0,895.1 C296.5,894.6 297.3,894.1 298.1,893.9 C298.9,893.7 299.9,893.7 300.7,893.9 C301.5,894.1 302.3,894.6 302.8,895.1 C303.3,895.6 303.6,896.4 303.6,897.0Z"/>
<path fill="#a6f28f" d="M443.3,867.6 C443.9,868.8 445.3,872.7 446.9,874.7 C448.5,876.7 449.4,878.8 452.7,879.4 C456.0,880.0 462.1,878.6 466.8,878.2 C471.5,877.8 475.5,876.9 481.0,877.1 C486.5,877.3 494.5,878.8 500.0,879.4 C505.5,880.0 511.6,880.4 513.9,880.6 L513.9,862.9Z"/>
<path fill="#61b8ff" d="M216.9,844.0 C216.3,841.2 219.8,839.1 222.3,837.6 C224.8,836.1 227.8,834.8 231.7,835.3 C235.6,835.8 241.1,839.1 245.8,840.4 C250.5,841.6 255.6,843.0 259.9,842.8 C264.2,842.6 268.2,839.3 271.7,839.3 C275.2,839.3 279.2,840.4 281.1,842.8 C283.0,845.1 283.4,849.9 283.0,853.4 C282.6,856.9 280.6,859.7 278.7,863.9 C276.8,868.1 274.6,875.3 271.7,878.8 C268.8,882.3 264.6,885.2 261.1,885.1 C257.6,885.0 254.0,880.9 250.5,878.1 C247.0,875.3 244.0,872.2 239.9,868.2 C235.8,864.2 229.6,858.1 225.8,854.1 C222.0,850.1 217.5,846.8 216.9,844.0Z"/>
<path fill="#61b8ff" d="M513.9,892.3 C511.6,892.5 506.3,893.1 500.0,893.5 C493.7,893.9 484.1,894.3 476.2,894.7 C468.3,895.1 458.6,895.3 452.7,895.9 C446.8,896.5 444.9,896.6 441.0,898.2 C437.1,899.8 432.7,902.2 429.2,905.3 C425.7,908.4 420.6,913.9 419.8,917.0 C419.0,920.1 421.0,922.5 424.5,924.1 C428.0,925.7 434.3,925.8 441.0,926.4 C447.7,927.0 459.0,926.4 464.5,927.6 C470.0,928.8 471.5,931.0 473.9,933.5 C476.2,936.0 477.4,939.4 478.6,942.9 C479.8,946.4 480.4,951.2 481.0,954.7 C481.6,958.2 480.9,961.4 482.1,964.1 C483.3,966.8 485.0,969.7 488.0,971.1 C491.0,972.5 495.7,972.1 500.0,972.3 C504.3,972.5 511.6,972.3 513.9,972.3Z"/>
<path fill="#3dba3d" d="M499.8,911.9 C499.8,912.6 499.4,913.3 498.9,913.9 C498.3,914.5 497.4,915.0 496.5,915.2 C495.6,915.4 494.5,915.4 493.6,915.2 C492.7,915.0 491.8,914.5 491.3,913.9 C490.8,913.3 490.4,912.6 490.4,911.9 C490.4,911.2 490.8,910.4 491.3,909.8 C491.8,909.2 492.7,908.7 493.6,908.5 C494.5,908.3 495.6,908.3 496.5,908.5 C497.4,908.7 498.3,909.2 498.9,909.8 C499.4,910.4 499.8,911.2 499.8,911.9Z"/>
<path fill="#0000ff" d="M490.4,940.5 C490.8,937.0 493.7,931.3 495.3,928.8 C496.9,926.3 496.9,926.7 500.0,925.3 C503.1,923.9 509.0,922.2 514.1,920.6 C519.2,919.0 525.1,917.3 530.6,915.9 C536.1,914.5 542.1,912.9 547.0,912.3 C551.9,911.6 557.1,913.0 560.0,912.0 C562.9,911.0 562.6,907.8 564.2,906.3 C565.9,904.8 567.8,903.5 569.9,902.8 C572.0,902.1 574.5,901.8 576.9,902.1 C579.2,902.5 582.1,904.2 584.0,904.9 C585.9,905.6 587.0,907.0 588.2,906.3 C589.4,905.6 589.8,902.7 591.0,900.7 C592.2,898.7 593.6,896.1 595.3,894.3 C596.9,892.5 598.5,891.0 600.9,890.1 C603.2,889.2 606.8,889.2 609.4,888.7 C612.0,888.2 614.3,888.4 616.4,887.3 C618.5,886.2 620.7,883.9 622.1,882.3 C623.5,880.6 623.2,878.7 624.9,877.4 C626.5,876.1 629.4,875.4 632.0,874.6 C634.6,873.8 637.4,873.0 640.4,872.5 C643.4,872.0 647.5,871.5 650.3,871.7 C653.1,871.9 655.0,873.1 657.4,873.9 C659.8,874.7 661.8,876.1 664.4,876.7 C667.0,877.3 670.3,877.9 672.9,877.4 C675.5,876.9 677.8,875.1 679.9,873.9 C682.0,872.7 683.5,871.6 685.6,870.3 C687.7,869.0 690.0,867.0 692.6,866.1 C695.2,865.2 698.3,864.7 701.1,864.7 C703.9,864.7 706.6,865.8 709.6,866.1 C712.6,866.5 716.1,866.8 719.4,866.8 C722.7,866.8 726.5,866.7 729.3,866.1 C732.1,865.5 734.0,864.1 736.4,863.3 C738.8,862.5 740.8,861.4 743.4,861.4 C746.0,861.4 749.1,862.8 751.9,863.3 C754.7,863.8 757.6,864.4 760.4,864.7 C763.2,865.1 766.0,865.8 768.8,865.4 C771.6,865.0 774.5,863.3 777.3,862.6 C780.1,861.9 782.4,861.2 785.7,861.2 C789.0,861.2 792.5,862.0 797.0,862.6 C801.5,863.2 808.3,864.8 812.9,864.7 C817.5,864.7 819.5,863.0 824.6,862.3 C829.7,861.6 836.7,861.1 843.4,860.7 C850.1,860.3 859.5,859.7 864.6,860.0 C869.7,860.3 871.9,860.5 874.0,862.3 C876.1,864.0 876.7,867.5 877.5,870.5 C878.3,873.5 877.7,877.6 878.7,880.0 C879.7,882.4 881.8,884.7 883.4,884.7 C885.0,884.7 886.7,882.0 888.1,880.0 C889.5,878.0 889.2,874.7 891.6,872.9 C894.0,871.1 898.5,870.4 902.2,869.4 C905.9,868.4 910.1,867.6 914.0,867.0 C917.9,866.4 921.0,866.8 925.7,865.8 C930.4,864.8 935.9,862.9 942.2,861.1 C948.5,859.4 958.7,857.0 963.4,855.3 C968.1,853.5 966.9,851.0 970.4,850.6 C973.9,850.2 980.2,852.1 984.5,852.9 C988.8,853.7 992.4,854.3 996.3,855.3 C1000.2,856.3 1005.5,856.8 1008.0,858.8 C1010.5,860.8 1011.6,864.3 1011.6,867.0 C1011.6,869.7 1010.2,872.7 1008.0,875.2 C1005.8,877.8 1001.7,880.3 998.6,882.3 C995.5,884.3 991.9,885.0 989.2,887.0 C986.5,889.0 986.1,892.1 982.2,894.1 C978.3,896.1 972.4,897.2 965.7,898.8 C959.0,900.4 950.0,902.9 942.2,903.5 C934.4,904.1 924.6,902.1 918.7,902.3 C912.8,902.5 911.6,903.6 906.9,904.6 C902.2,905.6 896.4,907.2 890.5,908.2 C884.6,909.2 876.7,908.9 871.6,910.5 C866.5,912.1 864.6,915.8 859.9,917.6 C855.2,919.4 849.3,920.3 843.4,921.1 C837.5,921.9 830.1,922.5 824.6,922.3 C819.1,922.1 817.0,919.9 810.5,919.9 C804.0,919.9 792.2,922.4 785.7,922.5 C779.2,922.6 777.9,921.0 771.6,920.4 C765.3,919.8 753.1,918.5 747.7,919.0 C742.3,919.5 741.1,921.6 739.2,923.2 C737.3,924.9 736.5,926.5 736.4,928.9 C736.3,931.3 738.7,935.3 738.5,937.4 C738.3,939.5 736.5,940.1 735.0,941.6 C733.5,943.1 731.9,945.8 729.3,946.5 C726.7,947.2 721.8,946.6 719.4,945.8 C717.0,945.0 716.4,943.2 715.2,941.6 C714.0,940.0 714.3,937.3 712.4,935.9 C710.5,934.5 706.7,933.8 703.9,933.1 C701.1,932.4 698.2,932.2 695.4,931.7 C692.6,931.2 689.8,931.0 687.0,930.3 C684.2,929.6 681.3,928.4 678.5,927.5 C675.7,926.6 672.5,925.7 670.1,924.7 C667.8,923.8 666.0,922.6 664.4,921.8 C662.8,921.0 661.5,919.7 660.2,919.7 C658.9,919.7 657.3,920.5 656.6,921.8 C655.9,923.1 656.7,925.6 655.9,927.5 C655.1,929.4 653.6,931.2 651.7,933.1 C649.8,935.0 646.8,936.9 644.7,938.8 C642.6,940.7 640.9,943.2 639.0,944.4 C637.1,945.6 635.5,945.9 633.4,945.8 C631.3,945.7 628.6,943.8 626.3,943.7 C623.9,943.6 621.4,944.3 619.3,945.1 C617.2,945.9 615.5,947.8 613.6,948.6 C611.7,949.4 610.4,949.6 608.0,950.1 C605.6,950.6 602.8,950.8 599.5,951.5 C596.2,952.2 591.7,953.4 588.2,954.3 C584.7,955.2 581.6,956.3 578.3,957.1 C575.0,957.9 571.5,958.7 568.5,959.2 C565.5,959.7 563.6,960.5 560.0,959.9 C556.4,959.3 551.9,957.1 547.0,955.8 C542.1,954.5 536.1,953.3 530.6,952.3 C525.1,951.3 519.2,950.6 514.1,950.0 C509.0,949.4 503.5,948.8 500.0,948.8 C496.5,948.8 494.5,951.4 492.9,950.0 C491.3,948.6 490.0,944.0 490.4,940.5Z"/>
<path fill="#3dba3d" d="M329.5,978.9 C329.5,980.2 329.0,981.7 328.3,982.7 C327.6,983.7 326.4,984.7 325.3,985.1 C324.2,985.5 322.6,985.5 321.5,985.1 C320.4,984.7 319.2,983.7 318.5,982.7 C317.8,981.7 317.3,980.2 317.3,978.9 C317.3,977.6 317.8,976.0 318.5,975.0 C319.2,974.0 320.4,973.0 321.5,972.6 C322.6,972.2 324.2,972.2 325.3,972.6 C326.4,973.0 327.6,974.0 328.3,975.0 C329.0,976.0 329.5,977.6 329.5,978.9Z"/>
<path fill="#3dba3d" d="M364.6,1053.4 C365.4,1051.1 367.5,1049.3 370.4,1048.7 C373.3,1048.1 379.1,1048.3 382.2,1049.9 C385.3,1051.5 388.4,1055.2 389.2,1058.1 C390.0,1061.0 388.8,1064.8 386.9,1067.5 C384.9,1070.2 380.2,1074.2 377.5,1074.6 C374.8,1075.0 372.4,1071.9 370.4,1069.9 C368.4,1067.9 366.7,1065.5 365.7,1062.8 C364.7,1060.0 363.8,1055.8 364.6,1053.4Z"/>
<path fill="#61b8ff" d="M368.1,1052.2 C368.9,1051.0 374.6,1051.1 377.5,1051.1 C380.4,1051.1 384.9,1051.0 385.7,1052.2 C386.5,1053.4 384.3,1057.1 382.2,1058.1 C380.1,1059.1 375.1,1059.1 372.8,1058.1 C370.5,1057.1 367.3,1053.4 368.1,1052.2Z"/>
<path fill="#3dba3d" d="M299.9,1092.2 C298.7,1088.7 307.7,1086.3 311.6,1084.0 C315.5,1081.7 319.9,1079.5 323.4,1078.1 C326.9,1076.7 330.1,1075.6 332.8,1075.8 C335.6,1076.0 337.5,1077.7 339.9,1079.3 C342.2,1080.9 345.1,1082.8 346.9,1085.2 C348.6,1087.6 350.8,1090.9 350.4,1093.4 C350.0,1096.0 347.1,1098.5 344.6,1100.5 C342.1,1102.5 338.4,1104.0 335.2,1105.2 C332.0,1106.4 328.4,1107.5 325.7,1107.5 C322.9,1107.5 323.0,1107.8 318.7,1105.2 C314.4,1102.7 301.1,1095.7 299.9,1092.2Z"/>
<path fill="#3dba3d" d="M321.0,1152.2 C323.4,1151.8 330.9,1151.2 335.2,1149.8 C339.5,1148.4 343.0,1145.6 346.9,1144.0 C350.8,1142.4 354.4,1141.0 358.7,1140.4 C363.0,1139.8 368.5,1140.1 372.8,1140.4 C377.1,1140.7 381.4,1141.1 384.5,1142.3 C387.6,1143.5 390.6,1145.1 391.6,1147.5 C392.6,1149.9 392.0,1154.2 390.4,1156.9 C388.8,1159.6 385.5,1162.0 382.2,1163.9 C378.9,1165.9 374.3,1167.0 370.4,1168.6 C366.5,1170.2 360.6,1172.6 358.7,1173.4 L311.6,1173.4Z"/>
<path fill="#3dba3d" d="M443.3,1112.0 C443.8,1110.2 446.2,1108.2 448.2,1106.3 C450.2,1104.4 452.9,1103.0 455.3,1100.7 C457.7,1098.4 460.4,1095.3 462.3,1092.2 C464.2,1089.1 465.4,1085.1 466.6,1082.3 C467.8,1079.5 467.8,1077.3 469.4,1075.3 C471.0,1073.3 474.0,1071.6 476.4,1070.3 C478.8,1069.0 481.3,1067.8 483.5,1067.5 C485.7,1067.2 488.6,1067.1 489.8,1068.2 C491.0,1069.3 491.1,1071.9 490.5,1073.9 C489.9,1075.9 486.8,1078.3 486.3,1080.2 C485.8,1082.1 486.3,1084.0 487.7,1085.1 C489.1,1086.2 492.7,1086.8 494.8,1086.6 C496.9,1086.4 498.8,1085.3 500.4,1083.7 C502.0,1082.1 502.8,1078.7 504.7,1076.7 C506.6,1074.7 509.4,1072.9 511.7,1071.7 C514.0,1070.5 516.7,1069.5 518.8,1069.6 C520.9,1069.7 522.8,1071.1 524.4,1072.5 C526.0,1073.9 528.0,1076.0 528.6,1078.1 C529.2,1080.2 527.2,1082.9 527.9,1085.1 C528.6,1087.3 532.5,1089.6 532.9,1091.5 C533.3,1093.4 532.0,1095.1 530.1,1096.4 C528.2,1097.7 524.4,1098.2 521.6,1099.3 C518.8,1100.4 515.9,1101.6 513.1,1102.8 C510.3,1104.0 507.1,1105.1 504.7,1106.3 C502.3,1107.5 500.4,1108.6 499.0,1109.8 C497.6,1111.0 497.1,1111.6 496.2,1113.4 C495.3,1115.2 496.7,1118.3 493.4,1120.4 C490.1,1122.5 481.6,1125.4 476.4,1126.1 C471.2,1126.8 466.3,1125.4 462.3,1124.7 C458.3,1124.0 455.3,1123.1 452.5,1121.8 C449.7,1120.5 446.9,1118.5 445.4,1116.9 C443.9,1115.3 442.8,1113.8 443.3,1112.0Z"/>
<path fill="#ffffff" d="M357.5,1007.6 C357.1,1005.1 358.9,1002.3 361.0,1000.5 C363.1,998.7 366.9,998.0 370.4,997.0 C373.9,996.0 378.3,994.4 382.2,994.6 C386.1,994.8 390.4,996.6 393.9,998.2 C397.4,999.8 402.0,1001.6 403.4,1004.0 C404.8,1006.4 404.2,1010.5 402.2,1012.3 C400.2,1014.1 395.7,1013.8 391.6,1014.6 C387.5,1015.4 382.2,1016.9 377.5,1017.0 C372.8,1017.1 366.7,1016.9 363.4,1015.3 C360.1,1013.7 357.9,1010.1 357.5,1007.6Z"/>
<path fill="#ffffff" d="M285.8,1048.7 C287.0,1045.2 291.7,1041.7 295.2,1039.3 C298.7,1036.9 302.6,1035.0 306.9,1034.6 C311.2,1034.2 316.7,1037.0 321.0,1037.0 C325.3,1037.0 329.3,1036.2 332.8,1034.6 C336.3,1033.0 338.9,1029.9 342.2,1027.6 C345.5,1025.2 350.1,1021.5 352.8,1020.5 C355.6,1019.5 356.9,1020.1 358.7,1021.7 C360.5,1023.3 361.8,1027.0 363.4,1029.9 C365.0,1032.8 368.9,1037.3 368.1,1039.3 C367.3,1041.3 362.2,1041.5 358.7,1041.7 C355.2,1041.9 350.8,1040.3 346.9,1040.5 C343.0,1040.7 338.7,1041.4 335.2,1042.8 C331.7,1044.2 328.8,1046.5 325.7,1048.7 C322.6,1050.9 319.4,1053.5 316.3,1055.8 C313.2,1058.1 310.0,1061.4 306.9,1062.8 C303.8,1064.2 300.6,1064.4 297.5,1064.0 C294.4,1063.6 290.1,1063.0 288.1,1060.5 C286.2,1058.0 284.6,1052.2 285.8,1048.7Z"/>
<path fill="#ffffff" d="M444.5,1049.9 C444.7,1047.6 445.9,1043.7 448.0,1041.7 C450.1,1039.7 453.9,1038.1 457.4,1038.1 C460.9,1038.1 466.8,1040.3 469.2,1041.7 C471.6,1043.1 471.9,1044.5 471.5,1046.4 C471.1,1048.4 469.5,1051.7 466.8,1053.4 C464.1,1055.2 458.4,1056.5 455.1,1056.9 C451.8,1057.3 448.7,1057.0 446.9,1055.8 C445.1,1054.6 444.3,1052.2 444.5,1049.9Z"/>
</g>
<clipPath id="t10"><rect x="500" y="870" width="400" height="300"/></clipPath>
<g clip-path="url(#t10)">
<rect x="500" y="870" width="400" height="300" fill="#a6f28f"/>
<path fill="#3dba3d" d="M490.6,984.1 C492.2,983.9 496.1,983.7 500.0,982.9 C503.9,982.1 509.4,981.3 514.1,979.3 C518.8,977.3 524.3,973.3 528.2,971.1 C532.1,968.9 534.5,967.0 537.6,965.9 C540.7,964.8 543.5,964.3 547.0,964.5 C550.5,964.7 554.9,966.0 558.8,966.9 C562.7,967.8 567.0,968.8 570.5,969.9 C574.0,971.0 576.9,972.1 580.0,973.5 C583.1,974.9 586.3,976.8 589.4,978.2 C592.5,979.6 594.1,980.9 598.8,981.7 C603.5,982.5 611.7,983.0 617.6,982.9 C623.5,982.8 630.1,980.3 634.0,981.0 C637.9,981.7 638.4,986.3 641.1,987.1 C643.9,987.9 647.4,986.3 650.5,985.7 C653.6,985.1 655.2,983.4 659.9,983.3 C664.6,983.2 672.0,985.3 678.7,985.2 C685.4,985.1 694.4,983.9 699.9,982.9 C705.4,981.9 707.7,980.3 711.6,979.3 C715.5,978.3 719.5,977.6 723.4,977.0 C727.3,976.4 732.1,976.4 735.2,975.8 C738.3,975.2 739.9,974.3 742.2,973.5 C744.6,972.7 746.5,972.7 749.3,971.1 C752.0,969.5 755.6,965.9 758.7,964.1 C761.8,962.3 764.2,961.3 768.1,960.5 C772.0,959.7 777.5,959.4 782.2,959.4 C786.9,959.4 791.6,960.7 796.3,960.5 C801.0,960.3 804.9,959.2 810.4,958.2 C815.9,957.2 823.7,955.9 829.2,954.7 C834.7,953.5 838.6,952.3 843.3,951.1 C848.0,949.9 853.5,948.7 857.4,947.6 C861.3,946.5 862.9,945.8 866.8,944.8 C870.7,943.8 875.5,942.8 881.0,941.7 C886.5,940.6 894.5,939.2 900.0,938.2 C905.5,937.2 911.6,936.2 913.9,935.8 L913.9,862.9 L490.6,862.9Z"/>
<path fill="#61b8ff" d="M490.6,963.6 C492.2,963.5 496.1,963.2 500.0,962.9 C503.9,962.6 509.0,962.1 514.1,961.7 C519.2,961.3 525.1,961.0 530.6,960.5 C536.1,960.0 541.1,959.3 547.0,958.9 C552.9,958.5 559.9,958.6 565.8,958.2 C571.7,957.8 576.8,956.6 582.3,956.5 C587.8,956.4 592.9,957.2 598.8,957.5 C604.7,957.8 611.7,958.3 617.6,958.2 C623.5,958.1 629.3,957.6 634.0,957.0 C638.7,956.4 642.3,955.7 645.8,954.7 C649.3,953.7 652.1,951.7 655.2,951.1 C658.3,950.5 661.9,950.1 664.6,951.1 C667.4,952.1 669.9,955.0 671.7,957.0 C673.5,959.0 672.5,961.7 675.2,962.9 C677.9,964.1 683.6,963.7 688.1,964.1 C692.6,964.5 697.5,964.8 702.2,965.2 C706.9,965.6 712.4,966.6 716.3,966.4 C720.2,966.2 722.6,965.1 725.7,964.1 C728.9,963.1 731.7,961.9 735.2,960.5 C738.7,959.1 743.0,957.5 746.9,955.8 C750.8,954.0 754.8,951.6 758.7,950.0 C762.6,948.4 766.5,947.3 770.4,946.4 C774.3,945.5 777.9,945.2 782.2,944.8 C786.5,944.4 791.6,944.6 796.3,944.1 C801.0,943.6 805.7,942.3 810.4,941.7 C815.1,941.1 819.8,940.9 824.5,940.5 C829.2,940.1 833.9,939.8 838.6,939.4 C843.3,939.0 848.0,938.6 852.7,938.2 C857.4,937.8 862.9,937.3 866.8,936.8 C870.7,936.3 872.7,935.9 876.2,935.4 C879.7,934.9 884.0,934.7 888.0,934.0 C892.0,933.3 895.7,932.0 900.0,931.1 C904.3,930.2 911.6,929.2 913.9,928.8 L913.9,862.9 L490.6,862.9Z"/>
<path fill="#3dba3d" d="M490.6,893.5 C492.2,893.7 495.7,894.3 500.0,894.7 C504.3,895.1 510.6,895.9 516.5,895.9 C522.4,895.9 528.2,895.5 535.3,894.7 C542.3,893.9 552.9,892.6 558.8,891.2 C564.7,889.8 567.0,888.5 570.5,886.5 C574.0,884.5 577.2,882.1 580.0,879.4 C582.8,876.6 585.4,872.8 587.0,870.0 C588.6,867.2 589.0,864.1 589.4,862.9 L490.6,862.9Z"/>
<path fill="#0000ff" d="M490.4,940.5 C490.8,937.0 493.7,931.3 495.3,928.8 C496.9,926.3 496.9,926.7 500.0,925.3 C503.1,923.9 509.0,922.2 514.1,920.6 C519.2,919.0 525.1,917.3 530.6,915.9 C536.1,914.5 542.1,912.9 547.0,912.3 C551.9,911.6 557.1,913.0 560.0,912.0 C562.9,911.0 562.6,907.8 564.2,906.3 C565.9,904.8 567.8,903.5 569.9,902.8 C572.0,902.1 574.5,901.8 576.9,902.1 C579.2,902.5 582.1,904.2 584.0,904.9 C585.9,905.6 587.0,907.0 588.2,906.3 C589.4,905.6 589.8,902.7 591.0,900.7 C592.2,898.7 593.6,896.1 595.3,894.3 C596.9,892.5 598.5,891.0 600.9,890.1 C603.2,889.2 606.8,889.2 609.4,888.7 C612.0,888.2 614.3,888.4 616.4,887.3 C618.5,886.2 620.7,883.9 622.1,882.3 C623.5,880.6 623.2,878.7 624.9,877.4 C626.5,876.1 629.4,875.4 632.0,874.6 C634.6,873.8 637.4,873.0 640.4,872.5 C643.4,872.0 647.5,871.5 650.3,871.7 C653.1,871.9 655.0,873.1 657.4,873.9 C659.8,874.7 661.8,876.1 664.4,876.7 C667.0,877.3 670.3,877.9 672.9,877.4 C675.5,876.9 677.8,875.1 679.9,873.9 C682.0,872.7 683.5,871.6 685.6,870.3 C687.7,869.0 690.0,867.0 692.6,866.1 C695.2,865.2 698.3,864.7 701.1,864.7 C703.9,864.7 706.6,865.8 709.6,866.1 C712.6,866.5 716.1,866.8 719.4,866.8 C722.7,866.8 726.5,866.7 729.3,866.1 C732.1,865.5 734.0,864.1 736.4,863.3 C738.8,862.5 740.8,861.4 743.4,861.4 C746.0,861.4 749.1,862.8 751.9,863.3 C754.7,863.8 757.6,864.4 760.4,864.7 C763.2,865.1 766.0,865.8 768.8,865.4 C771.6,865.0 774.5,863.3 777.3,862.6 C780.1,861.9 782.4,861.2 785.7,861.2 C789.0,861.2 792.5,862.0 797.0,862.6 C801.5,863.2 808.3,864.8 812.9,864.7 C817.5,864.7 819.5,863.0 824.6,862.3 C829.7,861.6 836.7,861.1 843.4,860.7 C850.1,860.3 859.5,859.7 864.6,860.0 C869.7,860.3 871.9,860.5 874.0,862.3 C876.1,864.0 876.7,867.5 877.5,870.5 C878.3,873.5 877.7,877.6 878.7,880.0 C879.7,882.4 881.8,884.7 883.4,884.7 C885.0,884.7 886.7,882.0 888.1,880.0 C889.5,878.0 889.2,874.7 891.6,872.9 C894.0,871.1 898.5,870.4 902.2,869.4 C905.9,868.4 910.1,867.6 914.0,867.0 C917.9,866.4 921.0,866.8 925.7,865.8 C930.4,864.8 935.9,862.9 942.2,861.1 C948.5,859.4 958.7,857.0 963.4,855.3 C968.1,853.5 966.9,851.0 970.4,850.6 C973.9,850.2 980.2,852.1 984.5,852.9 C988.8,853.7 992.4,854.3 996.3,855.3 C1000.2,856.3 1005.5,856.8 1008.0,858.8 C1010.5,860.8 1011.6,864.3 1011.6,867.0 C1011.6,869.7 1010.2,872.7 1008.0,875.2 C1005.8,877.8 1001.7,880.3 998.6,882.3 C995.5,884.3 991.9,885.0 989.2,887.0 C986.5,889.0 986.1,892.1 982.2,894.1 C978.3,896.1 972.4,897.2 965.7,898.8 C959.0,900.4 950.0,902.9 942.2,903.5 C934.4,904.1 924.6,902.1 918.7,902.3 C912.8,902.5 911.6,903.6 906.9,904.6 C902.2,905.6 896.4,907.2 890.5,908.2 C884.6,909.2 876.7,908.9 871.6,910.5 C866.5,912.1 864.6,915.8 859.9,917.6 C855.2,919.4 849.3,920.3 843.4,921.1 C837.5,921.9 830.1,922.5 824.6,922.3 C819.1,922.1 817.0,919.9 810.5,919.9 C804.0,919.9 792.2,922.4 785.7,922.5 C779.2,922.6 777.9,921.0 771.6,920.4 C765.3,919.8 753.1,918.5 747.7,919.0 C742.3,919.5 741.1,921.6 739.2,923.2 C737.3,924.9 736.5,926.5 736.4,928.9 C736.3,931.3 738.7,935.3 738.5,937.4 C738.3,939.5 736.5,940.1 735.0,941.6 C733.5,943.1 731.9,945.8 729.3,946.5 C726.7,947.2 721.8,946.6 719.4,945.8 C717.0,945.0 716.4,943.2 715.2,941.6 C714.0,940.0 714.3,937.3 712.4,935.9 C710.5,934.5 706.7,933.8 703.9,933.1 C701.1,932.4 698.2,932.2 695.4,931.7 C692.6,931.2 689.8,931.0 687.0,930.3 C684.2,929.6 681.3,928.4 678.5,927.5 C675.7,926.6 672.5,925.7 670.1,924.7 C667.8,923.8 666.0,922.6 664.4,921.8 C662.8,921.0 661.5,919.7 660.2,919.7 C658.9,919.7 657.3,920.5 656.6,921.8 C655.9,923.1 656.7,925.6 655.9,927.5 C655.1,929.4 653.6,931.2 651.7,933.1 C649.8,935.0 646.8,936.9 644.7,938.8 C642.6,940.7 640.9,943.2 639.0,944.4 C637.1,945.6 635.5,945.9 633.4,945.8 C631.3,945.7 628.6,943.8 626.3,943.7 C623.9,943.6 621.4,944.3 619.3,945.1 C617.2,945.9 615.5,947.8 613.6,948.6 C611.7,949.4 610.4,949.6 608.0,950.1 C605.6,950.6 602.8,950.8 599.5,951.5 C596.2,952.2 591.7,953.4 588.2,954.3 C584.7,955.2 581.6,956.3 578.3,957.1 C575.0,957.9 571.5,958.7 568.5,959.2 C565.5,959.7 563.6,960.5 560.0,959.9 C556.4,959.3 551.9,957.1 547.0,955.8 C542.1,954.5 536.1,953.3 530.6,952.3 C525.1,951.3 519.2,950.6 514.1,950.0 C509.0,949.4 503.5,948.8 500.0,948.8 C496.5,948.8 494.5,951.4 492.9,950.0 C491.3,948.6 490.0,944.0 490.4,940.5Z"/>
<path fill="#ff00ff" d="M512.9,938.2 C513.3,936.0 515.8,933.1 518.8,931.1 C521.8,929.1 525.9,927.6 530.6,926.4 C535.3,925.2 542.1,924.8 547.0,924.1 C551.9,923.5 556.6,923.1 560.0,922.5 C563.4,921.9 564.8,921.0 567.1,920.4 C569.5,919.8 571.8,919.6 574.1,919.0 C576.5,918.4 578.9,917.6 581.2,916.9 C583.6,916.2 586.1,915.7 588.2,914.8 C590.3,913.9 592.0,912.2 593.9,911.3 C595.8,910.3 597.1,909.7 599.5,909.1 C601.9,908.5 605.2,908.2 608.0,907.7 C610.8,907.2 613.8,906.9 616.4,906.3 C619.0,905.7 621.1,904.9 623.5,904.2 C625.9,903.5 627.9,903.0 630.5,902.1 C633.1,901.2 636.6,899.9 639.0,898.6 C641.4,897.3 642.8,895.6 644.7,894.3 C646.6,893.0 648.2,891.7 650.3,890.8 C652.4,889.9 654.8,889.2 657.4,888.7 C660.0,888.2 663.0,888.2 665.8,888.0 C668.6,887.8 671.5,888.1 674.3,887.7 C677.1,887.4 680.2,886.3 682.8,885.9 C685.4,885.5 687.2,885.2 689.8,885.1 C692.4,885.0 695.5,885.2 698.3,885.4 C701.1,885.6 704.1,886.1 706.7,886.3 C709.3,886.4 711.7,886.6 713.8,886.3 C715.9,886.0 717.8,885.3 719.4,884.4 C721.0,883.5 722.3,882.2 723.7,880.9 C725.1,879.6 726.5,878.0 727.9,876.7 C729.3,875.4 730.5,874.0 732.1,873.2 C733.8,872.4 735.9,871.7 737.8,871.7 C739.7,871.7 741.5,872.5 743.4,873.2 C745.3,873.9 747.2,875.2 749.1,876.0 C751.0,876.8 752.6,877.8 754.7,878.1 C756.8,878.5 759.4,878.3 761.8,878.1 C764.1,877.9 766.2,877.3 768.8,877.0 C771.4,876.7 774.5,876.3 777.3,876.4 C780.1,876.5 783.1,876.6 785.7,877.4 C788.3,878.1 790.9,879.6 792.8,880.9 C794.7,882.2 795.9,883.5 797.0,885.1 C798.1,886.8 799.0,888.7 799.2,890.8 C799.4,892.9 799.0,895.9 798.4,897.8 C797.8,899.7 796.8,900.8 795.6,902.1 C794.4,903.4 795.4,904.4 791.4,905.6 C787.4,906.8 779.8,908.3 771.6,909.1 C763.4,909.9 748.4,910.4 742.0,910.5 C735.6,910.6 735.9,910.5 733.5,909.8 C731.1,909.1 729.8,907.3 727.9,906.3 C726.0,905.2 724.2,903.5 722.3,903.5 C720.4,903.5 718.2,904.9 716.6,906.3 C715.0,907.7 713.8,910.2 712.4,912.0 C711.0,913.8 710.0,915.6 708.1,916.9 C706.2,918.2 703.7,919.0 701.1,919.7 C698.5,920.4 695.2,921.0 692.6,921.1 C690.0,921.2 687.7,920.9 685.6,920.4 C683.5,919.9 682.0,919.0 679.9,918.3 C677.8,917.6 675.2,916.8 672.9,916.2 C670.5,915.6 668.1,915.3 665.8,914.8 C663.4,914.3 660.9,913.2 658.8,913.4 C656.7,913.6 654.8,914.8 653.1,916.2 C651.5,917.6 650.5,920.3 648.9,921.8 C647.2,923.3 645.3,924.9 643.2,925.4 C641.1,925.9 638.8,925.1 636.2,924.7 C633.6,924.3 630.5,923.8 627.7,923.2 C624.9,922.6 621.6,921.1 619.3,921.1 C616.9,921.1 615.5,921.9 613.6,923.2 C611.7,924.5 609.9,927.1 608.0,928.9 C606.1,930.7 604.6,932.6 602.3,933.8 C599.9,935.0 596.7,935.3 593.9,935.9 C591.1,936.5 588.2,936.9 585.4,937.4 C582.6,937.9 579.7,938.1 576.9,938.8 C574.1,939.5 571.3,940.5 568.5,941.6 C565.7,942.7 564.4,943.9 560.0,945.1 C555.6,946.3 547.6,948.4 542.3,948.8 C537.0,949.2 532.5,948.4 528.2,947.6 C523.9,946.8 519.0,945.7 516.5,944.1 C514.0,942.5 512.5,940.4 512.9,938.2Z"/>
<path fill="#ffffff" d="M543.3,975.1 C543.3,976.1 542.9,977.4 542.3,978.2 C541.7,979.0 540.7,979.7 539.7,980.0 C538.7,980.3 537.5,980.3 536.5,980.0 C535.5,979.7 534.5,979.0 533.9,978.2 C533.3,977.4 532.9,976.1 532.9,975.1 C532.9,974.1 533.3,972.9 533.9,972.1 C534.5,971.3 535.5,970.5 536.5,970.2 C537.5,969.9 538.7,969.9 539.7,970.2 C540.7,970.5 541.7,971.3 542.3,972.1 C542.9,972.9 543.3,974.1 543.3,975.1Z"/>
<path fill="#3dba3d" d="M507.1,1029.9 C506.7,1026.4 507.8,1021.2 509.4,1018.1 C511.0,1015.0 513.8,1012.7 516.5,1011.1 C519.2,1009.5 523.4,1008.3 525.9,1008.7 C528.4,1009.1 530.9,1011.0 531.7,1013.4 C532.5,1015.8 530.6,1019.4 530.6,1022.9 C530.6,1026.4 532.9,1031.7 531.7,1034.6 C530.5,1037.5 526.8,1039.7 523.5,1040.5 C520.2,1041.3 514.5,1041.1 511.8,1039.3 C509.1,1037.5 507.5,1033.4 507.1,1029.9Z"/>
<path fill="#3dba3d" d="M596.2,1007.6 C596.2,1008.0 596.0,1008.5 595.8,1008.8 C595.5,1009.1 595.1,1009.5 594.7,1009.6 C594.3,1009.7 593.8,1009.7 593.4,1009.6 C593.0,1009.5 592.6,1009.1 592.4,1008.8 C592.1,1008.5 591.9,1008.0 591.9,1007.6 C591.9,1007.2 592.1,1006.6 592.4,1006.3 C592.6,1006.0 593.0,1005.7 593.4,1005.6 C593.8,1005.5 594.3,1005.5 594.7,1005.6 C595.1,1005.7 595.5,1006.0 595.8,1006.3 C596.0,1006.6 596.2,1007.2 596.2,1007.6Z"/>
<path fill="#61b8ff" d="M644.6,975.1 C644.6,975.4 644.3,975.8 643.8,976.1 C643.3,976.4 642.5,976.6 641.7,976.7 C640.9,976.8 639.9,976.8 639.1,976.7 C638.3,976.6 637.5,976.4 637.0,976.1 C636.5,975.8 636.2,975.4 636.2,975.1 C636.2,974.8 636.5,974.4 637.0,974.1 C637.5,973.8 638.3,973.6 639.1,973.5 C639.9,973.4 640.9,973.4 641.7,973.5 C642.5,973.6 643.3,973.8 643.8,974.1 C644.3,974.4 644.6,974.8 644.6,975.1Z"/>
<path fill="#3dba3d" d="M570.5,1052.2 C572.3,1049.5 576.1,1047.8 580.0,1046.4 C583.9,1045.0 589.8,1044.0 594.1,1044.0 C598.4,1044.0 602.3,1044.8 605.8,1046.4 C609.3,1048.0 612.9,1051.1 615.2,1053.4 C617.6,1055.8 620.3,1058.5 619.9,1060.5 C619.5,1062.5 615.6,1063.2 612.9,1065.2 C610.2,1067.2 606.2,1069.5 603.5,1072.2 C600.8,1074.9 598.2,1078.1 596.4,1081.6 C594.6,1085.1 593.3,1090.5 592.9,1093.4 C592.5,1096.4 592.3,1097.9 594.1,1099.3 C595.9,1100.7 599.6,1101.2 603.5,1101.6 C607.4,1102.0 613.3,1102.0 617.6,1101.6 C621.9,1101.2 626.6,1100.7 629.3,1099.3 C632.0,1097.9 632.4,1095.0 634.0,1093.4 C635.6,1091.8 636.7,1090.5 638.7,1089.9 C640.7,1089.3 643.4,1089.1 645.8,1089.9 C648.2,1090.7 650.1,1093.2 652.9,1094.6 C655.6,1096.0 658.0,1097.7 662.3,1098.1 C666.6,1098.5 672.8,1097.9 678.7,1096.9 C684.6,1095.9 692.0,1093.2 697.5,1092.2 C703.0,1091.2 708.9,1090.4 711.6,1091.0 C714.4,1091.6 714.4,1093.7 714.0,1095.7 C713.6,1097.7 711.3,1101.0 709.3,1102.8 C707.3,1104.6 705.7,1105.5 702.2,1106.3 C698.7,1107.1 693.6,1107.5 688.1,1107.5 C682.6,1107.5 674.0,1106.7 669.3,1106.3 C664.6,1105.9 663.0,1105.0 659.9,1105.2 C656.8,1105.4 653.2,1106.3 650.5,1107.5 C647.8,1108.7 645.8,1110.2 643.4,1112.2 C641.0,1114.2 638.3,1116.5 636.4,1119.3 C634.5,1122.0 634.1,1126.0 631.7,1128.7 C629.4,1131.4 625.0,1133.4 622.3,1135.7 C619.5,1138.0 616.8,1140.0 615.2,1142.8 C613.6,1145.5 613.7,1149.1 612.9,1152.2 C612.1,1155.3 611.7,1158.6 610.5,1161.6 C609.3,1164.6 607.0,1167.3 605.8,1170.1 C604.6,1172.8 623.5,1176.8 603.5,1178.1 C583.5,1179.4 505.5,1184.4 485.9,1178.1 C466.3,1171.8 485.1,1147.0 485.9,1140.4 C486.7,1133.9 488.9,1140.0 490.6,1138.8 C492.3,1137.6 493.9,1134.3 496.2,1133.1 C498.5,1131.9 502.1,1131.2 504.7,1131.7 C507.3,1132.2 509.5,1134.3 511.8,1136.0 C514.1,1137.7 516.2,1140.5 518.8,1141.6 C521.4,1142.6 524.9,1142.8 527.3,1142.3 C529.6,1141.8 531.0,1139.8 532.9,1138.8 C534.8,1137.8 536.2,1138.1 538.6,1136.0 C541.0,1133.9 544.0,1129.9 547.0,1126.3 C550.0,1122.7 554.6,1117.9 556.4,1114.6 C558.2,1111.3 558.0,1108.8 557.6,1106.3 C557.2,1103.8 555.0,1101.9 554.1,1099.3 C553.2,1096.7 552.0,1093.8 552.0,1090.8 C552.0,1087.8 552.6,1084.7 554.1,1081.6 C555.6,1078.5 558.6,1075.3 561.1,1072.2 C563.6,1069.1 567.8,1066.1 569.4,1062.8 C571.0,1059.5 568.7,1054.9 570.5,1052.2Z"/>
<path fill="#3dba3d" d="M443.3,1112.0 C443.8,1110.2 446.2,1108.2 448.2,1106.3 C450.2,1104.4 452.9,1103.0 455.3,1100.7 C457.7,1098.4 460.4,1095.3 462.3,1092.2 C464.2,1089.1 465.4,1085.1 466.6,1082.3 C467.8,1079.5 467.8,1077.3 469.4,1075.3 C471.0,1073.3 474.0,1071.6 476.4,1070.3 C478.8,1069.0 481.3,1067.8 483.5,1067.5 C485.7,1067.2 488.6,1067.1 489.8,1068.2 C491.0,1069.3 491.1,1071.9 490.5,1073.9 C489.9,1075.9 486.8,1078.3 486.3,1080.2 C485.8,1082.1 486.3,1084.0 487.7,1085.1 C489.1,1086.2 492.7,1086.8 494.8,1086.6 C496.9,1086.4 498.8,1085.3 500.4,1083.7 C502.0,1082.1 502.8,1078.7 504.7,1076.7 C506.6,1074.7 509.4,1072.9 511.7,1071.7 C514.0,1070.5 516.7,1069.5 518.8,1069.6 C520.9,1069.7 522.8,1071.1 524.4,1072.5 C526.0,1073.9 528.0,1076.0 528.6,1078.1 C529.2,1080.2 527.2,1082.9 527.9,1085.1 C528.6,1087.3 532.5,1089.6 532.9,1091.5 C533.3,1093.4 532.0,1095.1 530.1,1096.4 C528.2,1097.7 524.4,1098.2 521.6,1099.3 C518.8,1100.4 515.9,1101.6 513.1,1102.8 C510.3,1104.0 507.1,1105.1 504.7,1106.3 C502.3,1107.5 500.4,1108.6 499.0,1109.8 C497.6,1111.0 497.1,1111.6 496.2,1113.4 C495.3,1115.2 496.7,1118.3 493.4,1120.4 C490.1,1122.5 481.6,1125.4 476.4,1126.1 C471.2,1126.8 466.3,1125.4 462.3,1124.7 C458.3,1124.0 455.3,1123.1 452.5,1121.8 C449.7,1120.5 446.9,1118.5 445.4,1116.9 C443.9,1115.3 442.8,1113.8 443.3,1112.0Z"/>
<path fill="#ffffff" d="M913.9,1048.7 C911.6,1048.9 904.3,1050.0 900.0,1049.9 C895.7,1049.8 892.0,1048.4 888.0,1048.2 C884.0,1048.0 879.7,1047.5 876.2,1049.0 C872.7,1050.5 870.3,1054.8 866.8,1056.9 C863.3,1059.0 859.4,1059.2 855.1,1061.4 C850.8,1063.6 844.5,1066.7 841.0,1070.1 C837.5,1073.5 835.9,1077.7 833.9,1081.6 C831.9,1085.5 831.3,1088.0 829.2,1093.4 C827.1,1098.9 824.2,1109.4 821.5,1114.3 C818.8,1119.2 814.8,1120.2 812.8,1122.8 C810.8,1125.4 808.8,1126.9 809.2,1129.8 C809.6,1132.7 813.7,1136.5 815.1,1140.4 C816.5,1144.3 818.1,1149.2 817.9,1153.1 C817.7,1157.0 814.8,1159.7 813.9,1163.9 C813.0,1168.1 813.0,1175.7 812.8,1178.1 L913.9,1178.1Z"/>
<path fill="#a6f28f" d="M862.1,1140.7 C862.1,1143.8 861.1,1147.6 859.6,1150.1 C858.1,1152.6 855.4,1154.9 852.9,1155.9 C850.4,1156.9 847.1,1156.9 844.6,1155.9 C842.1,1154.9 839.5,1152.6 837.9,1150.1 C836.3,1147.6 835.3,1143.8 835.3,1140.7 C835.3,1137.6 836.3,1133.8 837.9,1131.3 C839.5,1128.8 842.1,1126.5 844.6,1125.5 C847.1,1124.5 850.4,1124.5 852.9,1125.5 C855.4,1126.5 858.1,1128.8 859.6,1131.3 C861.1,1133.8 862.1,1137.6 862.1,1140.7Z"/>
<path fill="#ffffff" d="M772.8,1105.2 C773.4,1102.9 775.4,1098.7 777.5,1096.9 C779.6,1095.1 783.0,1094.6 785.7,1094.6 C788.4,1094.6 791.9,1095.7 793.9,1096.9 C795.9,1098.1 797.5,1099.4 797.5,1101.6 C797.5,1103.8 795.7,1107.7 793.9,1109.9 C792.1,1112.1 789.4,1113.6 786.9,1114.6 C784.4,1115.6 780.9,1116.3 778.7,1115.7 C776.6,1115.1 775.0,1112.8 774.0,1111.0 C773.0,1109.2 772.2,1107.5 772.8,1105.2Z"/>
<path fill="#61b8ff" d="M584.4,1162.3 C584.4,1163.1 584.2,1164.1 583.8,1164.8 C583.4,1165.5 582.7,1166.0 582.1,1166.3 C581.5,1166.5 580.7,1166.5 580.1,1166.3 C579.5,1166.0 578.9,1165.5 578.5,1164.8 C578.1,1164.1 577.8,1163.1 577.8,1162.3 C577.8,1161.5 578.1,1160.5 578.5,1159.8 C578.9,1159.1 579.5,1158.5 580.1,1158.3 C580.7,1158.0 581.5,1158.0 582.1,1158.3 C582.7,1158.5 583.4,1159.1 583.8,1159.8 C584.2,1160.5 584.4,1161.5 584.4,1162.3Z"/>
<path fill="#a6f28f" d="M878.7,1173.5 C880.0,1171.2 883.0,1168.8 885.8,1166.5 C888.5,1164.2 892.5,1161.8 895.2,1159.4 C897.9,1157.1 899.9,1154.0 902.2,1152.4 C904.6,1150.8 906.9,1149.8 909.3,1150.0 C911.6,1150.2 914.1,1151.5 916.3,1153.5 C918.4,1155.5 920.6,1158.8 922.2,1161.8 C923.9,1164.8 926.0,1167.7 926.2,1171.2 C926.4,1174.7 925.0,1179.8 923.4,1182.9 C921.8,1186.0 919.0,1187.7 916.3,1190.0 C913.5,1192.3 909.6,1195.2 906.9,1197.0 C904.2,1198.8 902.6,1200.8 899.9,1200.6 C897.2,1200.4 893.5,1198.1 890.5,1195.9 C887.5,1193.7 884.2,1190.1 882.2,1187.6 C880.2,1185.0 878.8,1182.9 878.2,1180.6 C877.6,1178.2 877.4,1175.8 878.7,1173.5Z"/>
</g>
<clipPath id="t11"><rect x="900" y="870" width="400" height="300"/></clipPath>
<g clip-path="url(#t11)">
<rect x="900" y="870" width="400" height="300" fill="#a6f28f"/>
<path fill="#3dba3d" d="M890.6,938.7 C892.2,938.6 896.1,938.7 900.0,938.2 C903.9,937.7 910.2,936.6 914.1,935.8 C918.0,935.0 920.0,934.2 923.5,933.5 C927.0,932.8 931.4,931.7 935.3,931.6 C939.2,931.5 942.7,932.3 947.0,933.0 C951.3,933.7 957.2,934.5 961.1,935.8 C965.0,937.0 967.4,938.9 970.5,940.5 C973.6,942.1 976.1,943.4 980.0,945.2 C983.9,947.0 989.8,949.5 994.1,951.1 C998.4,952.7 1001.1,953.7 1005.8,954.7 C1010.5,955.7 1016.4,956.6 1022.3,957.0 C1028.2,957.4 1035.6,957.0 1041.1,957.0 C1046.6,957.0 1051.7,956.2 1055.2,957.0 C1058.7,957.8 1060.3,959.9 1062.3,961.7 C1064.3,963.5 1064.8,965.8 1067.0,967.6 C1069.2,969.4 1072.1,972.1 1075.2,972.3 C1078.3,972.5 1082.1,970.0 1085.8,968.8 C1089.5,967.6 1093.6,966.4 1097.5,965.2 C1101.4,964.0 1105.8,963.5 1109.3,961.7 C1112.8,960.0 1115.6,957.1 1118.7,954.7 C1121.8,952.4 1124.6,949.4 1128.1,947.6 C1131.6,945.8 1135.6,944.9 1139.9,944.1 C1144.2,943.3 1149.3,942.7 1154.0,942.9 C1158.7,943.1 1163.8,944.4 1168.1,945.2 C1172.4,946.0 1176.3,946.8 1179.8,947.6 C1183.3,948.4 1187.6,949.6 1189.2,950.0 L1313.9,950.0 L1313.9,862.9 L890.6,862.9Z"/>
<path fill="#a6f28f" d="M1121.0,898.2 C1121.8,896.4 1124.9,894.2 1128.1,892.3 C1131.2,890.3 1136.4,888.6 1139.9,886.5 C1143.4,884.4 1145.8,881.0 1149.3,879.4 C1152.8,877.8 1157.1,876.8 1161.0,876.6 C1164.9,876.4 1170.0,877.0 1172.8,878.2 C1175.5,879.5 1175.2,882.5 1177.5,884.1 C1179.8,885.7 1183.8,887.2 1186.9,887.6 C1190.0,888.0 1193.5,886.1 1196.3,886.5 C1199.0,886.9 1203.8,888.4 1203.4,890.0 C1203.0,891.6 1197.1,894.1 1193.9,895.9 C1190.8,897.7 1188.4,900.0 1184.5,900.6 C1180.6,901.2 1174.7,899.4 1170.4,899.4 C1166.1,899.4 1162.6,900.0 1158.7,900.6 C1154.8,901.2 1151.2,902.1 1146.9,902.9 C1142.6,903.7 1136.7,905.3 1132.8,905.3 C1128.9,905.3 1125.4,904.1 1123.4,902.9 C1121.4,901.7 1120.2,900.0 1121.0,898.2Z"/>
<path fill="#a6f28f" d="M1097.5,945.7 C1097.5,946.4 1096.8,947.3 1095.8,947.9 C1094.8,948.5 1093.1,949.1 1091.4,949.3 C1089.7,949.5 1087.5,949.5 1085.8,949.3 C1084.1,949.1 1082.4,948.5 1081.4,947.9 C1080.4,947.3 1079.7,946.4 1079.7,945.7 C1079.7,945.0 1080.4,944.1 1081.4,943.5 C1082.4,942.9 1084.1,942.3 1085.8,942.1 C1087.5,941.9 1089.7,941.9 1091.4,942.1 C1093.1,942.3 1094.8,942.9 1095.8,943.5 C1096.8,944.1 1097.5,945.0 1097.5,945.7Z"/>
<path fill="#61b8ff" d="M890.6,928.8 C892.2,928.6 896.5,928.2 900.0,927.6 C903.5,927.0 907.9,926.5 911.8,925.3 C915.7,924.1 919.6,922.0 923.5,920.6 C927.4,919.2 931.4,918.0 935.3,917.0 C939.2,916.0 942.7,915.9 947.0,914.7 C951.3,913.5 956.0,911.6 961.1,910.0 C966.2,908.4 972.1,906.7 977.6,905.3 C983.1,903.9 989.4,903.3 994.1,901.7 C998.8,900.1 1001.9,897.5 1005.8,895.9 C1009.7,894.3 1013.7,892.9 1017.6,892.3 C1021.5,891.7 1025.4,892.5 1029.3,892.3 C1033.2,892.1 1036.8,892.0 1041.1,891.2 C1045.4,890.4 1051.3,889.0 1055.2,887.6 C1059.1,886.2 1061.5,884.6 1064.6,882.9 C1067.7,881.1 1070.9,878.9 1074.0,877.1 C1077.1,875.4 1080.3,873.6 1083.4,872.4 C1086.5,871.2 1090.0,871.2 1092.8,870.0 C1095.5,868.8 1098.7,866.1 1099.9,865.3 L1099.9,862.9 L890.6,862.9Z"/>
<path fill="#0000ff" d="M890.6,905.3 C892.2,905.5 895.3,906.4 900.0,906.4 C904.7,906.4 911.0,905.9 918.8,905.3 C926.6,904.7 938.4,904.1 947.0,902.9 C955.6,901.7 963.4,900.4 970.5,898.2 C977.6,896.1 984.3,892.4 989.4,890.0 C994.5,887.6 997.8,886.2 1001.1,884.1 C1004.4,882.0 1007.7,879.5 1009.3,877.1 C1010.9,874.8 1010.3,872.4 1010.5,870.0 C1010.7,867.6 1010.5,864.1 1010.5,862.9 L890.6,862.9Z"/>
<path fill="#61b8ff" d="M1191.4,919.4 C1191.4,919.8 1191.1,920.3 1190.7,920.6 C1190.3,920.9 1189.7,921.3 1189.1,921.4 C1188.5,921.5 1187.6,921.5 1187.0,921.4 C1186.4,921.3 1185.8,920.9 1185.4,920.6 C1185.0,920.3 1184.8,919.8 1184.8,919.4 C1184.8,919.0 1185.0,918.4 1185.4,918.1 C1185.8,917.8 1186.4,917.5 1187.0,917.4 C1187.6,917.3 1188.5,917.3 1189.1,917.4 C1189.7,917.5 1190.3,917.8 1190.7,918.1 C1191.1,918.4 1191.4,919.0 1191.4,919.4Z"/>
<path fill="#ffffff" d="M890.6,1048.7 C892.2,1049.1 897.2,1049.7 900.0,1051.1 C902.8,1052.5 905.1,1054.6 907.1,1056.9 C909.1,1059.2 911.4,1062.2 911.8,1065.2 C912.2,1068.2 909.0,1071.9 909.4,1074.6 C909.8,1077.3 911.4,1080.2 914.1,1081.6 C916.9,1083.0 922.0,1083.2 925.9,1082.8 C929.8,1082.4 934.5,1081.8 937.6,1079.3 C940.7,1076.8 942.4,1071.4 944.7,1067.5 C947.1,1063.6 949.4,1059.3 951.7,1055.8 C954.1,1052.3 957.0,1049.5 958.8,1046.4 C960.6,1043.3 962.3,1040.1 962.3,1037.0 C962.3,1033.9 960.4,1029.9 958.8,1027.6 C957.2,1025.2 954.0,1024.7 952.9,1022.9 C951.8,1021.1 951.4,1018.8 952.2,1017.0 C953.0,1015.2 956.1,1011.7 957.6,1012.3 C959.1,1012.9 960.1,1017.6 961.1,1020.5 C962.1,1023.4 961.9,1027.6 963.5,1029.9 C965.1,1032.2 967.8,1033.4 970.5,1034.6 C973.2,1035.8 976.9,1037.0 980.0,1037.0 C983.1,1037.0 986.3,1034.4 989.4,1034.6 C992.5,1034.8 995.3,1036.5 998.8,1038.1 C1002.3,1039.7 1006.6,1041.5 1010.5,1044.0 C1014.4,1046.5 1018.8,1050.5 1022.3,1053.4 C1025.8,1056.4 1028.6,1059.7 1031.7,1061.7 C1034.8,1063.7 1038.0,1065.0 1041.1,1065.2 C1044.2,1065.4 1047.4,1064.4 1050.5,1062.8 C1053.6,1061.2 1056.8,1058.1 1059.9,1055.8 C1063.0,1053.5 1066.2,1050.7 1069.3,1048.7 C1072.4,1046.7 1075.8,1045.8 1078.7,1044.0 C1081.6,1042.2 1084.6,1038.7 1086.9,1038.1 C1089.2,1037.5 1090.6,1038.3 1092.8,1040.5 C1095.0,1042.7 1097.6,1048.2 1099.9,1051.1 C1102.2,1054.0 1104.6,1055.4 1106.9,1058.1 C1109.2,1060.8 1111.7,1065.2 1114.0,1067.5 C1116.3,1069.8 1118.2,1071.8 1121.0,1072.2 C1123.8,1072.6 1126.6,1070.7 1130.5,1069.9 C1134.4,1069.1 1142.2,1067.9 1144.6,1067.5 L1144.6,1178.1 L890.6,1178.1Z"/>
<path fill="#a6f28f" d="M998.8,1079.3 C999.2,1077.0 1001.1,1074.0 1003.5,1072.2 C1005.9,1070.4 1009.8,1068.9 1012.9,1068.7 C1016.0,1068.5 1019.9,1069.7 1022.3,1071.1 C1024.6,1072.5 1026.6,1074.8 1027.0,1076.9 C1027.4,1079.1 1025.8,1081.7 1024.6,1084.0 C1023.4,1086.3 1022.6,1089.8 1019.9,1091.0 C1017.2,1092.2 1011.3,1091.8 1008.2,1091.0 C1005.1,1090.2 1002.7,1088.2 1001.1,1086.3 C999.5,1084.3 998.4,1081.6 998.8,1079.3Z"/>
<path fill="#a6f28f" d="M940.0,1105.2 C941.0,1101.9 943.5,1098.7 947.0,1096.9 C950.5,1095.1 957.2,1094.8 961.1,1094.6 C965.0,1094.4 968.1,1094.3 970.5,1095.7 C972.9,1097.1 973.6,1100.2 975.2,1102.8 C976.8,1105.3 980.0,1108.2 980.0,1111.0 C980.0,1113.8 977.2,1117.0 975.2,1119.3 C973.2,1121.6 970.6,1123.5 968.2,1125.1 C965.9,1126.7 964.6,1128.1 961.1,1128.7 C957.6,1129.3 950.3,1130.7 947.0,1128.7 C943.7,1126.7 942.4,1120.8 941.2,1116.9 C940.0,1113.0 939.0,1108.5 940.0,1105.2Z"/>
<path fill="#a6f28f" d="M1023.7,1151.5 C1023.7,1152.8 1023.5,1154.4 1023.1,1155.4 C1022.7,1156.4 1022.0,1157.3 1021.4,1157.7 C1020.8,1158.1 1020.0,1158.1 1019.4,1157.7 C1018.8,1157.3 1018.1,1156.4 1017.7,1155.4 C1017.3,1154.4 1017.1,1152.8 1017.1,1151.5 C1017.1,1150.2 1017.3,1148.6 1017.7,1147.6 C1018.1,1146.5 1018.8,1145.6 1019.4,1145.2 C1020.0,1144.8 1020.8,1144.8 1021.4,1145.2 C1022.0,1145.6 1022.7,1146.5 1023.1,1147.6 C1023.5,1148.6 1023.7,1150.2 1023.7,1151.5Z"/>
<path fill="#a6f28f" d="M1107.4,1085.2 C1107.4,1085.7 1107.0,1086.1 1106.4,1086.5 C1105.8,1086.9 1104.8,1087.2 1103.8,1087.4 C1102.8,1087.6 1101.6,1087.6 1100.6,1087.4 C1099.6,1087.2 1098.6,1086.9 1098.0,1086.5 C1097.4,1086.1 1097.1,1085.7 1097.1,1085.2 C1097.1,1084.8 1097.4,1084.2 1098.0,1083.8 C1098.6,1083.4 1099.6,1083.1 1100.6,1082.9 C1101.6,1082.8 1102.8,1082.8 1103.8,1082.9 C1104.8,1083.1 1105.8,1083.4 1106.4,1083.8 C1107.0,1084.2 1107.4,1084.8 1107.4,1085.2Z"/>
<path fill="#ffffff" d="M1130.9,1035.1 C1130.9,1035.6 1130.7,1036.2 1130.3,1036.7 C1129.9,1037.2 1129.2,1037.6 1128.6,1037.8 C1128.0,1038.0 1127.2,1038.0 1126.6,1037.8 C1126.0,1037.6 1125.4,1037.2 1125.0,1036.7 C1124.6,1036.2 1124.3,1035.6 1124.3,1035.1 C1124.3,1034.5 1124.6,1033.9 1125.0,1033.4 C1125.4,1033.0 1126.0,1032.6 1126.6,1032.4 C1127.2,1032.2 1128.0,1032.2 1128.6,1032.4 C1129.2,1032.6 1129.9,1033.0 1130.3,1033.4 C1130.7,1033.9 1130.9,1034.5 1130.9,1035.1Z"/>
<path fill="#a6f28f" d="M878.7,1173.5 C880.0,1171.2 883.0,1168.8 885.8,1166.5 C888.5,1164.2 892.5,1161.8 895.2,1159.4 C897.9,1157.1 899.9,1154.0 902.2,1152.4 C904.6,1150.8 906.9,1149.8 909.3,1150.0 C911.6,1150.2 914.1,1151.5 916.3,1153.5 C918.4,1155.5 920.6,1158.8 922.2,1161.8 C923.9,1164.8 926.0,1167.7 926.2,1171.2 C926.4,1174.7 925.0,1179.8 923.4,1182.9 C921.8,1186.0 919.0,1187.7 916.3,1190.0 C913.5,1192.3 909.6,1195.2 906.9,1197.0 C904.2,1198.8 902.6,1200.8 899.9,1200.6 C897.2,1200.4 893.5,1198.1 890.5,1195.9 C887.5,1193.7 884.2,1190.1 882.2,1187.6 C880.2,1185.0 878.8,1182.9 878.2,1180.6 C877.6,1178.2 877.4,1175.8 878.7,1173.5Z"/>
</g>
<clipPath id="t12"><rect x="100" y="1170" width="600" height="165"/></clipPath>
<g clip-path="url(#t12)">
<rect x="100" y="1170" width="600" height="165" fill="#a6f28f"/>
<path fill="#3dba3d" d="M394.1,1142.9 C393.7,1144.1 392.3,1147.6 391.7,1150.0 C391.1,1152.4 391.7,1154.8 390.5,1157.1 C389.3,1159.4 387.2,1161.9 384.7,1164.1 C382.1,1166.2 378.3,1168.0 375.2,1170.0 C372.1,1172.0 368.1,1173.4 365.8,1175.9 C363.5,1178.5 362.4,1182.0 361.6,1185.3 C360.8,1188.6 360.6,1192.6 361.1,1195.9 C361.6,1199.2 363.5,1202.4 364.7,1205.3 C365.9,1208.2 367.6,1212.1 368.2,1213.5 L311.8,1213.5 L311.8,1142.9Z"/>
<path fill="#3dba3d" d="M397.6,1198.2 C391.3,1196.6 400.9,1190.9 403.5,1187.6 C406.1,1184.3 409.8,1181.1 412.9,1178.2 C416.0,1175.3 419.2,1172.2 422.3,1170.0 C425.4,1167.8 428.6,1166.3 431.7,1165.3 C434.8,1164.3 437.6,1164.5 441.1,1164.1 C444.6,1163.7 449.8,1161.3 452.9,1162.9 C456.0,1164.5 461.9,1167.8 459.9,1173.5 C457.9,1179.2 451.5,1192.9 441.1,1197.0 C430.7,1201.1 403.9,1199.8 397.6,1198.2Z"/>
<path fill="#3dba3d" d="M525.7,1173.5 C526.7,1173.9 529.6,1174.9 531.6,1175.9 C533.6,1176.9 535.3,1178.6 537.5,1179.4 C539.7,1180.2 541.9,1180.9 544.6,1180.6 C547.4,1180.3 551.3,1178.4 554.0,1177.7 C556.7,1177.0 558.9,1175.6 561.0,1176.3 C563.1,1177.0 564.9,1180.0 566.9,1181.7 C568.9,1183.4 570.2,1185.4 572.8,1186.4 C575.3,1187.4 579.1,1188.0 582.2,1187.6 C585.3,1187.2 588.9,1185.7 591.6,1184.1 C594.3,1182.5 597.2,1180.3 598.6,1178.2 C600.0,1176.1 598.6,1173.2 599.8,1171.2 C601.0,1169.2 603.5,1168.1 605.7,1166.5 C607.9,1164.9 611.4,1163.8 612.8,1161.8 C614.2,1159.8 613.7,1157.8 613.9,1154.7 C614.1,1151.6 613.9,1144.9 613.9,1142.9 L488.1,1142.9 L488.1,1173.5Z"/>
<path fill="#3dba3d" d="M443.3,1112.0 C443.8,1110.2 446.2,1108.2 448.2,1106.3 C450.2,1104.4 452.9,1103.0 455.3,1100.7 C457.7,1098.4 460.4,1095.3 462.3,1092.2 C464.2,1089.1 465.4,1085.1 466.6,1082.3 C467.8,1079.5 467.8,1077.3 469.4,1075.3 C471.0,1073.3 474.0,1071.6 476.4,1070.3 C478.8,1069.0 481.3,1067.8 483.5,1067.5 C485.7,1067.2 488.6,1067.1 489.8,1068.2 C491.0,1069.3 491.1,1071.9 490.5,1073.9 C489.9,1075.9 486.8,1078.3 486.3,1080.2 C485.8,1082.1 486.3,1084.0 487.7,1085.1 C489.1,1086.2 492.7,1086.8 494.8,1086.6 C496.9,1086.4 498.8,1085.3 500.4,1083.7 C502.0,1082.1 502.8,1078.7 504.7,1076.7 C506.6,1074.7 509.4,1072.9 511.7,1071.7 C514.0,1070.5 516.7,1069.5 518.8,1069.6 C520.9,1069.7 522.8,1071.1 524.4,1072.5 C526.0,1073.9 528.0,1076.0 528.6,1078.1 C529.2,1080.2 527.2,1082.9 527.9,1085.1 C528.6,1087.3 532.5,1089.6 532.9,1091.5 C533.3,1093.4 532.0,1095.1 530.1,1096.4 C528.2,1097.7 524.4,1098.2 521.6,1099.3 C518.8,1100.4 515.9,1101.6 513.1,1102.8 C510.3,1104.0 507.1,1105.1 504.7,1106.3 C502.3,1107.5 500.4,1108.6 499.0,1109.8 C497.6,1111.0 497.1,1111.6 496.2,1113.4 C495.3,1115.2 496.7,1118.3 493.4,1120.4 C490.1,1122.5 481.6,1125.4 476.4,1126.1 C471.2,1126.8 466.3,1125.4 462.3,1124.7 C458.3,1124.0 455.3,1123.1 452.5,1121.8 C449.7,1120.5 446.9,1118.5 445.4,1116.9 C443.9,1115.3 442.8,1113.8 443.3,1112.0Z"/>
<path fill="#61b8ff" d="M584.1,1162.2 C584.1,1163.0 583.9,1164.0 583.5,1164.7 C583.1,1165.4 582.6,1166.0 582.0,1166.3 C581.4,1166.6 580.7,1166.6 580.1,1166.3 C579.5,1166.0 578.9,1165.4 578.5,1164.7 C578.1,1164.0 578.0,1163.0 578.0,1162.2 C578.0,1161.4 578.1,1160.4 578.5,1159.7 C578.9,1159.0 579.5,1158.5 580.1,1158.2 C580.7,1158.0 581.4,1158.0 582.0,1158.2 C582.6,1158.5 583.1,1159.0 583.5,1159.7 C583.9,1160.4 584.1,1161.4 584.1,1162.2Z"/>
<path fill="#3dba3d" d="M636.3,1179.4 C636.9,1177.1 638.9,1173.9 641.0,1172.3 C643.1,1170.7 647.4,1169.8 649.2,1170.0 C651.0,1170.2 651.9,1171.3 652.0,1173.5 C652.1,1175.7 650.6,1180.0 649.9,1182.9 C649.2,1185.9 649.3,1189.6 648.0,1191.2 C646.7,1192.8 644.0,1193.1 642.2,1192.3 C640.4,1191.5 638.4,1188.6 637.4,1186.4 C636.4,1184.2 635.7,1181.8 636.3,1179.4Z"/>
<path fill="#3dba3d" d="M677.0,1201.7 C677.0,1202.6 676.7,1203.8 676.3,1204.5 C675.9,1205.2 675.3,1205.9 674.7,1206.2 C674.1,1206.5 673.2,1206.5 672.6,1206.2 C672.0,1205.9 671.4,1205.2 671.0,1204.5 C670.6,1203.8 670.4,1202.6 670.4,1201.7 C670.4,1200.8 670.6,1199.7 671.0,1199.0 C671.4,1198.3 672.0,1197.6 672.6,1197.3 C673.2,1197.0 674.1,1197.0 674.7,1197.3 C675.3,1197.6 675.9,1198.3 676.3,1199.0 C676.7,1199.7 677.0,1200.8 677.0,1201.7Z"/>
<path fill="#ffffff" d="M474.0,1249.9 C474.8,1246.8 479.9,1243.5 483.4,1239.4 C486.9,1235.3 491.7,1228.9 495.2,1225.2 C498.7,1221.5 501.7,1218.9 504.6,1217.0 C507.5,1215.1 509.7,1213.8 512.8,1214.0 C515.9,1214.2 520.1,1217.1 523.4,1218.2 C526.7,1219.3 530.4,1218.5 532.8,1220.5 C535.1,1222.5 535.9,1226.8 537.5,1230.0 C539.1,1233.2 540.6,1236.9 542.2,1239.4 C543.8,1241.9 548.1,1242.5 546.9,1245.2 C545.7,1247.9 541.1,1252.8 535.2,1255.8 C529.3,1258.8 521.0,1262.5 511.6,1262.9 C502.2,1263.3 485.0,1260.4 478.7,1258.2 C472.4,1256.0 473.2,1253.0 474.0,1249.9Z"/>
<path fill="#ffffff" d="M676.2,1238.2 C677.8,1237.2 682.6,1233.9 685.7,1232.3 C688.9,1230.7 692.7,1229.6 695.1,1228.8 C697.5,1228.0 696.9,1228.2 700.0,1227.6 C703.1,1227.0 711.6,1225.6 713.9,1225.2 L713.9,1267.6 L676.2,1267.6Z"/>
</g>
<clipPath id="t13"><rect x="700" y="1170" width="600" height="165"/></clipPath>
<g clip-path="url(#t13)">
<rect x="700" y="1170" width="600" height="165" fill="#ffffff"/>
<path fill="#a6f28f" d="M690.6,1227.6 C692.2,1241.3 697.6,1225.8 700.0,1225.2 C702.4,1224.6 702.7,1225.3 704.7,1224.1 C706.7,1222.9 710.0,1220.8 711.8,1218.2 C713.6,1215.7 714.3,1212.3 715.3,1208.8 C716.3,1205.3 716.2,1199.8 717.6,1197.0 C719.0,1194.2 720.5,1193.3 723.5,1192.3 C726.5,1191.3 731.4,1191.8 735.3,1191.2 C739.2,1190.6 744.5,1188.2 747.0,1188.8 C749.5,1189.4 749.4,1192.2 750.6,1194.7 C751.8,1197.2 752.7,1201.2 754.1,1204.1 C755.5,1207.0 756.1,1210.6 758.8,1212.3 C761.5,1214.0 765.4,1213.8 770.5,1214.0 C775.6,1214.2 783.5,1213.4 789.4,1213.5 C795.3,1213.6 801.1,1214.9 805.8,1214.7 C810.5,1214.5 814.9,1213.9 817.6,1212.3 C820.4,1210.7 822.3,1207.8 822.3,1205.3 C822.3,1202.8 820.0,1199.2 817.6,1197.0 C815.2,1194.8 809.4,1195.0 808.2,1192.3 C807.0,1189.6 809.3,1184.5 810.5,1180.6 C811.7,1176.7 813.8,1172.3 815.2,1168.8 C816.6,1165.3 818.0,1162.5 818.8,1159.4 C819.6,1156.3 819.6,1152.8 819.9,1150.0 C820.2,1147.2 841.9,1144.1 820.4,1142.9 C798.9,1141.7 712.2,1128.8 690.6,1142.9 C669.0,1157.0 689.0,1213.9 690.6,1227.6Z"/>
<path fill="#a6f28f" d="M862.3,1150.0 C862.3,1151.4 861.4,1153.0 860.0,1154.1 C858.6,1155.2 856.3,1156.3 854.1,1156.7 C851.9,1157.1 849.1,1157.1 846.9,1156.7 C844.7,1156.3 842.4,1155.2 841.0,1154.1 C839.6,1153.0 838.7,1151.4 838.7,1150.0 C838.7,1148.6 839.6,1147.0 841.0,1145.9 C842.4,1144.8 844.7,1143.7 846.9,1143.3 C849.1,1142.9 851.9,1142.9 854.1,1143.3 C856.3,1143.7 858.6,1144.8 860.0,1145.9 C861.4,1147.0 862.3,1148.6 862.3,1150.0Z"/>
<path fill="#a6f28f" d="M878.7,1173.5 C880.0,1171.2 883.0,1168.8 885.8,1166.5 C888.5,1164.2 892.5,1161.8 895.2,1159.4 C897.9,1157.1 899.9,1154.0 902.2,1152.4 C904.6,1150.8 906.9,1149.8 909.3,1150.0 C911.6,1150.2 914.1,1151.5 916.3,1153.5 C918.4,1155.5 920.6,1158.8 922.2,1161.8 C923.9,1164.8 926.0,1167.7 926.2,1171.2 C926.4,1174.7 925.0,1179.8 923.4,1182.9 C921.8,1186.0 919.0,1187.7 916.3,1190.0 C913.5,1192.3 909.6,1195.2 906.9,1197.0 C904.2,1198.8 902.6,1200.8 899.9,1200.6 C897.2,1200.4 893.5,1198.1 890.5,1195.9 C887.5,1193.7 884.2,1190.1 882.2,1187.6 C880.2,1185.0 878.8,1182.9 878.2,1180.6 C877.6,1178.2 877.4,1175.8 878.7,1173.5Z"/>
<path fill="#a6f28f" d="M991.4,1186.9 C991.4,1188.8 990.6,1191.1 989.5,1192.7 C988.4,1194.3 986.4,1195.7 984.5,1196.3 C982.6,1196.9 980.2,1196.9 978.4,1196.3 C976.6,1195.7 974.6,1194.3 973.5,1192.7 C972.4,1191.1 971.6,1188.8 971.6,1186.9 C971.6,1185.0 972.4,1182.7 973.5,1181.1 C974.6,1179.5 976.6,1178.1 978.4,1177.5 C980.2,1176.9 982.6,1176.9 984.5,1177.5 C986.4,1178.1 988.4,1179.5 989.5,1181.1 C990.6,1182.7 991.4,1185.0 991.4,1186.9Z"/>
<path fill="#a6f28f" d="M847.2,1259.3 C847.2,1260.9 846.8,1262.9 846.0,1264.2 C845.2,1265.5 843.9,1266.7 842.7,1267.2 C841.5,1267.7 839.8,1267.7 838.6,1267.2 C837.4,1266.7 836.1,1265.5 835.3,1264.2 C834.5,1262.9 834.0,1260.9 834.0,1259.3 C834.0,1257.7 834.5,1255.8 835.3,1254.5 C836.1,1253.2 837.4,1252.0 838.6,1251.5 C839.8,1251.0 841.5,1251.0 842.7,1251.5 C843.9,1252.0 845.2,1253.2 846.0,1254.5 C846.8,1255.8 847.2,1257.7 847.2,1259.3Z"/>
<path fill="#a6f28f" d="M1023.8,1152.4 C1023.8,1153.3 1023.5,1154.4 1023.1,1155.1 C1022.7,1155.8 1022.0,1156.5 1021.4,1156.8 C1020.8,1157.1 1019.9,1157.1 1019.2,1156.8 C1018.5,1156.5 1017.8,1155.8 1017.4,1155.1 C1017.0,1154.4 1016.8,1153.3 1016.8,1152.4 C1016.8,1151.5 1017.0,1150.3 1017.4,1149.6 C1017.8,1148.8 1018.5,1148.2 1019.2,1147.9 C1019.9,1147.6 1020.8,1147.6 1021.4,1147.9 C1022.0,1148.2 1022.7,1148.8 1023.1,1149.6 C1023.5,1150.3 1023.8,1151.5 1023.8,1152.4Z"/>
<path fill="#a6f28f" d="M940.0,1105.2 C941.0,1101.9 943.5,1098.7 947.0,1096.9 C950.5,1095.1 957.2,1094.8 961.1,1094.6 C965.0,1094.4 968.1,1094.3 970.5,1095.7 C972.9,1097.1 973.6,1100.2 975.2,1102.8 C976.8,1105.3 980.0,1108.2 980.0,1111.0 C980.0,1113.8 977.2,1117.0 975.2,1119.3 C973.2,1121.6 970.6,1123.5 968.2,1125.1 C965.9,1126.7 964.6,1128.1 961.1,1128.7 C957.6,1129.3 950.3,1130.7 947.0,1128.7 C943.7,1126.7 942.4,1120.8 941.2,1116.9 C940.0,1113.0 939.0,1108.5 940.0,1105.2Z"/>
</g>
<clipPath id="t14"><rect x="660" y="800" width="400" height="130"/></clipPath>
<g clip-path="url(#t14)">
<rect x="660" y="800" width="400" height="130" fill="#3dba3d"/>
<path fill="#a6f28f" d="M650.6,818.8 C652.2,818.4 656.1,817.3 660.0,816.5 C663.9,815.7 669.4,814.9 674.1,814.1 C678.8,813.3 682.7,812.4 688.2,811.8 C693.7,811.2 701.9,811.4 707.0,810.6 C712.1,809.8 716.4,808.9 718.8,807.1 C721.1,805.3 720.3,802.4 721.1,800.0 C721.9,797.6 723.1,794.1 723.5,792.9 L650.6,792.9Z"/>
<path fill="#61b8ff" d="M738.1,840.7 C740.6,842.0 739.2,843.8 740.6,845.6 C742.0,847.4 743.9,849.9 746.2,851.3 C748.6,852.7 751.6,853.8 754.7,854.1 C757.8,854.5 761.3,853.9 764.6,853.4 C767.9,852.9 771.0,851.8 774.5,851.3 C778.0,850.8 782.7,850.5 785.7,850.6 C788.8,850.7 790.4,851.6 792.8,852.0 C795.2,852.4 797.8,852.7 800.0,852.7 C802.2,852.7 802.5,852.6 805.8,852.2 C809.1,851.9 816.0,850.6 819.9,850.6 C823.8,850.6 826.9,851.2 829.3,852.2 C831.6,853.2 832.4,856.5 834.0,856.4 C835.6,856.3 836.7,853.3 838.7,851.7 C840.7,850.1 843.4,848.6 845.8,847.0 C848.1,845.4 850.1,843.9 852.8,842.3 C855.5,840.7 859.1,839.2 862.2,837.6 C865.3,836.0 868.9,834.1 871.6,832.9 C874.4,831.7 874.8,830.8 878.7,830.6 C882.6,830.4 888.5,830.1 895.2,831.7 C901.9,833.3 912.4,838.0 918.7,840.0 C925.0,842.0 929.3,842.3 932.8,843.5 C936.3,844.7 937.4,845.2 939.8,847.0 C942.1,848.8 944.9,853.7 946.9,854.1 C948.9,854.5 951.8,852.1 951.6,849.4 C951.4,846.6 947.1,841.1 945.7,837.6 C944.3,834.1 943.2,830.9 943.4,828.2 C943.6,825.5 944.8,823.0 946.9,821.2 C949.0,819.4 952.4,817.8 956.3,817.6 C960.2,817.4 966.1,819.0 970.4,820.0 C974.7,821.0 979.1,822.5 982.2,823.5 C985.3,824.5 973.9,822.0 989.2,825.9 C1004.5,829.8 1059.8,838.8 1073.9,847.0 C1088.0,855.2 1076.2,870.1 1073.9,875.2 C1071.6,880.3 1064.3,876.6 1060.0,877.6 C1055.7,878.6 1052.0,879.9 1048.0,881.1 C1044.0,882.3 1040.5,883.3 1036.2,884.7 C1031.9,886.1 1026.0,888.0 1022.1,889.4 C1018.2,890.8 1016.2,891.3 1012.7,892.9 C1009.2,894.5 1004.9,897.0 1001.0,898.8 C997.1,900.6 993.1,901.9 989.2,903.5 C985.3,905.1 981.4,907.0 977.5,908.2 C973.6,909.4 971.6,908.9 965.7,910.5 C959.8,912.1 948.1,915.6 942.2,917.6 C936.3,919.6 934.3,920.5 930.4,922.3 C926.5,924.1 922.6,926.6 918.7,928.2 C914.8,929.8 914.8,930.3 906.9,931.7 C899.0,933.1 880.6,935.2 871.6,936.4 C862.6,937.6 857.5,937.9 852.8,938.7 C848.1,939.5 847.3,939.9 843.4,941.1 C839.5,942.3 834.0,944.2 829.3,945.8 C824.6,947.4 819.9,948.9 815.2,950.5 C810.5,952.1 805.0,954.0 801.1,955.2 C797.2,956.4 795.6,956.8 791.7,957.6 C787.8,958.4 783.9,958.7 777.6,959.9 C771.3,961.1 776.8,963.8 754.1,964.6 C731.4,965.4 660.0,983.6 641.2,964.6 C622.4,945.6 638.1,870.2 641.2,850.6 C644.3,831.0 655.3,848.4 660.0,847.0 C664.7,845.6 665.5,843.7 669.4,842.3 C673.3,840.9 678.8,839.0 683.5,838.8 C688.2,838.6 692.9,841.2 697.6,841.2 C702.3,841.2 707.0,839.4 711.7,838.8 C716.4,838.2 721.4,837.3 725.8,837.6 C730.2,837.9 735.6,839.4 738.1,840.7Z"/>
<path fill="#3dba3d" d="M899.2,862.3 C899.2,862.8 898.9,863.5 898.6,864.0 C898.3,864.5 897.7,864.8 897.2,865.0 C896.7,865.2 896.0,865.2 895.5,865.0 C895.0,864.8 894.3,864.5 894.0,864.0 C893.7,863.5 893.5,862.8 893.5,862.3 C893.5,861.8 893.7,861.2 894.0,860.7 C894.3,860.2 895.0,859.8 895.5,859.6 C896.0,859.4 896.7,859.4 897.2,859.6 C897.7,859.8 898.3,860.2 898.6,860.7 C898.9,861.2 899.2,861.8 899.2,862.3Z"/>
<path fill="#0000ff" d="M490.4,940.5 C490.8,937.0 493.7,931.3 495.3,928.8 C496.9,926.3 496.9,926.7 500.0,925.3 C503.1,923.9 509.0,922.2 514.1,920.6 C519.2,919.0 525.1,917.3 530.6,915.9 C536.1,914.5 542.1,912.9 547.0,912.3 C551.9,911.6 557.1,913.0 560.0,912.0 C562.9,911.0 562.6,907.8 564.2,906.3 C565.9,904.8 567.8,903.5 569.9,902.8 C572.0,902.1 574.5,901.8 576.9,902.1 C579.2,902.5 582.1,904.2 584.0,904.9 C585.9,905.6 587.0,907.0 588.2,906.3 C589.4,905.6 589.8,902.7 591.0,900.7 C592.2,898.7 593.6,896.1 595.3,894.3 C596.9,892.5 598.5,891.0 600.9,890.1 C603.2,889.2 606.8,889.2 609.4,888.7 C612.0,888.2 614.3,888.4 616.4,887.3 C618.5,886.2 620.7,883.9 622.1,882.3 C623.5,880.6 623.2,878.7 624.9,877.4 C626.5,876.1 629.4,875.4 632.0,874.6 C634.6,873.8 637.4,873.0 640.4,872.5 C643.4,872.0 647.5,871.5 650.3,871.7 C653.1,871.9 655.0,873.1 657.4,873.9 C659.8,874.7 661.8,876.1 664.4,876.7 C667.0,877.3 670.3,877.9 672.9,877.4 C675.5,876.9 677.8,875.1 679.9,873.9 C682.0,872.7 683.5,871.6 685.6,870.3 C687.7,869.0 690.0,867.0 692.6,866.1 C695.2,865.2 698.3,864.7 701.1,864.7 C703.9,864.7 706.6,865.8 709.6,866.1 C712.6,866.5 716.1,866.8 719.4,866.8 C722.7,866.8 726.5,866.7 729.3,866.1 C732.1,865.5 734.0,864.1 736.4,863.3 C738.8,862.5 740.8,861.4 743.4,861.4 C746.0,861.4 749.1,862.8 751.9,863.3 C754.7,863.8 757.6,864.4 760.4,864.7 C763.2,865.1 766.0,865.8 768.8,865.4 C771.6,865.0 774.5,863.3 777.3,862.6 C780.1,861.9 782.4,861.2 785.7,861.2 C789.0,861.2 792.5,862.0 797.0,862.6 C801.5,863.2 808.3,864.8 812.9,864.7 C817.5,864.7 819.5,863.0 824.6,862.3 C829.7,861.6 836.7,861.1 843.4,860.7 C850.1,860.3 859.5,859.7 864.6,860.0 C869.7,860.3 871.9,860.5 874.0,862.3 C876.1,864.0 876.7,867.5 877.5,870.5 C878.3,873.5 877.7,877.6 878.7,880.0 C879.7,882.4 881.8,884.7 883.4,884.7 C885.0,884.7 886.7,882.0 888.1,880.0 C889.5,878.0 889.2,874.7 891.6,872.9 C894.0,871.1 898.5,870.4 902.2,869.4 C905.9,868.4 910.1,867.6 914.0,867.0 C917.9,866.4 921.0,866.8 925.7,865.8 C930.4,864.8 935.9,862.9 942.2,861.1 C948.5,859.4 958.7,857.0 963.4,855.3 C968.1,853.5 966.9,851.0 970.4,850.6 C973.9,850.2 980.2,852.1 984.5,852.9 C988.8,853.7 992.4,854.3 996.3,855.3 C1000.2,856.3 1005.5,856.8 1008.0,858.8 C1010.5,860.8 1011.6,864.3 1011.6,867.0 C1011.6,869.7 1010.2,872.7 1008.0,875.2 C1005.8,877.8 1001.7,880.3 998.6,882.3 C995.5,884.3 991.9,885.0 989.2,887.0 C986.5,889.0 986.1,892.1 982.2,894.1 C978.3,896.1 972.4,897.2 965.7,898.8 C959.0,900.4 950.0,902.9 942.2,903.5 C934.4,904.1 924.6,902.1 918.7,902.3 C912.8,902.5 911.6,903.6 906.9,904.6 C902.2,905.6 896.4,907.2 890.5,908.2 C884.6,909.2 876.7,908.9 871.6,910.5 C866.5,912.1 864.6,915.8 859.9,917.6 C855.2,919.4 849.3,920.3 843.4,921.1 C837.5,921.9 830.1,922.5 824.6,922.3 C819.1,922.1 817.0,919.9 810.5,919.9 C804.0,919.9 792.2,922.4 785.7,922.5 C779.2,922.6 777.9,921.0 771.6,920.4 C765.3,919.8 753.1,918.5 747.7,919.0 C742.3,919.5 741.1,921.6 739.2,923.2 C737.3,924.9 736.5,926.5 736.4,928.9 C736.3,931.3 738.7,935.3 738.5,937.4 C738.3,939.5 736.5,940.1 735.0,941.6 C733.5,943.1 731.9,945.8 729.3,946.5 C726.7,947.2 721.8,946.6 719.4,945.8 C717.0,945.0 716.4,943.2 715.2,941.6 C714.0,940.0 714.3,937.3 712.4,935.9 C710.5,934.5 706.7,933.8 703.9,933.1 C701.1,932.4 698.2,932.2 695.4,931.7 C692.6,931.2 689.8,931.0 687.0,930.3 C684.2,929.6 681.3,928.4 678.5,927.5 C675.7,926.6 672.5,925.7 670.1,924.7 C667.8,923.8 666.0,922.6 664.4,921.8 C662.8,921.0 661.5,919.7 660.2,919.7 C658.9,919.7 657.3,920.5 656.6,921.8 C655.9,923.1 656.7,925.6 655.9,927.5 C655.1,929.4 653.6,931.2 651.7,933.1 C649.8,935.0 646.8,936.9 644.7,938.8 C642.6,940.7 640.9,943.2 639.0,944.4 C637.1,945.6 635.5,945.9 633.4,945.8 C631.3,945.7 628.6,943.8 626.3,943.7 C623.9,943.6 621.4,944.3 619.3,945.1 C617.2,945.9 615.5,947.8 613.6,948.6 C611.7,949.4 610.4,949.6 608.0,950.1 C605.6,950.6 602.8,950.8 599.5,951.5 C596.2,952.2 591.7,953.4 588.2,954.3 C584.7,955.2 581.6,956.3 578.3,957.1 C575.0,957.9 571.5,958.7 568.5,959.2 C565.5,959.7 563.6,960.5 560.0,959.9 C556.4,959.3 551.9,957.1 547.0,955.8 C542.1,954.5 536.1,953.3 530.6,952.3 C525.1,951.3 519.2,950.6 514.1,950.0 C509.0,949.4 503.5,948.8 500.0,948.8 C496.5,948.8 494.5,951.4 492.9,950.0 C491.3,948.6 490.0,944.0 490.4,940.5Z"/>
<path fill="#ff00ff" d="M512.9,938.2 C513.3,936.0 515.8,933.1 518.8,931.1 C521.8,929.1 525.9,927.6 530.6,926.4 C535.3,925.2 542.1,924.8 547.0,924.1 C551.9,923.5 556.6,923.1 560.0,922.5 C563.4,921.9 564.8,921.0 567.1,920.4 C569.5,919.8 571.8,919.6 574.1,919.0 C576.5,918.4 578.9,917.6 581.2,916.9 C583.6,916.2 586.1,915.7 588.2,914.8 C590.3,913.9 592.0,912.2 593.9,911.3 C595.8,910.3 597.1,909.7 599.5,909.1 C601.9,908.5 605.2,908.2 608.0,907.7 C610.8,907.2 613.8,906.9 616.4,906.3 C619.0,905.7 621.1,904.9 623.5,904.2 C625.9,903.5 627.9,903.0 630.5,902.1 C633.1,901.2 636.6,899.9 639.0,898.6 C641.4,897.3 642.8,895.6 644.7,894.3 C646.6,893.0 648.2,891.7 650.3,890.8 C652.4,889.9 654.8,889.2 657.4,888.7 C660.0,888.2 663.0,888.2 665.8,888.0 C668.6,887.8 671.5,888.1 674.3,887.7 C677.1,887.4 680.2,886.3 682.8,885.9 C685.4,885.5 687.2,885.2 689.8,885.1 C692.4,885.0 695.5,885.2 698.3,885.4 C701.1,885.6 704.1,886.1 706.7,886.3 C709.3,886.4 711.7,886.6 713.8,886.3 C715.9,886.0 717.8,885.3 719.4,884.4 C721.0,883.5 722.3,882.2 723.7,880.9 C725.1,879.6 726.5,878.0 727.9,876.7 C729.3,875.4 730.5,874.0 732.1,873.2 C733.8,872.4 735.9,871.7 737.8,871.7 C739.7,871.7 741.5,872.5 743.4,873.2 C745.3,873.9 747.2,875.2 749.1,876.0 C751.0,876.8 752.6,877.8 754.7,878.1 C756.8,878.5 759.4,878.3 761.8,878.1 C764.1,877.9 766.2,877.3 768.8,877.0 C771.4,876.7 774.5,876.3 777.3,876.4 C780.1,876.5 783.1,876.6 785.7,877.4 C788.3,878.1 790.9,879.6 792.8,880.9 C794.7,882.2 795.9,883.5 797.0,885.1 C798.1,886.8 799.0,888.7 799.2,890.8 C799.4,892.9 799.0,895.9 798.4,897.8 C797.8,899.7 796.8,900.8 795.6,902.1 C794.4,903.4 795.4,904.4 791.4,905.6 C787.4,906.8 779.8,908.3 771.6,909.1 C763.4,909.9 748.4,910.4 742.0,910.5 C735.6,910.6 735.9,910.5 733.5,909.8 C731.1,909.1 729.8,907.3 727.9,906.3 C726.0,905.2 724.2,903.5 722.3,903.5 C720.4,903.5 718.2,904.9 716.6,906.3 C715.0,907.7 713.8,910.2 712.4,912.0 C711.0,913.8 710.0,915.6 708.1,916.9 C706.2,918.2 703.7,919.0 701.1,919.7 C698.5,920.4 695.2,921.0 692.6,921.1 C690.0,921.2 687.7,920.9 685.6,920.4 C683.5,919.9 682.0,919.0 679.9,918.3 C677.8,917.6 675.2,916.8 672.9,916.2 C670.5,915.6 668.1,915.3 665.8,914.8 C663.4,914.3 660.9,913.2 658.8,913.4 C656.7,913.6 654.8,914.8 653.1,916.2 C651.5,917.6 650.5,920.3 648.9,921.8 C647.2,923.3 645.3,924.9 643.2,925.4 C641.1,925.9 638.8,925.1 636.2,924.7 C633.6,924.3 630.5,923.8 627.7,923.2 C624.9,922.6 621.6,921.1 619.3,921.1 C616.9,921.1 615.5,921.9 613.6,923.2 C611.7,924.5 609.9,927.1 608.0,928.9 C606.1,930.7 604.6,932.6 602.3,933.8 C599.9,935.0 596.7,935.3 593.9,935.9 C591.1,936.5 588.2,936.9 585.4,937.4 C582.6,937.9 579.7,938.1 576.9,938.8 C574.1,939.5 571.3,940.5 568.5,941.6 C565.7,942.7 564.4,943.9 560.0,945.1 C555.6,946.3 547.6,948.4 542.3,948.8 C537.0,949.2 532.5,948.4 528.2,947.6 C523.9,946.8 519.0,945.7 516.5,944.1 C514.0,942.5 512.5,940.4 512.9,938.2Z"/>
<path fill="#0000ff" d="M1046.8,862.8 C1046.8,864.3 1046.1,866.0 1045.1,867.2 C1044.1,868.4 1042.4,869.5 1040.7,869.9 C1039.0,870.3 1036.8,870.3 1035.1,869.9 C1033.4,869.5 1031.7,868.4 1030.7,867.2 C1029.7,866.0 1029.0,864.3 1029.0,862.8 C1029.0,861.3 1029.7,859.6 1030.7,858.4 C1031.7,857.2 1033.4,856.1 1035.1,855.6 C1036.8,855.1 1039.0,855.1 1040.7,855.6 C1042.4,856.1 1044.1,857.2 1045.1,858.4 C1046.1,859.6 1046.8,861.3 1046.8,862.8Z"/>
</g>
<clipPath id="t15"><rect x="560" y="840" width="240" height="120"/></clipPath>
<g clip-path="url(#t15)">
<rect x="560" y="840" width="240" height="120" fill="#61b8ff"/>
<path fill="#3dba3d" d="M554.4,899.3 C555.3,898.8 557.6,898.0 560.0,896.4 C562.4,894.8 566.5,891.1 568.5,889.4 C570.5,887.6 571.1,887.3 572.0,885.9 C572.9,884.5 573.1,882.7 574.1,880.9 C575.1,879.1 576.6,876.8 578.3,875.3 C579.9,873.8 581.6,872.9 584.0,871.7 C586.4,870.5 589.5,869.4 592.5,868.2 C595.5,867.0 599.0,865.9 602.3,864.7 C605.6,863.5 608.9,862.3 612.2,861.2 C615.5,860.1 618.6,859.1 622.1,858.3 C625.6,857.5 629.6,856.9 633.4,856.2 C637.2,855.5 641.0,854.7 644.7,854.1 C648.5,853.5 652.6,853.4 655.9,852.7 C659.2,852.0 661.6,851.1 664.4,849.9 C667.2,848.7 670.3,847.0 672.9,845.6 C675.5,844.2 678.0,843.0 679.9,841.4 C681.8,839.8 683.5,836.7 684.2,835.8 L554.4,835.8Z"/>
<path fill="#a6f28f" d="M554.4,876.7 C555.3,876.4 557.9,875.2 560.0,874.6 C562.1,874.0 564.9,874.3 567.1,873.2 C569.3,872.1 571.5,870.0 573.4,868.2 C575.3,866.4 576.3,864.2 578.3,862.6 C580.3,861.0 582.6,859.7 585.4,858.3 C588.2,856.9 591.8,855.4 595.3,854.1 C598.8,852.8 603.1,851.9 606.6,850.6 C610.1,849.3 613.4,847.8 616.4,846.3 C619.4,844.8 622.8,843.1 624.9,841.4 C627.0,839.6 628.4,836.7 629.1,835.8 L554.4,835.8Z"/>
<path fill="#3dba3d" d="M736.4,835.8 C736.6,836.5 737.1,838.4 737.8,840.0 C738.5,841.6 739.2,843.7 740.6,845.6 C742.0,847.5 743.9,849.9 746.2,851.3 C748.6,852.7 751.6,853.8 754.7,854.1 C757.8,854.5 761.3,853.9 764.6,853.4 C767.9,852.9 771.0,851.8 774.5,851.3 C778.0,850.8 782.7,850.5 785.7,850.6 C788.8,850.7 790.4,851.6 792.8,852.0 C795.2,852.4 797.4,852.5 800.0,852.7 C802.6,852.9 806.9,853.3 808.3,853.4 L808.3,835.8Z"/>
<path fill="#3dba3d" d="M630.5,964.2 C631.0,963.5 632.0,961.1 633.4,959.9 C634.8,958.7 636.6,958.0 639.0,957.1 C641.4,956.2 644.7,955.2 647.5,954.3 C650.3,953.4 653.5,952.3 655.9,951.5 C658.2,950.7 659.7,949.3 661.6,949.3 C663.5,949.3 665.6,950.2 667.2,951.5 C668.9,952.8 670.5,955.7 671.5,957.1 C672.5,958.5 672.4,958.7 672.9,959.9 C673.4,961.1 674.1,963.5 674.3,964.2Z"/>
<path fill="#3dba3d" d="M750.5,964.2 C751.0,963.5 752.1,961.3 753.3,959.9 C754.5,958.5 755.9,957.1 757.5,955.7 C759.1,954.3 760.9,952.9 763.2,951.5 C765.6,950.1 768.3,948.4 771.6,947.2 C774.9,946.0 779.6,945.2 782.9,944.4 C786.2,943.6 788.5,942.8 791.4,942.3 C794.2,941.8 797.2,941.8 800.0,941.6 C802.8,941.4 806.9,941.0 808.3,940.9 L808.3,964.2Z"/>
<path fill="#0000ff" d="M490.4,940.5 C490.8,937.0 493.7,931.3 495.3,928.8 C496.9,926.3 496.9,926.7 500.0,925.3 C503.1,923.9 509.0,922.2 514.1,920.6 C519.2,919.0 525.1,917.3 530.6,915.9 C536.1,914.5 542.1,912.9 547.0,912.3 C551.9,911.6 557.1,913.0 560.0,912.0 C562.9,911.0 562.6,907.8 564.2,906.3 C565.9,904.8 567.8,903.5 569.9,902.8 C572.0,902.1 574.5,901.8 576.9,902.1 C579.2,902.5 582.1,904.2 584.0,904.9 C585.9,905.6 587.0,907.0 588.2,906.3 C589.4,905.6 589.8,902.7 591.0,900.7 C592.2,898.7 593.6,896.1 595.3,894.3 C596.9,892.5 598.5,891.0 600.9,890.1 C603.2,889.2 606.8,889.2 609.4,888.7 C612.0,888.2 614.3,888.4 616.4,887.3 C618.5,886.2 620.7,883.9 622.1,882.3 C623.5,880.6 623.2,878.7 624.9,877.4 C626.5,876.1 629.4,875.4 632.0,874.6 C634.6,873.8 637.4,873.0 640.4,872.5 C643.4,872.0 647.5,871.5 650.3,871.7 C653.1,871.9 655.0,873.1 657.4,873.9 C659.8,874.7 661.8,876.1 664.4,876.7 C667.0,877.3 670.3,877.9 672.9,877.4 C675.5,876.9 677.8,875.1 679.9,873.9 C682.0,872.7 683.5,871.6 685.6,870.3 C687.7,869.0 690.0,867.0 692.6,866.1 C695.2,865.2 698.3,864.7 701.1,864.7 C703.9,864.7 706.6,865.8 709.6,866.1 C712.6,866.5 716.1,866.8 719.4,866.8 C722.7,866.8 726.5,866.7 729.3,866.1 C732.1,865.5 734.0,864.1 736.4,863.3 C738.8,862.5 740.8,861.4 743.4,861.4 C746.0,861.4 749.1,862.8 751.9,863.3 C754.7,863.8 757.6,864.4 760.4,864.7 C763.2,865.1 766.0,865.8 768.8,865.4 C771.6,865.0 774.5,863.3 777.3,862.6 C780.1,861.9 782.4,861.2 785.7,861.2 C789.0,861.2 792.5,862.0 797.0,862.6 C801.5,863.2 808.3,864.8 812.9,864.7 C817.5,864.7 819.5,863.0 824.6,862.3 C829.7,861.6 836.7,861.1 843.4,860.7 C850.1,860.3 859.5,859.7 864.6,860.0 C869.7,860.3 871.9,860.5 874.0,862.3 C876.1,864.0 876.7,867.5 877.5,870.5 C878.3,873.5 877.7,877.6 878.7,880.0 C879.7,882.4 881.8,884.7 883.4,884.7 C885.0,884.7 886.7,882.0 888.1,880.0 C889.5,878.0 889.2,874.7 891.6,872.9 C894.0,871.1 898.5,870.4 902.2,869.4 C905.9,868.4 910.1,867.6 914.0,867.0 C917.9,866.4 921.0,866.8 925.7,865.8 C930.4,864.8 935.9,862.9 942.2,861.1 C948.5,859.4 958.7,857.0 963.4,855.3 C968.1,853.5 966.9,851.0 970.4,850.6 C973.9,850.2 980.2,852.1 984.5,852.9 C988.8,853.7 992.4,854.3 996.3,855.3 C1000.2,856.3 1005.5,856.8 1008.0,858.8 C1010.5,860.8 1011.6,864.3 1011.6,867.0 C1011.6,869.7 1010.2,872.7 1008.0,875.2 C1005.8,877.8 1001.7,880.3 998.6,882.3 C995.5,884.3 991.9,885.0 989.2,887.0 C986.5,889.0 986.1,892.1 982.2,894.1 C978.3,896.1 972.4,897.2 965.7,898.8 C959.0,900.4 950.0,902.9 942.2,903.5 C934.4,904.1 924.6,902.1 918.7,902.3 C912.8,902.5 911.6,903.6 906.9,904.6 C902.2,905.6 896.4,907.2 890.5,908.2 C884.6,909.2 876.7,908.9 871.6,910.5 C866.5,912.1 864.6,915.8 859.9,917.6 C855.2,919.4 849.3,920.3 843.4,921.1 C837.5,921.9 830.1,922.5 824.6,922.3 C819.1,922.1 817.0,919.9 810.5,919.9 C804.0,919.9 792.2,922.4 785.7,922.5 C779.2,922.6 777.9,921.0 771.6,920.4 C765.3,919.8 753.1,918.5 747.7,919.0 C742.3,919.5 741.1,921.6 739.2,923.2 C737.3,924.9 736.5,926.5 736.4,928.9 C736.3,931.3 738.7,935.3 738.5,937.4 C738.3,939.5 736.5,940.1 735.0,941.6 C733.5,943.1 731.9,945.8 729.3,946.5 C726.7,947.2 721.8,946.6 719.4,945.8 C717.0,945.0 716.4,943.2 715.2,941.6 C714.0,940.0 714.3,937.3 712.4,935.9 C710.5,934.5 706.7,933.8 703.9,933.1 C701.1,932.4 698.2,932.2 695.4,931.7 C692.6,931.2 689.8,931.0 687.0,930.3 C684.2,929.6 681.3,928.4 678.5,927.5 C675.7,926.6 672.5,925.7 670.1,924.7 C667.8,923.8 666.0,922.6 664.4,921.8 C662.8,921.0 661.5,919.7 660.2,919.7 C658.9,919.7 657.3,920.5 656.6,921.8 C655.9,923.1 656.7,925.6 655.9,927.5 C655.1,929.4 653.6,931.2 651.7,933.1 C649.8,935.0 646.8,936.9 644.7,938.8 C642.6,940.7 640.9,943.2 639.0,944.4 C637.1,945.6 635.5,945.9 633.4,945.8 C631.3,945.7 628.6,943.8 626.3,943.7 C623.9,943.6 621.4,944.3 619.3,945.1 C617.2,945.9 615.5,947.8 613.6,948.6 C611.7,949.4 610.4,949.6 608.0,950.1 C605.6,950.6 602.8,950.8 599.5,951.5 C596.2,952.2 591.7,953.4 588.2,954.3 C584.7,955.2 581.6,956.3 578.3,957.1 C575.0,957.9 571.5,958.7 568.5,959.2 C565.5,959.7 563.6,960.5 560.0,959.9 C556.4,959.3 551.9,957.1 547.0,955.8 C542.1,954.5 536.1,953.3 530.6,952.3 C525.1,951.3 519.2,950.6 514.1,950.0 C509.0,949.4 503.5,948.8 500.0,948.8 C496.5,948.8 494.5,951.4 492.9,950.0 C491.3,948.6 490.0,944.0 490.4,940.5Z"/>
<path fill="#ff00ff" d="M512.9,938.2 C513.3,936.0 515.8,933.1 518.8,931.1 C521.8,929.1 525.9,927.6 530.6,926.4 C535.3,925.2 542.1,924.8 547.0,924.1 C551.9,923.5 556.6,923.1 560.0,922.5 C563.4,921.9 564.8,921.0 567.1,920.4 C569.5,919.8 571.8,919.6 574.1,919.0 C576.5,918.4 578.9,917.6 581.2,916.9 C583.6,916.2 586.1,915.7 588.2,914.8 C590.3,913.9 592.0,912.2 593.9,911.3 C595.8,910.3 597.1,909.7 599.5,909.1 C601.9,908.5 605.2,908.2 608.0,907.7 C610.8,907.2 613.8,906.9 616.4,906.3 C619.0,905.7 621.1,904.9 623.5,904.2 C625.9,903.5 627.9,903.0 630.5,902.1 C633.1,901.2 636.6,899.9 639.0,898.6 C641.4,897.3 642.8,895.6 644.7,894.3 C646.6,893.0 648.2,891.7 650.3,890.8 C652.4,889.9 654.8,889.2 657.4,888.7 C660.0,888.2 663.0,888.2 665.8,888.0 C668.6,887.8 671.5,888.1 674.3,887.7 C677.1,887.4 680.2,886.3 682.8,885.9 C685.4,885.5 687.2,885.2 689.8,885.1 C692.4,885.0 695.5,885.2 698.3,885.4 C701.1,885.6 704.1,886.1 706.7,886.3 C709.3,886.4 711.7,886.6 713.8,886.3 C715.9,886.0 717.8,885.3 719.4,884.4 C721.0,883.5 722.3,882.2 723.7,880.9 C725.1,879.6 726.5,878.0 727.9,876.7 C729.3,875.4 730.5,874.0 732.1,873.2 C733.8,872.4 735.9,871.7 737.8,871.7 C739.7,871.7 741.5,872.5 743.4,873.2 C745.3,873.9 747.2,875.2 749.1,876.0 C751.0,876.8 752.6,877.8 754.7,878.1 C756.8,878.5 759.4,878.3 761.8,878.1 C764.1,877.9 766.2,877.3 768.8,877.0 C771.4,876.7 774.5,876.3 777.3,876.4 C780.1,876.5 783.1,876.6 785.7,877.4 C788.3,878.1 790.9,879.6 792.8,880.9 C794.7,882.2 795.9,883.5 797.0,885.1 C798.1,886.8 799.0,888.7 799.2,890.8 C799.4,892.9 799.0,895.9 798.4,897.8 C797.8,899.7 796.8,900.8 795.6,902.1 C794.4,903.4 795.4,904.4 791.4,905.6 C787.4,906.8 779.8,908.3 771.6,909.1 C763.4,909.9 748.4,910.4 742.0,910.5 C735.6,910.6 735.9,910.5 733.5,909.8 C731.1,909.1 729.8,907.3 727.9,906.3 C726.0,905.2 724.2,903.5 722.3,903.5 C720.4,903.5 718.2,904.9 716.6,906.3 C715.0,907.7 713.8,910.2 712.4,912.0 C711.0,913.8 710.0,915.6 708.1,916.9 C706.2,918.2 703.7,919.0 701.1,919.7 C698.5,920.4 695.2,921.0 692.6,921.1 C690.0,921.2 687.7,920.9 685.6,920.4 C683.5,919.9 682.0,919.0 679.9,918.3 C677.8,917.6 675.2,916.8 672.9,916.2 C670.5,915.6 668.1,915.3 665.8,914.8 C663.4,914.3 660.9,913.2 658.8,913.4 C656.7,913.6 654.8,914.8 653.1,916.2 C651.5,917.6 650.5,920.3 648.9,921.8 C647.2,923.3 645.3,924.9 643.2,925.4 C641.1,925.9 638.8,925.1 636.2,924.7 C633.6,924.3 630.5,923.8 627.7,923.2 C624.9,922.6 621.6,921.1 619.3,921.1 C616.9,921.1 615.5,921.9 613.6,923.2 C611.7,924.5 609.9,927.1 608.0,928.9 C606.1,930.7 604.6,932.6 602.3,933.8 C599.9,935.0 596.7,935.3 593.9,935.9 C591.1,936.5 588.2,936.9 585.4,937.4 C582.6,937.9 579.7,938.1 576.9,938.8 C574.1,939.5 571.3,940.5 568.5,941.6 C565.7,942.7 564.4,943.9 560.0,945.1 C555.6,946.3 547.6,948.4 542.3,948.8 C537.0,949.2 532.5,948.4 528.2,947.6 C523.9,946.8 519.0,945.7 516.5,944.1 C514.0,942.5 512.5,940.4 512.9,938.2Z"/>
</g>
</g><g clip-path="url(#prov)">
<path fill="none" stroke="#bdbdbd" stroke-width="0.9" d="M218.8,272.4 L222.3,284.1 L231.7,292.3 L245.8,294.7 L259.9,302.9 L274.0,311.2 L282.2,318.2 L283.4,328.8 L288.1,338.2 L286.9,352.3 L288.1,360.5"/>
<path fill="none" stroke="#bdbdbd" stroke-width="0.9" d="M288.1,360.5 L278.7,355.8 L268.1,354.7 L267.0,359.4 L268.1,366.4 L275.2,368.8 L285.8,364.1 L288.1,360.5"/>
<path fill="none" stroke="#bdbdbd" stroke-width="0.9" d="M268.1,366.4 L264.6,379.3 L269.3,382.9 L275.2,387.6 L274.0,393.5 L285.8,397.0 L295.2,399.3 L304.6,401.7 L318.7,407.6 L321.0,418.1 L330.5,422.9 L344.6,425.2 L349.3,432.3 L352.8,444.0 L363.4,451.1 L377.5,453.4 L391.6,448.7 L398.6,444.0 L402.2,437.0 L403.4,420.5 L401.0,417.0"/>
<path fill="none" stroke="#bdbdbd" stroke-width="0.9" d="M401.0,417.0 L429.2,422.9 L464.5,432.3 L500.0,438.1"/>
<path fill="none" stroke="#bdbdbd" stroke-width="0.9" d="M398.6,444.0 L405.7,448.7 L415.1,458.1 L417.5,469.9 L419.8,486.3 L417.5,493.4 L429.2,498.1 L438.6,505.2 L445.7,516.9 L462.1,522.8 L465.7,528.7"/>
<path fill="none" stroke="#bdbdbd" stroke-width="0.9" d="M405.7,223.4 L412.8,232.8 L422.2,237.5 L429.2,249.3 L431.6,261.0 L441.0,268.1 L444.5,275.1 L438.6,284.5 L441.0,300.1 L438.6,281.8 L438.6,298.2 L452.7,300.6 L466.8,299.4 L488.0,305.3 L500.0,312.3"/>
<path fill="none" stroke="#bdbdbd" stroke-width="0.9" d="M457.4,167.0 L476.2,168.1 L500.0,168.1 L509.4,168.1 L518.8,164.6 L532.9,162.3 L542.3,164.6"/>
<path fill="none" stroke="#bdbdbd" stroke-width="0.9" d="M567.0,112.9 L558.8,115.2 L554.1,122.3 L550.6,131.7 L542.3,141.1 L532.9,145.8 L518.8,152.9 L509.4,150.5 L507.1,164.6 L509.4,168.1"/>
<path fill="none" stroke="#bdbdbd" stroke-width="0.9" d="M542.3,141.1 L547.0,152.9 L544.7,164.6 L552.9,174.0 L555.3,185.8 L547.0,199.9 L544.7,216.3 L540.0,228.1 L544.7,235.2 L532.9,249.3 L523.5,256.3 L521.2,268.1 L530.6,272.8 L535.3,282.2 L532.9,293.9"/>
<path fill="none" stroke="#bdbdbd" stroke-width="0.9" d="M900.0,1135.7 L911.8,1138.1 L923.5,1142.8 L928.2,1152.2 L925.9,1163.9 L930.6,1170.1"/>
<path fill="none" stroke="#bdbdbd" stroke-width="0.9" d="M970.5,1152.2 L977.6,1142.8 L984.7,1138.1 L994.1,1140.4 L1003.5,1135.7 L1012.9,1133.4"/>
<path fill="none" stroke="#bdbdbd" stroke-width="0.9" d="M925.7,1154.7 L930.5,1164.1 L937.5,1170.0 L949.3,1166.5 L958.7,1161.8 L970.4,1157.1 L974.0,1150.0"/>
<path fill="none" stroke="#bdbdbd" stroke-width="0.9" d="M417.0,480.0 L417.9,490.6 L422.3,495.9 L432.9,499.4 L440.0,508.2 L445.3,517.0 L454.1,519.7 L462.9,522.3 L464.7,527.6"/>
<path fill="none" stroke="#bdbdbd" stroke-width="0.9" d="M426.7,557.6 L427.6,568.2 L432.9,578.8 L438.2,589.3 L436.4,603.5 L432.9,615.8 L436.4,624.6 L440.0,638.7 L443.5,649.3 L442.6,658.1 L450.5,661.7 L461.1,665.2 L471.7,670.5 L477.0,680.0"/>
<path fill="none" stroke="#bdbdbd" stroke-width="0.9" d="M565.2,550.5 L558.1,562.9 L556.4,571.7 L565.2,575.2 L566.9,585.8 L564.3,594.6 L572.2,599.9 L566.9,610.5 L556.4,615.8 L559.9,624.6 L552.8,626.4 L551.1,633.4 L558.1,642.3 L559.9,652.8 L566.9,658.1 L563.4,666.9 L556.4,668.7 L552.8,663.4 L545.8,661.7 L538.7,659.9 L535.2,666.9 L528.1,670.5 L519.3,675.8 L515.8,680.0"/>
<path fill="none" stroke="#bdbdbd" stroke-width="0.9" d="M609.3,550.5 L623.4,555.8 L634.0,555.8 L644.6,550.5 L653.4,547.9 L651.6,557.6 L648.1,568.2 L642.8,570.8 L649.8,573.5 L656.9,569.9 L664.0,575.2 L662.2,585.8 L656.9,592.9 L653.4,596.4 L660.4,603.5 L669.2,610.5 L680.0,615.8"/>
<path fill="none" stroke="#bdbdbd" stroke-width="0.9" d="M593.4,480.0 L605.7,485.3 L602.2,490.6 L595.2,496.8 L600.5,504.7 L604.0,513.5 L605.7,524.1"/>
<path fill="none" stroke="#bdbdbd" stroke-width="0.9" d="M560.0,844.2 L565.6,849.9 L574.1,853.4 L579.8,862.6 L584.0,873.9 L585.4,886.6 L584.0,893.6 L591.0,896.4 L598.1,891.5 L606.6,899.3 L612.2,907.7 L620.7,913.4 L626.3,917.6 L630.5,913.4 L639.0,916.2 L644.7,920.4 L646.1,925.4 L651.7,921.8 L658.8,919.7 L667.2,916.9 L674.3,914.8 L679.9,912.7"/>
<path fill="none" stroke="#bdbdbd" stroke-width="0.9" d="M574.1,919.0 L575.5,927.5 L578.3,938.8 L581.2,952.9 L581.9,959.9"/>
<path fill="none" stroke="#bdbdbd" stroke-width="0.9" d="M578.3,909.8 L588.2,910.5 L590.3,906.3 L598.1,891.5"/>
<path fill="none" stroke="#bdbdbd" stroke-width="0.9" d="M708.1,840.0 L701.1,844.2 L695.4,851.3 L691.2,858.3 L687.0,864.0 L689.8,869.6 L694.0,873.2 L687.0,878.1 L685.6,885.1 L684.2,893.6 L678.5,900.7 L674.3,904.9 L678.5,910.5 L679.9,912.7 L687.0,916.9 L691.2,921.8 L701.1,921.1 L708.1,919.0 L715.2,921.8 L718.0,927.5 L723.7,919.0 L727.9,910.5 L736.4,909.1 L742.0,900.7 L744.8,889.4 L750.5,882.3 L760.4,878.8 L770.2,880.9 L774.5,888.0 L777.3,896.4"/>
<path fill="none" stroke="#17c0e8" stroke-width="1.8" stroke-linejoin="round" d="M290.5,525.1 C292.1,523.6 296.8,517.9 299.9,516.4 C303.0,514.9 306.6,515.5 309.3,516.4 C312.0,517.3 314.0,519.8 316.3,521.6 C318.6,523.5 320.8,525.5 323.4,527.5 C325.9,529.5 329.6,530.9 331.6,533.4 C333.6,535.9 333.8,539.7 335.2,542.8 C336.6,545.9 337.9,549.7 339.9,552.2 C341.8,554.8 344.5,556.7 346.9,558.1 C349.2,559.5 352.2,561.2 354.0,560.4 C355.8,559.6 355.6,555.9 357.5,553.4 C359.4,550.9 363.1,547.6 365.7,545.1 C368.2,542.6 370.1,539.5 372.8,538.1 C375.6,536.7 379.5,536.7 382.2,536.9 C384.9,537.1 387.2,537.5 389.2,539.3 C391.1,541.1 392.6,544.9 393.9,547.5 C395.2,550.1 394.0,553.8 396.8,555.0 C399.6,556.2 405.9,555.2 410.9,554.7 C415.9,554.2 423.0,554.1 426.8,552.2 C430.6,550.3 431.5,546.3 433.9,543.4 C436.2,540.5 437.4,537.0 440.9,534.6 C444.4,532.2 450.3,530.8 455.0,529.3 C459.7,527.8 465.0,527.2 469.1,525.7 C473.2,524.2 476.2,522.9 479.7,520.5 C483.2,518.1 488.2,514.8 490.3,511.6 C492.4,508.4 492.7,504.3 492.1,501.1 C491.5,497.9 487.4,493.0 486.8,492.2 C486.2,491.4 487.5,493.8 488.5,496.4 C489.5,499.0 491.1,506.0 492.7,507.7 C494.3,509.4 496.2,508.2 498.3,506.3 C500.4,504.4 503.0,498.5 505.4,496.4 C507.8,494.3 510.1,493.4 512.5,493.6 C514.9,493.8 517.1,496.6 519.5,497.8 C521.9,499.0 524.2,500.2 526.6,500.7 C529.0,501.2 529.6,501.4 533.6,500.7 C537.6,500.0 544.4,498.8 550.5,496.4 C556.6,494.0 565.6,489.7 570.3,486.6 C575.0,483.6 576.9,481.2 578.8,478.1 C580.7,475.0 580.7,471.2 581.6,468.2 C582.5,465.1 583.0,462.0 584.4,459.8 C585.8,457.6 588.0,455.9 590.1,454.8 C592.2,453.7 594.8,453.8 597.1,453.4 C599.5,453.0 607.1,449.6 604.2,452.7 C601.4,455.8 583.7,470.3 580.0,471.8 C576.3,473.3 581.0,464.0 581.9,461.5 C582.8,459.0 583.9,457.9 585.6,456.8 C587.3,455.7 590.0,455.3 592.2,454.9 C594.4,454.5 596.9,454.5 598.8,454.4 C600.7,454.2 600.4,455.9 603.5,454.0 C606.6,452.1 612.3,446.9 617.6,442.7 C622.9,438.5 631.6,430.8 635.5,428.6 C639.4,426.4 639.1,429.6 641.1,429.5 C643.1,429.4 645.4,428.4 647.7,428.1 C650.1,427.8 652.9,427.8 655.2,427.6 C657.6,427.4 659.8,427.2 661.8,426.7 C663.8,426.2 665.8,425.4 667.5,424.8 C669.2,424.2 670.5,423.1 672.2,422.9 C673.9,422.7 676.1,423.5 677.8,423.4 C679.5,423.3 680.8,422.4 682.5,422.5 C684.2,422.6 686.5,423.0 688.2,423.9 C689.9,424.8 691.3,426.4 692.9,427.6 C694.5,428.9 695.2,429.8 697.6,431.4 C700.0,433.0 703.4,435.6 707.0,437.0 C710.6,438.4 716.7,440.2 719.2,439.9 C721.7,439.6 721.0,437.2 722.0,435.1 C723.0,433.1 724.1,430.0 724.9,427.6 C725.7,425.2 725.8,422.7 726.7,421.0 C727.6,419.3 729.1,418.2 730.5,417.3 C731.9,416.4 733.6,416.0 735.2,415.4 C736.8,414.8 740.4,413.4 740.0,413.5 C739.6,413.6 732.8,416.2 732.8,415.8 C732.8,415.4 737.5,412.7 739.9,411.1 C742.2,409.5 744.5,406.6 746.9,406.4 C749.2,406.2 751.2,409.2 754.0,409.9 C756.8,410.6 760.3,410.8 763.4,410.6 C766.5,410.4 770.2,409.8 772.8,408.7 C775.3,407.6 777.5,405.9 778.7,404.0 C779.9,402.1 780.2,399.4 779.8,397.0 C779.4,394.6 775.9,392.6 776.3,389.9 C776.7,387.1 779.3,381.7 782.2,380.5 C785.1,379.3 790.0,382.1 793.9,382.9 C797.8,383.7 802.6,384.8 805.7,385.2 C808.9,385.6 809.7,386.0 812.8,385.2 C815.9,384.4 820.2,381.9 824.5,380.5 C828.8,379.1 833.9,377.6 838.6,377.0 C843.3,376.4 849.6,376.8 852.7,377.0 C855.8,377.2 856.6,378.0 857.4,378.2"/>
<path fill="none" stroke="#17c0e8" stroke-width="1.8" stroke-linejoin="round" d="M628.2,749.9 C628.8,748.5 630.0,743.9 631.7,741.7 C633.5,739.6 636.4,738.0 638.7,737.0 C641.1,736.0 643.4,735.6 645.8,735.8 C648.2,736.0 650.9,737.1 652.9,738.1 C654.9,739.1 655.6,740.9 657.6,741.7 C659.6,742.5 662.7,742.0 664.6,742.8 C666.5,743.6 668.7,744.2 669.3,746.4 C669.9,748.6 668.5,753.1 668.1,755.8 C667.7,758.5 666.6,760.6 667.0,762.8 C667.4,764.9 668.5,767.7 670.5,768.7 C672.5,769.7 675.8,768.7 678.7,768.7 C681.6,768.7 685.2,768.2 688.1,768.7 C691.0,769.2 694.0,772.4 696.4,771.8 C698.8,771.2 700.1,767.7 702.2,765.2 C704.4,762.7 707.3,759.1 709.3,756.9 C711.3,754.7 712.0,753.4 714.0,752.2 C716.0,751.0 718.2,750.2 721.0,749.9 C723.8,749.6 727.4,750.0 730.5,750.6 C733.6,751.2 737.5,752.4 739.9,753.4 C742.2,754.4 743.4,754.9 744.6,756.9 C745.8,758.9 746.9,762.7 746.9,765.2 C746.9,767.8 745.8,769.9 744.6,772.2 C743.4,774.6 741.9,777.5 739.9,779.3 C737.9,781.1 735.2,781.0 732.8,782.8 C730.4,784.6 727.5,787.5 725.7,789.9 C723.9,792.2 723.8,795.1 722.2,796.9 C720.6,798.7 718.4,799.3 716.3,800.5 C714.1,801.7 712.0,803.2 709.3,804.0 C706.6,804.8 703.0,804.6 699.9,805.2 C696.8,805.8 693.2,807.5 690.5,807.5 C687.8,807.5 685.8,806.6 683.4,805.2 C681.0,803.8 678.8,800.6 676.4,799.3 C674.0,798.0 671.5,799.0 669.3,797.6 C667.1,796.2 665.0,793.3 663.4,791.0 C661.8,788.7 661.6,786.0 659.9,784.0 C658.1,782.0 655.2,780.5 652.9,779.3 C650.5,778.1 648.2,778.3 645.8,776.9 C643.4,775.5 641.1,772.3 638.7,771.1 C636.4,769.9 633.5,771.3 631.7,769.9 C630.0,768.5 628.9,765.1 628.2,762.8 C627.5,760.4 627.5,757.9 627.5,755.8 C627.5,753.6 628.1,750.9 628.2,749.9"/>
<path fill="none" stroke="#17c0e8" stroke-width="1.8" stroke-linejoin="round" d="M744.6,772.2 C747.0,771.6 755.2,769.5 758.7,768.7 C762.2,767.9 764.5,767.7 765.7,767.5"/>
<path fill="none" stroke="#17c0e8" stroke-width="1.8" stroke-linejoin="round" d="M500.0,1142.8 C501.6,1141.8 505.9,1139.2 509.4,1136.9 C512.9,1134.6 517.7,1132.0 521.2,1128.7 C524.7,1125.4 528.2,1120.8 530.6,1116.9 C533.0,1113.0 533.5,1109.5 535.3,1105.2 C537.1,1100.9 540.8,1095.3 541.2,1091.0 C541.6,1086.7 538.6,1083.2 537.6,1079.3 C536.6,1075.4 534.9,1071.4 535.3,1067.5 C535.7,1063.6 538.0,1059.3 540.0,1055.8 C542.0,1052.3 543.9,1049.1 547.0,1046.4 C550.1,1043.7 554.9,1041.1 558.8,1039.8 C562.7,1038.5 565.8,1038.7 570.5,1038.8 C575.2,1038.9 582.3,1039.4 587.0,1040.5 C591.7,1041.6 595.3,1044.6 598.8,1045.2 C602.3,1045.8 605.5,1045.8 608.2,1044.0 C610.9,1042.2 613.4,1038.5 615.2,1034.6 C617.0,1030.7 618.8,1024.4 618.8,1020.5 C618.8,1016.6 615.4,1014.2 615.2,1011.1 C615.0,1008.0 614.9,1004.6 617.6,1001.7 C620.4,998.8 627.0,995.3 631.7,993.5 C636.4,991.7 641.1,991.3 645.8,991.1 C650.5,990.9 654.4,993.3 659.9,992.3 C665.4,991.3 672.0,988.3 678.7,985.2 C685.4,982.1 693.6,976.2 699.9,973.5 C706.2,970.8 711.2,970.4 716.3,968.8 C721.4,967.2 726.6,965.7 730.5,964.1 C734.4,962.5 738.9,961.8 739.9,959.4 C740.9,957.0 736.3,953.5 736.3,950.0 C736.3,946.5 738.5,942.1 739.9,938.2 C741.3,934.3 743.4,929.9 744.6,926.4 C745.8,922.9 746.1,918.5 746.9,917.0 C747.7,915.5 746.2,919.5 749.4,917.6 C752.5,915.7 758.8,908.9 765.8,905.8 C772.8,902.7 785.8,901.1 791.7,898.8 C797.6,896.4 799.2,894.8 801.1,891.7 C803.0,888.6 802.2,883.5 803.4,880.0 C804.6,876.5 805.4,873.2 808.1,870.5 C810.9,867.8 815.6,865.9 819.9,863.5 C824.2,861.1 829.3,859.1 834.0,856.4 C838.7,853.6 843.8,849.1 848.1,847.0 C852.4,844.9 856.0,844.3 859.9,843.5 C863.8,842.7 867.3,842.7 871.6,842.3 C875.9,841.9 882.6,842.4 885.7,841.2 C888.9,840.0 889.3,837.5 890.5,835.3 C891.7,833.1 892.4,829.4 892.8,828.2"/>
<path fill="none" stroke="#17c0e8" stroke-width="1.8" stroke-linejoin="round" d="M800.0,885.7 C801.2,883.4 803.6,875.7 807.1,871.6 C810.6,867.5 816.5,864.2 821.2,861.0 C825.9,857.8 830.0,854.6 835.3,852.2 C840.6,849.9 847.0,848.4 852.9,846.9 C858.8,845.4 865.2,844.6 870.5,843.4 C875.8,842.2 881.5,842.8 884.7,839.9 C887.9,837.0 888.6,831.0 889.9,825.7 C891.2,820.4 891.5,814.0 892.4,808.1 C893.3,802.2 893.0,795.2 895.2,790.5 C897.4,785.8 902.3,782.9 905.8,779.9 C909.3,776.9 914.6,776.3 916.4,772.8 C918.2,769.3 917.0,763.4 916.4,758.7 C915.8,754.0 912.9,749.3 912.9,744.6 C912.9,739.9 914.6,734.3 916.4,730.5 C918.2,726.7 922.3,723.2 923.5,721.7"/>
<path fill="#17c0e8" d="M848.1,845.9 C848.9,844.8 856.0,842.8 859.9,841.9 C863.8,841.0 867.3,840.8 871.6,840.4 C875.9,840.0 882.4,839.2 885.7,839.5 C889.0,839.8 891.6,841.5 891.6,842.3 C891.6,843.1 887.5,842.8 885.7,844.2 C883.9,845.6 882.4,850.1 881.0,850.6 C879.6,851.1 879.9,847.8 877.5,847.0 C875.1,846.2 870.6,845.7 866.9,845.9 C863.2,846.1 858.3,848.2 855.2,848.2 C852.1,848.2 847.3,847.0 848.1,845.9Z"/>
</g>
<path fill="none" stroke="#000" stroke-width="3" stroke-linejoin="round" d="M346.9,60.0 L350.4,52.9 L353.0,48.7 L356.3,45.9 L357.2,40.9 L357.5,37.6 L357.0,33.2 L356.3,29.4 L363.4,30.6 L370.4,28.2 L373.1,25.3 L377.5,22.3 L381.9,21.6 L388.1,21.2 L391.3,18.0 L396.3,16.5 L400.8,14.8 L405.7,11.8 L409.0,10.6 L413.9,10.6 L416.3,16.5 L421.3,19.7 L425.7,21.2 L428.2,25.1 L430.4,29.4 L434.3,31.4 L436.3,35.3 L441.7,36.6 L445.7,38.8 L449.7,41.0 L455.1,44.7 L456.3,49.4 L449.2,50.6 L454.1,52.0 L459.8,52.2 L463.3,53.1 L468.3,53.5 L472.2,53.7 L476.2,55.3 L480.1,55.1 L486.0,55.9 L490.4,56.4 L494.8,58.9 L500.0,61.1 L503.1,64.2 L507.0,68.5 L509.2,71.8 L512.9,75.2 L518.3,73.6 L523.5,70.5 L529.9,70.7 L535.3,71.7 L540.2,72.1 L542.9,74.5 L547.0,75.2 L545.9,82.3 L547.6,85.8 L550.6,89.4 L548.2,96.4 L551.7,103.5 L554.3,106.2 L558.8,108.2 L563.4,110.1 L567.0,111.7 L567.8,115.4 L567.0,119.9 L565.0,124.2 L562.3,128.2 L566.6,131.0 L570.5,134.0 L575.1,136.5 L578.3,137.5 L582.3,138.7 L585.0,142.1 L589.4,144.6 L592.0,149.1 L594.1,151.7 L598.6,152.4 L601.7,154.4 L605.8,155.2 L609.0,154.8 L613.4,153.8 L617.3,154.8 L622.3,154.0 L625.5,152.3 L629.9,152.4 L634.0,150.5 L637.3,149.8 L642.3,149.3 L645.3,153.0 L648.1,155.2 L651.1,159.5 L652.9,162.3 L659.9,165.8 L664.2,163.9 L669.3,162.3 L673.0,161.1 L678.1,157.7 L681.1,156.4 L684.6,158.2 L689.3,161.1 L689.4,165.2 L690.5,169.3 L693.0,172.4 L695.2,176.4 L702.2,174.0 L703.6,169.1 L706.9,164.6 L710.6,166.7 L715.7,168.9 L718.7,170.5 L719.9,174.8 L721.0,178.7 L722.9,181.7 L724.9,187.1 L725.7,190.5 L730.0,195.8 L732.8,199.9 L737.3,199.7 L742.2,199.9 L741.4,206.0 L742.2,211.6 L740.2,215.4 L739.3,220.3 L738.7,225.7 L736.6,229.6 L735.2,235.2 L736.6,238.0 L739.9,242.2 L743.8,240.8 L748.4,240.6 L754.0,238.7 L760.1,236.8 L765.7,236.3 L769.1,237.2 L773.3,237.9 L777.5,239.9 L782.9,239.7 L786.8,237.5 L791.6,236.3 L792.8,231.6 L797.3,232.6 L803.4,235.2 L808.9,233.5 L815.1,232.8 L820.5,231.0 L823.5,231.4 L829.2,229.3 L834.0,230.3 L838.6,232.8 L843.4,233.1 L848.0,235.2 L843.3,239.9 L843.8,245.6 L844.8,249.7 L844.5,254.0 L841.1,257.2 L838.6,261.0 L834.4,264.5 L831.6,266.9 L831.3,272.6 L830.5,276.5 L830.4,282.2 L830.6,279.1 L830.3,274.7 L829.2,270.0 L829.8,275.2 L828.7,279.4 L829.2,284.1 L828.5,287.9 L827.5,293.1 L828.0,298.2 L822.5,299.4 L818.8,299.7 L812.8,300.6 L812.5,305.7 L811.4,308.5 L808.7,312.4 L808.1,317.0 L808.6,321.1 L810.4,326.4 L805.9,329.6 L801.7,331.1 L796.3,333.5 L797.8,339.9 L798.6,345.2 L794.6,349.5 L793.2,353.6 L789.2,357.0 L793.3,360.5 L796.3,364.1 L798.0,369.4 L801.0,373.5 L803.6,377.0 L807.8,379.1 L809.7,383.2 L812.8,385.2 L819.8,381.7 L824.5,379.6 L827.5,378.2 L833.3,378.1 L836.1,376.7 L841.0,374.6 L844.3,370.8 L845.7,366.4 L850.1,367.7 L855.1,368.8 L854.9,372.5 L857.2,378.5 L856.9,383.8 L857.4,387.6 L855.1,394.6 L856.5,399.3 L858.9,401.9 L859.8,406.4 L860.9,410.7 L862.4,416.0 L864.5,420.5 L868.7,422.7 L873.2,426.1 L878.6,427.6 L874.5,429.4 L871.2,432.2 L867.2,434.1 L863.6,435.2 L859.8,437.0 L861.4,440.7 L862.8,445.8 L864.5,451.1 L867.4,453.3 L871.6,454.2 L876.2,455.8 L877.3,460.0 L877.1,464.0 L878.1,468.7 L878.6,472.2 L882.5,473.9 L887.5,474.9 L892.7,476.9 L894.4,481.6 L895.1,486.3 L900.0,488.7 L904.8,487.5 L909.4,485.2 L914.1,481.6 L916.5,486.3 L922.0,485.8 L926.1,485.6 L930.6,485.2 L935.3,486.4 L939.9,486.8 L944.7,487.5 L948.6,486.8 L952.9,485.1 L956.4,482.8 L963.5,482.8 L968.3,483.9 L971.4,486.8 L975.2,487.5 L980.6,485.6 L983.9,485.1 L989.4,484.0 L990.5,479.3 L986.7,475.2 L984.7,472.2 L984.1,468.4 L985.8,464.8 L984.8,460.3 L985.8,455.8 L990.3,454.5 L994.1,454.6 L999.0,453.8 L1002.3,451.1 L1001.7,446.1 L1002.3,439.3 L1006.8,438.1 L1011.7,437.0 L1012.4,429.9 L1017.7,429.6 L1021.1,428.0 L1024.6,432.3 L1028.6,432.7 L1034.0,433.4 L1041.1,431.1 L1045.2,429.0 L1049.3,427.6 L1055.2,429.9 L1054.0,434.2 L1054.0,439.3 L1059.9,441.7 L1062.1,445.4 L1063.4,451.1 L1067.0,454.1 L1069.5,457.0 L1074.0,460.5 L1080.1,461.1 L1085.8,461.7 L1089.8,462.7 L1095.6,461.7 L1097.2,466.9 L1096.9,469.8 L1098.7,474.6 L1098.8,479.9 L1100.3,483.3 L1101.8,488.7 L1101.9,493.6 L1102.9,496.5 L1101.8,501.9 L1102.7,505.2 L1103.4,512.2 L1106.5,515.7 L1102.2,519.3 L1102.7,525.1 L1097.5,519.3 L1095.3,523.2 L1092.8,526.3 L1088.1,531.0 L1086.7,534.8 L1086.9,540.4 L1081.1,545.1 L1077.9,547.3 L1074.0,549.8 L1069.3,554.5 L1066.1,551.9 L1064.6,547.5 L1062.5,544.6 L1059.9,540.4 L1054.4,540.0 L1050.5,538.1 L1043.4,540.4 L1040.2,537.6 L1038.7,533.4 L1035.1,530.1 L1031.7,527.5 L1027.1,529.0 L1022.3,528.7 L1024.6,521.6 L1018.3,522.1 L1012.9,524.0 L1008.3,522.9 L1003.5,522.8 L998.8,518.1 L993.9,516.8 L990.5,516.9 L984.4,515.7 L980.0,515.7 L975.2,518.1 L969.0,517.1 L963.5,516.9 L956.4,519.3 L952.2,519.4 L947.0,520.4 L942.3,525.1 L946.5,527.4 L950.6,531.0 L954.1,538.1 L949.4,542.8 L952.9,548.7 L957.9,548.3 L963.5,549.8 L967.7,548.8 L972.9,549.8 L974.0,554.6 L974.1,559.2 L972.9,564.5 L972.9,570.0 L976.1,572.8 L977.6,577.1 L977.0,581.7 L975.2,586.5 L970.5,590.7 L965.8,593.5 L967.2,597.4 L969.3,602.3 L970.5,605.3 L965.5,609.5 L961.1,612.3 L956.8,613.8 L951.5,614.4 L947.0,615.9 L941.4,616.0 L936.7,618.1 L932.4,617.9 L928.2,619.4 L926.2,624.0 L926.6,627.5 L924.7,631.1 L920.7,633.4 L917.2,636.6 L914.1,639.4 L908.7,641.6 L904.2,645.0 L900.0,646.4 L899.6,651.8 L897.4,657.0 L896.1,661.9 L895.5,664.6 L895.1,668.8 L892.9,674.4 L892.7,680.5 L896.3,684.1 L900.0,687.6 L904.1,690.0 L909.4,692.3 L912.3,693.4 L916.4,695.2 L921.2,697.0 L923.2,700.7 L927.0,706.4 L925.4,709.8 L924.8,714.3 L923.5,718.1 L929.4,722.9 L934.3,724.4 L938.6,726.0 L942.4,726.1 L947.0,727.6 L952.1,728.1 L955.7,730.2 L958.5,731.8 L963.5,732.3 L969.0,733.7 L972.9,734.6 L972.9,741.7 L968.1,744.1 L962.3,745.2 L962.2,749.3 L963.5,753.4 L967.6,754.7 L972.4,755.3 L976.0,756.0 L980.0,755.8 L983.9,751.5 L987.0,746.4 L994.1,745.2 L995.9,749.6 L998.8,755.8 L1005.8,758.1 L1009.8,757.8 L1015.2,758.1 L1016.2,763.5 L1018.8,767.5 L1019.7,772.5 L1020.6,777.3 L1021.1,781.6 L1020.8,785.3 L1021.1,791.5 L1020.2,795.8 L1019.9,800.5 L1017.9,803.5 L1015.7,807.8 L1012.9,812.2 L1008.9,814.5 L1007.1,817.1 L1003.5,820.4 L1000.0,822.2 L995.6,821.8 L991.7,822.8 L989.4,819.3 L987.0,823.6 L985.2,827.3 L982.3,831.0 L980.2,834.9 L977.6,840.4 L981.6,841.5 L987.5,843.1 L991.7,845.1 L994.2,848.8 L996.4,854.5 L999.6,854.0 L1005.0,854.9 L1009.1,854.1 L1012.9,854.5 L1017.6,854.1 L1022.2,853.0 L1027.0,853.4 L1032.1,852.6 L1036.6,853.9 L1039.0,852.7 L1044.9,853.5 L1048.5,851.9 L1052.9,852.2 L1056.4,853.7 L1060.5,853.5 L1064.5,854.0 L1069.3,854.5 L1074.3,852.3 L1078.2,851.6 L1082.4,850.6 L1085.8,848.7 L1086.4,845.3 L1088.1,840.4 L1095.2,839.3 L1099.9,844.0 L1104.6,843.5 L1108.3,844.9 L1113.9,845.0 L1118.0,845.5 L1123.4,846.3 L1128.9,846.4 L1135.2,845.1 L1137.5,839.3 L1138.9,843.3 L1142.2,846.3 L1142.1,849.8 L1141.5,855.3 L1139.9,859.2 L1145.4,862.3 L1149.3,866.3 L1144.6,870.0 L1148.4,870.4 L1153.8,871.4 L1156.6,871.7 L1161.0,872.4 L1164.5,872.3 L1168.1,874.6 L1172.8,874.7 L1177.1,875.6 L1182.2,874.7 L1186.4,877.8 L1191.6,881.8 L1197.5,881.2 L1203.4,881.8 L1208.1,886.5 L1206.6,892.1 L1205.7,895.9 L1207.1,902.4 L1206.9,907.6 L1204.2,911.4 L1201.0,913.5 L1199.5,917.1 L1196.7,919.7 L1193.9,924.1 L1191.6,931.1 L1189.7,934.6 L1186.9,938.2 L1189.2,943.2 L1190.4,947.6 L1192.8,954.7 L1188.8,956.1 L1186.6,958.6 L1182.2,961.7 L1179.8,964.9 L1177.5,968.8 L1173.0,970.4 L1169.3,971.1 L1170.8,976.5 L1170.4,982.9 L1168.4,986.0 L1165.7,989.9 L1161.0,994.6 L1158.7,1000.5 L1151.6,1001.7 L1149.4,996.8 L1146.9,992.3 L1139.9,993.5 L1135.1,995.7 L1131.6,999.3 L1128.1,1003.7 L1125.7,1006.4 L1121.0,1006.2 L1117.1,1008.2 L1111.6,1007.6 L1109.3,1008.7 L1112.1,1012.1 L1115.2,1017.0 L1111.6,1020.3 L1109.3,1025.2 L1111.9,1027.9 L1115.2,1032.3 L1121.0,1033.4 L1125.8,1030.6 L1131.6,1028.7 L1132.3,1034.8 L1132.8,1039.3 L1134.1,1043.1 L1134.2,1047.2 L1135.2,1051.1 L1136.7,1055.5 L1138.7,1060.5 L1142.2,1065.2 L1149.3,1068.7 L1143.7,1070.6 L1139.9,1073.4 L1135.2,1069.9 L1131.4,1069.2 L1125.7,1069.9 L1121.0,1072.5 L1116.3,1074.6 L1110.5,1078.1 L1109.4,1082.8 L1106.9,1088.7 L1100.6,1087.6 L1095.2,1087.5 L1090.3,1086.2 L1085.8,1085.2 L1082.8,1084.7 L1078.7,1081.8 L1074.0,1081.6 L1068.4,1083.8 L1064.6,1085.2 L1061.9,1082.2 L1057.6,1079.3 L1053.8,1077.5 L1049.5,1078.6 L1045.8,1076.9 L1042.4,1075.3 L1037.6,1072.2 L1033.8,1074.0 L1028.2,1076.9 L1023.3,1079.2 L1019.9,1082.8 L1020.3,1087.5 L1021.6,1091.8 L1021.1,1095.7 L1024.3,1101.0 L1027.0,1105.2 L1032.9,1109.9 L1029.3,1111.9 L1024.9,1114.3 L1022.3,1115.7 L1016.5,1118.9 L1011.7,1120.4 L1013.7,1124.2 L1015.2,1128.7 L1022.3,1126.3 L1019.2,1130.5 L1017.6,1135.7 L1019.4,1140.0 L1020.0,1142.7 L1022.3,1147.5 L1023.5,1153.5 L1024.6,1159.2 L1023.8,1164.1 L1023.5,1170.1 L1024.0,1164.0 L1023.8,1159.8 L1024.5,1154.7 L1026.0,1159.7 L1025.7,1164.1 L1024.7,1168.2 L1022.2,1172.3 L1017.0,1173.0 L1012.8,1174.7 L1011.6,1180.6 L1008.1,1187.6 L1005.9,1190.8 L1001.4,1192.2 L998.6,1195.9 L994.5,1198.6 L990.4,1200.6 L987.3,1203.0 L984.5,1206.4 L985.7,1213.5 L986.6,1219.1 L986.9,1222.9 L982.2,1228.8 L977.0,1230.8 L972.8,1234.7 L970.1,1238.0 L968.1,1241.7 L964.9,1244.6 L961.0,1248.8 L955.1,1246.4 L950.4,1248.6 L944.6,1249.9 L941.1,1252.9 L937.5,1257.0 L934.3,1259.6 L929.3,1262.9 L925.7,1267.6 L925.8,1272.9 L924.6,1279.3 L919.9,1280.4 L916.3,1280.5 L911.2,1282.0 L906.9,1281.7 L902.2,1281.7 L897.5,1282.9 L894.0,1285.6 L891.7,1288.7 L885.8,1287.6 L878.7,1285.2 L879.3,1290.2 L879.2,1293.4 L878.8,1297.9 L879.9,1302.9 L874.0,1302.9 L868.7,1302.6 L864.6,1300.5 L859.8,1300.8 L856.4,1302.9 L853.2,1306.2 L851.7,1309.9 L848.1,1306.4 L841.1,1305.2 L835.2,1301.7 L835.4,1298.3 L834.0,1293.4 L837.6,1286.4 L835.1,1283.8 L831.7,1279.3 L827.0,1274.6 L823.2,1274.1 L817.6,1274.2 L812.9,1269.9 L808.7,1268.4 L805.8,1265.2 L798.8,1266.4 L791.7,1267.6 L787.5,1268.1 L782.3,1270.4 L777.9,1271.1 L772.9,1272.3 L767.9,1269.6 L763.5,1267.6 L758.7,1265.4 L755.3,1265.2 L750.7,1265.5 L747.0,1266.4 L742.3,1268.8 L738.5,1269.5 L732.9,1271.8 L729.7,1269.1 L724.7,1267.6 L722.3,1260.5 L718.5,1258.8 L715.3,1255.8 L711.8,1257.4 L707.1,1259.3 L700.0,1262.9 L695.1,1262.0 L691.7,1262.1 L688.0,1260.5 L685.7,1253.5 L685.1,1249.1 L685.7,1245.2 L678.6,1242.9 L671.5,1240.5 L666.8,1235.8 L668.8,1230.8 L669.2,1227.6 L666.8,1221.7 L662.1,1217.0 L659.6,1214.1 L657.4,1210.0 L659.8,1206.4 L660.9,1201.4 L661.0,1198.2 L655.9,1197.9 L652.7,1199.4 L650.6,1202.4 L646.9,1206.4 L642.2,1202.9 L638.6,1197.0 L634.4,1199.6 L629.2,1200.6 L626.9,1204.1 L619.8,1201.7 L616.3,1198.2 L618.3,1193.6 L621.0,1190.0 L619.8,1185.3 L613.9,1180.6 L610.7,1179.6 L605.7,1178.2 L601.3,1179.8 L597.5,1180.1 L593.9,1181.7 L589.4,1184.6 L586.9,1186.4 L588.1,1193.5 L585.4,1196.1 L581.0,1198.2 L578.4,1200.2 L574.0,1204.1 L577.6,1206.4 L582.2,1208.8 L586.6,1212.1 L589.2,1213.5 L584.9,1216.5 L581.0,1220.5 L583.4,1225.2 L584.5,1232.3 L579.7,1233.9 L576.0,1234.8 L570.4,1237.0 L565.2,1238.1 L558.7,1238.2 L551.6,1240.5 L548.1,1246.4 L543.4,1248.1 L537.5,1248.8 L533.6,1250.2 L529.3,1252.3 L524.2,1255.5 L519.9,1259.3 L516.3,1265.2 L509.3,1267.6 L502.2,1266.4 L500.4,1262.0 L497.5,1259.3 L490.5,1260.5 L486.9,1267.6 L483.4,1260.5 L476.4,1259.3 L475.2,1253.5 L471.6,1251.1 L469.3,1247.6 L472.9,1243.2 L477.5,1240.5 L472.5,1238.3 L469.3,1235.8 L474.0,1232.3 L476.4,1225.2 L479.6,1223.8 L483.4,1220.5 L488.1,1214.7 L493.0,1212.5 L496.4,1208.3 L502.2,1210.0 L505.9,1206.8 L510.5,1205.3 L511.6,1200.6 L517.5,1197.0 L519.6,1193.5 L523.4,1190.0 L526.8,1186.3 L529.3,1182.9 L529.9,1178.6 L531.6,1174.7 L529.3,1168.8 L522.2,1166.5 L518.3,1168.0 L514.0,1168.8 L513.9,1164.2 L512.8,1158.2 L509.0,1158.0 L504.6,1159.4 L502.5,1155.0 L499.0,1151.5 L494.9,1149.1 L490.5,1147.2 L485.4,1144.8 L479.3,1143.7 L474.6,1143.0 L470.1,1144.0 L466.6,1143.0 L463.0,1144.1 L458.9,1146.8 L455.3,1147.2 L453.5,1150.4 L451.7,1154.7 L451.1,1159.7 L449.3,1164.1 L449.5,1167.2 L447.7,1172.6 L447.0,1175.9 L443.4,1182.9 L436.4,1185.3 L432.4,1186.7 L427.0,1186.4 L422.1,1188.0 L418.4,1189.7 L415.2,1192.3 L412.2,1194.0 L408.3,1195.2 L403.5,1197.0 L400.3,1198.5 L395.2,1200.7 L391.7,1201.7 L387.9,1204.5 L382.3,1208.8 L377.8,1211.4 L372.9,1213.5 L368.2,1210.0 L364.7,1206.8 L362.3,1204.1 L357.5,1202.9 L354.1,1202.9 L349.3,1203.1 L345.8,1202.3 L341.2,1202.9 L339.6,1197.9 L340.0,1193.5 L339.8,1188.8 L338.8,1185.3 L335.5,1181.2 L332.9,1178.2 L330.0,1173.6 L325.9,1168.8 L325.6,1163.3 L327.0,1159.4 L328.0,1154.8 L329.4,1150.0 L328.1,1156.9 L328.8,1151.4 L328.2,1147.9 L329.3,1142.8 L327.3,1137.7 L325.7,1133.4 L324.5,1129.6 L323.8,1124.1 L323.4,1119.3 L322.5,1113.2 L322.2,1107.5 L319.4,1106.2 L314.9,1102.2 L311.6,1100.5 L308.6,1095.8 L304.6,1092.2 L300.1,1090.1 L297.5,1086.3 L291.5,1085.8 L285.8,1084.0 L285.8,1076.9 L283.6,1073.8 L281.8,1068.4 L279.9,1065.2 L285.8,1060.5 L288.9,1058.3 L294.0,1055.8 L290.2,1054.3 L285.8,1051.1 L283.8,1046.6 L283.4,1041.7 L285.5,1037.6 L288.1,1033.4 L283.4,1032.3 L280.3,1027.2 L278.7,1022.9 L276.4,1019.0 L274.0,1013.4 L267.4,1012.2 L262.3,1011.1 L261.3,1008.1 L258.6,1002.5 L257.6,999.3 L254.9,995.6 L250.5,989.9 L251.3,983.9 L253.0,979.5 L252.9,974.6 L259.6,974.3 L264.6,973.5 L269.9,970.5 L274.0,968.8 L275.2,961.7 L273.4,957.6 L270.5,954.7 L272.1,950.6 L274.0,945.2 L278.8,942.8 L281.7,941.5 L286.4,939.7 L290.5,938.2 L294.4,934.1 L299.9,931.1 L304.2,930.0 L306.8,927.4 L311.6,925.3 L316.4,923.2 L320.9,922.1 L324.6,921.7 L323.0,917.1 L321.0,912.3 L317.4,909.9 L313.0,908.5 L309.3,906.4 L304.9,905.2 L300.6,903.1 L296.4,901.7 L295.2,895.9 L290.3,893.8 L287.3,890.6 L283.4,888.8 L281.6,885.5 L278.6,880.4 L276.4,877.1 L272.4,877.1 L267.8,878.5 L264.6,879.4 L259.9,880.9 L256.8,881.6 L252.9,884.1 L250.2,879.7 L247.5,877.6 L244.1,872.6 L241.1,870.0 L236.4,866.2 L231.7,862.8 L228.7,860.9 L224.5,861.4 L219.9,859.2 L218.0,863.5 L214.6,867.4 L212.9,870.1 L209.3,875.1 L205.8,878.2 L203.5,874.8 L200.1,873.7 L196.4,870.1 L194.4,865.6 L194.1,861.6 L193.4,856.2 L191.7,852.2 L189.0,849.4 L184.7,847.5 L180.6,845.6 L175.2,845.1 L175.2,838.1 L172.9,834.2 L170.5,828.7 L165.2,828.2 L161.1,828.7 L157.0,827.1 L152.9,826.3 L153.2,819.8 L155.3,814.6 L155.2,809.6 L156.4,802.8 L155.6,799.7 L153.4,795.5 L152.9,791.0 L155.7,788.3 L160.2,785.3 L163.5,782.8 L166.0,778.8 L167.0,774.6 L168.9,770.7 L170.5,765.2 L173.6,764.6 L178.6,761.9 L182.3,760.5 L181.1,755.9 L178.8,752.2 L182.3,746.4 L186.8,743.6 L189.4,740.5 L193.8,739.8 L198.8,738.1 L202.6,735.5 L207.1,733.3 L210.5,732.3 L215.1,729.0 L218.6,727.7 L222.3,724.0 L228.2,720.5 L232.7,720.8 L236.4,719.5 L241.1,720.5 L244.9,719.2 L250.5,719.3 L255.4,719.6 L259.9,720.9 L264.6,720.5 L268.1,719.5 L273.4,718.6 L276.3,718.8 L280.8,718.3 L285.8,718.1 L285.8,711.1 L282.2,706.4 L282.2,701.9 L283.4,697.0 L285.9,691.7 L288.1,687.6 L287.7,682.8 L286.9,678.2 L287.8,675.1 L289.6,669.6 L291.7,666.4 L289.3,664.1 L287.9,658.5 L288.1,652.3 L292.8,647.6 L292.4,643.5 L290.5,638.2 L291.1,633.8 L291.1,630.6 L292.8,626.4 L291.8,621.4 L290.5,617.0 L289.0,612.2 L286.9,607.6 L288.4,603.4 L288.1,598.2 L286.4,594.3 L285.8,588.8 L283.7,584.2 L283.4,579.4 L282.1,574.2 L281.1,570.1 L279.0,565.2 L278.7,559.2 L276.6,554.6 L276.4,549.8 L279.9,542.8 L276.7,540.9 L271.7,540.4 L269.3,533.4 L272.2,531.3 L276.4,528.7 L281.1,527.0 L286.4,524.1 L290.5,522.8 L283.4,525.1 L278.3,527.7 L274.0,531.0 L268.1,535.7 L265.4,540.6 L264.6,544.0 L259.3,543.8 L252.9,542.8 L250.5,548.7 L246.0,546.4 L243.4,542.8 L239.2,543.3 L234.0,544.0 L231.0,547.4 L227.0,551.0 L225.3,555.5 L224.6,561.6 L217.6,563.9 L212.4,563.0 L207.9,564.4 L203.9,564.6 L198.8,563.9 L195.7,558.7 L191.7,554.5 L189.5,550.8 L187.6,547.5 L184.2,544.2 L182.3,540.4 L180.1,536.7 L176.8,533.2 L172.9,531.0 L167.7,527.5 L163.5,525.1 L159.3,526.0 L154.6,524.8 L149.4,525.1 L146.2,525.6 L141.0,527.5 L137.6,527.5 L134.0,526.3 L130.1,525.3 L125.9,522.8 L121.1,522.3 L116.9,521.2 L111.8,519.3 L110.5,515.0 L109.4,509.9 L110.7,504.8 L111.8,500.5 L105.9,495.7 L105.7,490.7 L105.8,486.1 L107.0,480.0 L105.8,472.3 L112.9,469.9 L109.3,465.2 L107.6,459.3 L111.7,457.6 L109.9,453.5 L104.6,453.5 L98.8,449.9 L96.4,444.6 L91.7,443.5 L86.3,442.9 L82.3,444.1 L76.8,444.4 L72.9,442.9 L66.4,441.1 L70.5,438.2 L69.4,434.6 L64.9,433.3 L61.1,433.5 L54.1,432.3 L47.0,435.8 L44.7,432.3 L38.8,428.8 L32.9,427.0 L32.9,420.5 L35.3,419.4 L34.1,414.7 L41.2,414.1 L44.7,411.1 L40.6,407.6 L38.8,400.5 L34.7,397.0 L36.4,390.0 L33.5,386.4 L38.8,384.7 L44.1,380.6 L47.3,380.2 L52.3,381.7 L55.3,386.4 L58.8,393.5 L65.8,397.0 L72.9,395.8 L76.4,398.8 L82.3,397.0 L89.4,400.5 L96.4,398.8 L101.1,397.0 L102.3,392.3 L108.2,388.8 L113.3,387.9 L117.6,386.4 L123.5,384.7 L128.0,384.9 L131.7,384.1 L135.2,382.3 L134.0,374.7 L135.2,367.6 L141.1,365.3 L142.3,359.4 L142.3,353.7 L144.0,347.6 L144.3,343.9 L145.8,339.8 L145.8,334.7 L143.4,330.0 L138.8,324.1 L137.9,320.1 L139.6,315.6 L138.8,310.0 L144.7,306.4 L144.7,301.5 L145.5,296.9 L147.0,293.5 L153.0,293.0 L157.6,291.2 L160.2,287.4 L162.3,282.2 L167.9,280.0 L172.9,278.7 L178.0,278.4 L184.7,279.8 L189.9,278.0 L193.7,277.3 L198.8,276.3 L201.8,275.4 L206.4,275.8 L210.5,274.6 L215.7,274.5 L218.8,274.0 L217.5,269.9 L213.9,265.2 L212.9,261.0 L210.4,256.8 L208.2,251.6 L208.4,247.3 L209.3,242.2 L205.8,235.2 L203.5,230.5 L201.1,226.9 L205.8,225.3 L209.6,224.7 L212.9,224.6 L212.5,219.9 L214.1,216.3 L216.4,213.2 L217.6,208.1 L215.2,202.2 L209.9,202.2 L206.6,202.8 L202.3,202.2 L195.2,199.9 L196.9,195.2 L199.9,190.5 L201.4,185.9 L203.5,179.9 L203.6,176.7 L204.6,171.7 L206.5,167.0 L209.3,163.4 L215.0,162.8 L219.9,162.3 L221.1,156.4 L224.6,156.4 L228.9,156.5 L234.0,155.7 L238.5,154.6 L242.3,152.4 L247.9,153.5 L252.9,155.2 L257.4,155.0 L262.3,155.2 L266.6,157.9 L269.3,162.3 L271.8,165.1 L272.8,169.8 L278.7,164.6 L283.4,168.1 L287.5,168.0 L292.8,168.8 L298.3,170.8 L302.2,172.8 L304.9,177.7 L308.1,181.1 L305.2,184.5 L303.4,188.1 L304.6,195.2 L308.2,198.1 L311.6,199.9 L316.3,204.3 L319.9,208.1 L321.0,214.0 L323.4,219.9 L327.8,223.1 L332.8,226.9 L335.2,230.4 L339.4,232.9 L342.2,235.2 L343.3,239.2 L345.7,243.4 L352.8,243.4 L358.7,239.9 L362.7,237.7 L365.7,235.2 L368.5,237.5 L372.8,239.9 L374.0,235.2 L378.9,232.9 L382.2,231.6 L385.7,228.9 L390.4,226.9 L396.1,227.6 L401.0,226.9 L403.9,223.3 L408.1,221.0 L415.1,221.0 L415.2,214.8 L416.3,209.3 L420.4,206.9 L424.5,205.8 L428.1,204.0 L433.3,203.9 L436.3,202.2 L440.2,202.0 L445.7,199.9 L449.2,193.3 L452.5,195.2 L457.4,197.5 L462.9,199.3 L466.4,199.9 L467.1,195.1 L466.8,190.5 L467.1,184.9 L468.7,178.7 L464.1,175.2 L461.0,172.8 L457.8,167.8 L455.1,164.6 L452.5,160.5 L450.4,155.2 L447.8,151.7 L444.5,148.1 L441.8,144.5 L438.6,141.1 L441.0,134.0 L443.2,131.3 L446.9,128.2 L444.4,123.4 L442.2,117.6 L445.7,110.5 L449.7,106.9 L452.0,103.5 L445.7,99.9 L439.9,100.0 L433.9,99.2 L430.2,100.8 L426.9,103.5 L422.6,103.1 L417.5,101.1 L410.4,103.5 L406.6,104.3 L402.5,104.6 L397.5,104.6 L401.0,98.8 L397.7,95.2 L393.9,91.7 L389.6,90.8 L385.3,89.2 L382.2,88.2 L377.5,82.3 L370.4,78.8 L365.7,78.6 L359.8,77.6 L358.7,70.5 L352.8,65.8 L350.1,62.4Z"/>
<g class="city">
<text x="144.6" y="378.3">界首</text>
<text x="223.0" y="404.0">太和</text>
<text x="436.0" y="371.2">蒙城</text>
<text x="132.5" y="433.0">临泉</text>
<text x="552.5" y="280.6">宿州</text>
<text x="243.0" y="470.2">阜阳</text>
<text x="684.5" y="292.6">灵璧</text>
<text x="771.5" y="321.8">泗县</text>
<text x="643.2" y="355.4">固镇</text>
<text x="763.0" y="399.5">五河</text>
<text x="605.4" y="441.8">怀远</text>
<text x="630.5" y="474.8">蚌埠</text>
<text x="692.6" y="474.8">凤阳</text>
<text x="799.4" y="486.8">明光</text>
<text x="202.5" y="519.6">阜南</text>
<text x="366.0" y="523.1">颍上</text>
<text x="498.8" y="507.2">凤台</text>
<text x="560.4" y="524.8">淮南</text>
<text x="383.8" y="593.6">霍邱</text>
<text x="503.6" y="577.1">寿县</text>
<text x="280.4" y="763.0">金寨</text>
<text x="433.8" y="750.6">六安</text>
<text x="594.2" y="568.2">长丰</text>
<text x="722.0" y="551.3">定远</text>
<text x="907.5" y="568.9">来安</text>
<text x="866.0" y="597.2">滁州</text>
<text x="873.7" y="655.4">全椒</text>
<text x="672.3" y="713.6">肥东</text>
<text x="631.4" y="737.2">合肥</text>
<text x="569.2" y="757.8">肥西</text>
<text x="823.8" y="745.3">含山</text>
<text x="893.6" y="748.1">和县</text>
<text x="943.9" y="757.7">马鞍山</text>
<text x="387.5" y="831.9">霍山</text>
<text x="535.6" y="816.0">舒城</text>
<text x="544.7" y="914.8">桐城</text>
<text x="400.8" y="964.2">岳西</text>
<text x="405.6" y="995.9">天柱山</text>
<text x="444.9" y="1015.3">潜山</text>
<text x="511.2" y="992.4">怀宁</text>
<text x="548.0" y="1025.8">安庆</text>
<text x="387.7" y="1070.6">太湖</text>
<text x="762.6" y="786.1">巢湖</text>
<text x="931.3" y="790.6">当涂</text>
<text x="895.6" y="835.4">芜湖</text>
<text x="771.3" y="848.5">无为</text>
<text x="626.9" y="865.4">庐江</text>
<text x="848.4" y="909.5">繁昌</text>
<text x="952.3" y="902.5">湾沚区</text>
<text x="766.0" y="934.9">铜陵</text>
<text x="882.9" y="957.1">南陵</text>
<text x="614.5" y="1001.2">枞阳</text>
<text x="680.1" y="1018.2">池州</text>
<text x="770.6" y="1021.7">青阳</text>
<text x="902.8" y="1009.3">泾县</text>
<text x="738.1" y="1059.4">九华山</text>
<text x="1096.5" y="890.1">郎溪</text>
<text x="989.5" y="948.3">宣城</text>
<text x="1154.3" y="964.2">广德</text>
<text x="1046.8" y="1025.9">宁国</text>
<text x="680.0" y="1124.0">石台</text>
<text x="474.6" y="1144.4">望江</text>
<text x="560.5" y="1152.9">东至</text>
<text x="829.8" y="1145.1">黄山</text>
<text x="947.2" y="1157.5">绩溪</text>
<text x="787.0" y="1193.8">黟县</text>
<text x="341.8" y="1136.3">宿松</text>
<text x="391.5" y="76.8">砀山</text>
<text x="548.0" y="143.5">萧县</text>
<text x="515.0" y="191.8">淮北</text>
<text x="486.8" y="223.6">濉溪</text>
<text x="243.0" y="241.2">亳州</text>
<text x="354.5" y="316.6">涡阳</text>
<text x="358.7" y="401.6">利辛</text>
<text x="1054.0" y="514.7">天长</text>
<text x="251.7" y="901.5">天堂寨</text>
<text x="837.0" y="1103.2">黄山区</text>
<text x="935.4" y="1103.2">旌德</text>
<text x="733.0" y="1214.7">祁门</text>
<text x="910.8" y="1211.2">歙县</text>
<text x="847.6" y="1229.9">休宁</text>
<text x="873.7" y="1265.9">黄山市</text>
<text x="782.8" y="1058.3" font-size="25.5">▲</text>
<text x="862.8" y="1145.2" font-size="25.5">▲</text>
</g><defs>
<text id="n0" transform="translate(144.6,354.9) scale(0.945,1)">0.8</text>
<text id="n1" transform="translate(223.0,380.6) scale(0.945,1)">0.4</text>
<text id="n2" transform="translate(436.0,347.8) scale(0.945,1)">0.1</text>
<text id="n3" transform="translate(132.5,409.6) scale(0.945,1)">0.9</text>
<text id="n4" transform="translate(552.5,257.2) scale(0.945,1)">0.4</text>
<text id="n5" transform="translate(243.0,446.8) scale(0.945,1)">3.1</text>
<text id="n6" transform="translate(684.5,269.2) scale(0.945,1)">2.0</text>
<text id="n7" transform="translate(771.5,298.4) scale(0.945,1)">20.6</text>
<text id="n8" transform="translate(643.2,332.0) scale(0.945,1)">21.4</text>
<text id="n9" transform="translate(763.0,376.1) scale(0.945,1)">18.2</text>
<text id="n10" transform="translate(605.4,418.4) scale(0.945,1)">20.4</text>
<text id="n11" transform="translate(630.5,451.4) scale(0.945,1)">35.6</text>
<text id="n12" transform="translate(692.6,451.4) scale(0.945,1)">32.7</text>
<text id="n13" transform="translate(799.4,463.4) scale(0.945,1)">4.3</text>
<text id="n14" transform="translate(202.5,496.2) scale(0.945,1)">8.6</text>
<text id="n15" transform="translate(366.0,499.7) scale(0.945,1)">3.1</text>
<text id="n16" transform="translate(498.8,483.8) scale(0.945,1)">99.4</text>
<text id="n17" transform="translate(560.4,501.4) scale(0.945,1)">23.0</text>
<text id="n18" transform="translate(383.8,570.2) scale(0.945,1)">24.5</text>
<text id="n19" transform="translate(503.6,553.7) scale(0.945,1)">10.5</text>
<text id="n20" transform="translate(280.4,739.6) scale(0.945,1)">33.2</text>
<text id="n21" transform="translate(433.8,727.2) scale(0.945,1)">13.2</text>
<text id="n22" transform="translate(594.2,544.8) scale(0.945,1)">33.2</text>
<text id="n23" transform="translate(722.0,527.9) scale(0.945,1)">13.5</text>
<text id="n24" transform="translate(907.5,545.5) scale(0.945,1)">24.2</text>
<text id="n25" transform="translate(866.0,573.8) scale(0.945,1)">33.8</text>
<text id="n26" transform="translate(873.7,632.0) scale(0.945,1)">2.5</text>
<text id="n27" transform="translate(672.3,690.2) scale(0.945,1)">7.1</text>
<text id="n28" transform="translate(631.4,713.8) scale(0.945,1)">16.9</text>
<text id="n29" transform="translate(569.2,734.4) scale(0.945,1)">5.2</text>
<text id="n30" transform="translate(823.8,721.9) scale(0.945,1)">4.6</text>
<text id="n31" transform="translate(893.6,724.7) scale(0.945,1)">4.8</text>
<text id="n32" transform="translate(943.9,734.3) scale(0.945,1)">6.2</text>
<text id="n33" transform="translate(387.5,808.5) scale(0.945,1)">9.9</text>
<text id="n34" transform="translate(535.6,792.6) scale(0.945,1)">7.2</text>
<text id="n35" transform="translate(544.7,891.4) scale(0.945,1)">42.4</text>
<text id="n36" transform="translate(400.8,940.8) scale(0.945,1)">1.9</text>
<text id="n37" transform="translate(417.6,972.5) scale(0.945,1)">2.1</text>
<text id="n38" transform="translate(444.9,991.9) scale(0.945,1)">0.8</text>
<text id="n39" transform="translate(511.2,969.0) scale(0.945,1)">8.5</text>
<text id="n40" transform="translate(548.0,1002.4) scale(0.945,1)">3.7</text>
<text id="n41" transform="translate(387.7,1047.2) scale(0.945,1)">2.0</text>
<text id="n42" transform="translate(762.6,762.7) scale(0.945,1)">4.3</text>
<text id="n43" transform="translate(931.3,767.2) scale(0.945,1)">10.1</text>
<text id="n44" transform="translate(895.6,812.0) scale(0.945,1)">25.9</text>
<text id="n45" transform="translate(771.3,825.1) scale(0.945,1)">18.0</text>
<text id="n46" transform="translate(626.9,842.0) scale(0.945,1)">7.2</text>
<text id="n47" transform="translate(848.4,886.1) scale(0.945,1)">90.8</text>
<text id="n48" transform="translate(952.3,879.1) scale(0.945,1)">60.6</text>
<text id="n49" transform="translate(766.0,911.5) scale(0.945,1)">81.1</text>
<text id="n50" transform="translate(882.9,933.7) scale(0.945,1)">12.4</text>
<text id="n51" transform="translate(614.5,977.8) scale(0.945,1)">5.5</text>
<text id="n52" transform="translate(680.1,994.8) scale(0.945,1)">6.6</text>
<text id="n53" transform="translate(770.6,998.3) scale(0.945,1)">3.0</text>
<text id="n54" transform="translate(902.8,985.9) scale(0.945,1)">0.9</text>
<text id="n55" transform="translate(750.4,1036.0) scale(0.945,1)">1.2</text>
<text id="n56" transform="translate(1096.5,866.7) scale(0.945,1)">11.7</text>
<text id="n57" transform="translate(989.5,924.9) scale(0.945,1)">21.2</text>
<text id="n58" transform="translate(1154.3,940.8) scale(0.945,1)">1.3</text>
<text id="n59" transform="translate(1046.8,1002.5) scale(0.945,1)">1.0</text>
<text id="n60" transform="translate(680.0,1100.6) scale(0.945,1)">8.2</text>
<text id="n61" transform="translate(474.6,1121.0) scale(0.945,1)">8.0</text>
<text id="n62" transform="translate(560.5,1129.5) scale(0.945,1)">27.3</text>
<text id="n63" transform="translate(841.0,1121.7) scale(0.945,1)">0.2</text>
<text id="n64" transform="translate(947.2,1134.1) scale(0.945,1)">0.1</text>
<text id="n65" transform="translate(787.0,1170.4) scale(0.945,1)">0.2</text>
<text id="n66" transform="translate(341.8,1112.9) scale(0.945,1)">6.8</text>
</defs><g class="num" aria-hidden="true">
<use href="#n0"/>
<use href="#n1"/>
<use href="#n2"/>
<use href="#n3"/>
<use href="#n4"/>
<use href="#n5"/>
<use href="#n6"/>
<use href="#n7"/>
<use href="#n8"/>
<use href="#n9"/>
<use href="#n10"/>
<use href="#n11"/>
<use href="#n12"/>
<use href="#n13"/>
<use href="#n14"/>
<use href="#n15"/>
<use href="#n16"/>
<use href="#n17"/>
<use href="#n18"/>
<use href="#n19"/>
<use href="#n20"/>
<use href="#n21"/>
<use href="#n22"/>
<use href="#n23"/>
<use href="#n24"/>
<use href="#n25"/>
<use href="#n26"/>
<use href="#n27"/>
<use href="#n28"/>
<use href="#n29"/>
<use href="#n30"/>
<use href="#n31"/>
<use href="#n32"/>
<use href="#n33"/>
<use href="#n34"/>
<use href="#n35"/>
<use href="#n36"/>
<use href="#n37"/>
<use href="#n38"/>
<use href="#n39"/>
<use href="#n40"/>
<use href="#n41"/>
<use href="#n42"/>
<use href="#n43"/>
<use href="#n44"/>
<use href="#n45"/>
<use href="#n46"/>
<use href="#n47"/>
<use href="#n48"/>
<use href="#n49"/>
<use href="#n50"/>
<use href="#n51"/>
<use href="#n52"/>
<use href="#n53"/>
<use href="#n54"/>
<use href="#n55"/>
<use href="#n56"/>
<use href="#n57"/>
<use href="#n58"/>
<use href="#n59"/>
<use href="#n60"/>
<use href="#n61"/>
<use href="#n62"/>
<use href="#n63"/>
<use href="#n64"/>
<use href="#n65"/>
<use href="#n66"/>
</g><g class="num2">
<use href="#n0"/>
<use href="#n1"/>
<use href="#n2"/>
<use href="#n3"/>
<use href="#n4"/>
<use href="#n5"/>
<use href="#n6"/>
<use href="#n7"/>
<use href="#n8"/>
<use href="#n9"/>
<use href="#n10"/>
<use href="#n11"/>
<use href="#n12"/>
<use href="#n13"/>
<use href="#n14"/>
<use href="#n15"/>
<use href="#n16"/>
<use href="#n17"/>
<use href="#n18"/>
<use href="#n19"/>
<use href="#n20"/>
<use href="#n21"/>
<use href="#n22"/>
<use href="#n23"/>
<use href="#n24"/>
<use href="#n25"/>
<use href="#n26"/>
<use href="#n27"/>
<use href="#n28"/>
<use href="#n29"/>
<use href="#n30"/>
<use href="#n31"/>
<use href="#n32"/>
<use href="#n33"/>
<use href="#n34"/>
<use href="#n35"/>
<use href="#n36"/>
<use href="#n37"/>
<use href="#n38"/>
<use href="#n39"/>
<use href="#n40"/>
<use href="#n41"/>
<use href="#n42"/>
<use href="#n43"/>
<use href="#n44"/>
<use href="#n45"/>
<use href="#n46"/>
<use href="#n47"/>
<use href="#n48"/>
<use href="#n49"/>
<use href="#n50"/>
<use href="#n51"/>
<use href="#n52"/>
<use href="#n53"/>
<use href="#n54"/>
<use href="#n55"/>
<use href="#n56"/>
<use href="#n57"/>
<use href="#n58"/>
<use href="#n59"/>
<use href="#n60"/>
<use href="#n61"/>
<use href="#n62"/>
<use href="#n63"/>
<use href="#n64"/>
<use href="#n65"/>
<use href="#n66"/>
</g>
<text class="serif" x="974.0" y="65.0" font-size="48" text-anchor="middle" textLength="384.0" lengthAdjust="spacing" fill="#ff0000">安徽省降水量实况</text>
<text class="serif" font-size="27" text-anchor="middle" xml:space="preserve"><tspan x="773.2 787.0" y="106.7" font-size="27.9">07</tspan><tspan x="807.6" y="107.5">月</tspan><tspan x="828.2 842.0" y="106.7" font-size="27.9">14</tspan><tspan x="862.6" y="107.5">日</tspan><tspan x="883.2 897.0 910.8 924.5 938.2 952.0 965.8 979.5 993.2 1007.0" y="106.7" font-size="27.9">(07:00)-07</tspan><tspan x="1027.6" y="107.5">月</tspan><tspan x="1048.2 1062.0" y="106.7" font-size="27.9">15</tspan><tspan x="1082.6" y="107.5">日</tspan><tspan x="1103.2 1117.0 1130.8 1144.5 1158.2 1172.0 1185.8" y="106.7" font-size="27.9">(07:00)</tspan></text>
<text class="sans" x="1267.5" y="87.0" font-size="30" textLength="120.5" lengthAdjust="spacing">统计信息</text>
<text class="serif" font-size="27" text-anchor="middle" xml:space="preserve"><tspan x="1307.1 1334.5 1361.8" y="125.5">降水量</tspan></text>
<text class="serif" font-size="27" text-anchor="middle" xml:space="preserve"><tspan x="1451.3 1478.7" y="125.5">站数</tspan></text>
<text class="serif" font-size="27" text-anchor="middle" xml:space="preserve"><tspan x="1569.1 1596.5 1623.8" y="125.5">面积比</tspan></text>
<text class="serif" font-size="27" text-anchor="middle" xml:space="preserve"><tspan class="sym" x="1301.0" y="162.4">≥</tspan><tspan x="1321.5 1332.0 1348.8" y="161.6" font-size="27.9">0.1</tspan><tspan x="1362.5" y="162.4" textLength="12.6" lengthAdjust="spacingAndGlyphs">m</tspan><tspan x="1376.2" y="162.4" textLength="12.6" lengthAdjust="spacingAndGlyphs">m</tspan></text>
<text class="serif" font-size="27" text-anchor="middle" xml:space="preserve"><tspan x="1444.8 1458.5 1472.1 1485.8" y="161.6" font-size="27.9">3365</tspan></text>
<text class="serif" font-size="27" text-anchor="middle" xml:space="preserve"><tspan x="1569.2 1582.8 1593.3 1610.2" y="161.6" font-size="27.9">83.0</tspan><tspan x="1623.8" y="162.4" textLength="13.9" lengthAdjust="spacingAndGlyphs">%</tspan></text>
<text class="serif" font-size="27" text-anchor="middle" xml:space="preserve"><tspan class="sym" x="1301.0" y="198.8">≥</tspan><tspan x="1321.5 1335.2 1348.8" y="197.9" font-size="27.9"> 10</tspan><tspan x="1362.5" y="198.8" textLength="12.6" lengthAdjust="spacingAndGlyphs">m</tspan><tspan x="1376.2" y="198.8" textLength="12.6" lengthAdjust="spacingAndGlyphs">m</tspan></text>
<text class="serif" font-size="27" text-anchor="middle" xml:space="preserve"><tspan x="1444.8 1458.5 1472.1 1485.8" y="197.9" font-size="27.9">1661</tspan></text>
<text class="serif" font-size="27" text-anchor="middle" xml:space="preserve"><tspan x="1569.2 1582.8 1593.3 1610.2" y="197.9" font-size="27.9">41.0</tspan><tspan x="1623.8" y="198.8" textLength="13.9" lengthAdjust="spacingAndGlyphs">%</tspan></text>
<text class="serif" font-size="27" text-anchor="middle" xml:space="preserve"><tspan class="sym" x="1301.0" y="235.5">≥</tspan><tspan x="1321.5 1335.2 1348.8" y="234.7" font-size="27.9"> 25</tspan><tspan x="1362.5" y="235.5" textLength="12.6" lengthAdjust="spacingAndGlyphs">m</tspan><tspan x="1376.2" y="235.5" textLength="12.6" lengthAdjust="spacingAndGlyphs">m</tspan></text>
<text class="serif" font-size="27" text-anchor="middle" xml:space="preserve"><tspan x="1451.6 1465.3 1479.0" y="234.7" font-size="27.9">645</tspan></text>
<text class="serif" font-size="27" text-anchor="middle" xml:space="preserve"><tspan x="1569.2 1582.8 1593.3 1610.2" y="234.7" font-size="27.9">15.9</tspan><tspan x="1623.8" y="235.5" textLength="13.9" lengthAdjust="spacingAndGlyphs">%</tspan></text>
<text class="serif" font-size="27" text-anchor="middle" xml:space="preserve"><tspan class="sym" x="1301.0" y="272.4">≥</tspan><tspan x="1321.5 1335.2 1348.8" y="271.6" font-size="27.9"> 50</tspan><tspan x="1362.5" y="272.4" textLength="12.6" lengthAdjust="spacingAndGlyphs">m</tspan><tspan x="1376.2" y="272.4" textLength="12.6" lengthAdjust="spacingAndGlyphs">m</tspan></text>
<text class="serif" font-size="27" text-anchor="middle" xml:space="preserve"><tspan x="1451.6 1465.3 1479.0" y="271.6" font-size="27.9">210</tspan></text>
<text class="serif" font-size="27" text-anchor="middle" xml:space="preserve"><tspan x="1576.0 1586.5 1603.3" y="271.6" font-size="27.9">5.2</tspan><tspan x="1617.0" y="272.4" textLength="13.9" lengthAdjust="spacingAndGlyphs">%</tspan></text>
<text class="serif" font-size="27" text-anchor="middle" xml:space="preserve"><tspan class="sym" x="1301.0" y="309.1">≥</tspan><tspan x="1321.5 1335.2 1348.8" y="308.2" font-size="27.9">100</tspan><tspan x="1362.5" y="309.1" textLength="12.6" lengthAdjust="spacingAndGlyphs">m</tspan><tspan x="1376.2" y="309.1" textLength="12.6" lengthAdjust="spacingAndGlyphs">m</tspan></text>
<text class="serif" font-size="27" text-anchor="middle" xml:space="preserve"><tspan x="1458.5 1472.1" y="308.2" font-size="27.9">52</tspan></text>
<text class="serif" font-size="27" text-anchor="middle" xml:space="preserve"><tspan x="1576.0 1586.5 1603.3" y="308.2" font-size="27.9">1.3</tspan><tspan x="1617.0" y="309.1" textLength="13.9" lengthAdjust="spacingAndGlyphs">%</tspan></text>
<text class="serif" font-size="27" text-anchor="middle" xml:space="preserve"><tspan class="sym" x="1301.0" y="345.4">≥</tspan><tspan x="1321.5 1335.2 1348.8" y="344.6" font-size="27.9">250</tspan><tspan x="1362.5" y="345.4" textLength="12.6" lengthAdjust="spacingAndGlyphs">m</tspan><tspan x="1376.2" y="345.4" textLength="12.6" lengthAdjust="spacingAndGlyphs">m</tspan></text>
<text class="serif" font-size="27" text-anchor="middle" xml:space="preserve"><tspan x="1465.3" y="344.6" font-size="27.9">0</tspan></text>
<text class="serif" font-size="27" text-anchor="middle" xml:space="preserve"><tspan x="1576.0 1586.5 1603.3" y="344.6" font-size="27.9">0.0</tspan><tspan x="1617.0" y="345.4" textLength="13.9" lengthAdjust="spacingAndGlyphs">%</tspan></text>
<text class="serif" font-size="27" text-anchor="middle" xml:space="preserve"><tspan x="1309.2 1336.5 1363.9 1391.2 1418.6 1445.9 1473.3" y="375.4">全省平均降水量</tspan><tspan x="1493.8 1507.5 1521.1 1531.6 1548.5 1562.2 1575.8" y="374.6" font-size="27.9">:13.611</tspan><tspan x="1596.3 1623.7" y="375.4">毫米</tspan></text>
<text class="sans" x="1268.0" y="430.5" font-size="27.7" textLength="277.5" lengthAdjust="spacing">市域平均降水排名前五</text>
<text class="serif" font-size="27" text-anchor="middle" xml:space="preserve"><tspan x="1286.8" y="470.9" font-size="27.9">1</tspan></text>
<text class="serif" font-size="27" text-anchor="middle" xml:space="preserve"><tspan x="1343.2 1370.5 1397.9" y="471.8">铜陵市</tspan></text>
<text class="serif" font-size="27" text-anchor="middle" xml:space="preserve"><tspan x="1527.3 1541.0 1551.5 1568.4" y="470.9" font-size="27.9">51.2</tspan><tspan x="1588.9 1616.2" y="471.8">毫米</tspan></text>
<text class="serif" font-size="27" text-anchor="middle" xml:space="preserve"><tspan x="1286.8" y="522.3" font-size="27.9">2</tspan></text>
<text class="serif" font-size="27" text-anchor="middle" xml:space="preserve"><tspan x="1343.2 1370.5 1397.9" y="523.1">芜湖市</tspan></text>
<text class="serif" font-size="27" text-anchor="middle" xml:space="preserve"><tspan x="1527.3 1541.0 1551.5 1568.4" y="522.3" font-size="27.9">36.0</tspan><tspan x="1588.9 1616.2" y="523.1">毫米</tspan></text>
<text class="serif" font-size="27" text-anchor="middle" xml:space="preserve"><tspan x="1286.8" y="573.7" font-size="27.9">3</tspan></text>
<text class="serif" font-size="27" text-anchor="middle" xml:space="preserve"><tspan x="1343.2 1370.5 1397.9" y="574.5">淮南市</tspan></text>
<text class="serif" font-size="27" text-anchor="middle" xml:space="preserve"><tspan x="1527.3 1541.0 1551.5 1568.4" y="573.7" font-size="27.9">25.2</tspan><tspan x="1588.9 1616.2" y="574.5">毫米</tspan></text>
<text class="serif" font-size="27" text-anchor="middle" xml:space="preserve"><tspan x="1286.8" y="625.5" font-size="27.9">4</tspan></text>
<text class="serif" font-size="27" text-anchor="middle" xml:space="preserve"><tspan x="1343.2 1370.5 1397.9" y="626.2">蚌埠市</tspan></text>
<text class="serif" font-size="27" text-anchor="middle" xml:space="preserve"><tspan x="1527.3 1541.0 1551.5 1568.4" y="625.5" font-size="27.9">22.6</tspan><tspan x="1588.9 1616.2" y="626.2">毫米</tspan></text>
<text class="serif" font-size="27" text-anchor="middle" xml:space="preserve"><tspan x="1286.8" y="676.5" font-size="27.9">5</tspan></text>
<text class="serif" font-size="27" text-anchor="middle" xml:space="preserve"><tspan x="1343.2 1370.5 1397.9" y="677.2">六安市</tspan></text>
<text class="serif" font-size="27" text-anchor="middle" xml:space="preserve"><tspan x="1527.3 1541.0 1551.5 1568.4" y="676.5" font-size="27.9">18.6</tspan><tspan x="1588.9 1616.2" y="677.2">毫米</tspan></text>
<text class="sans" x="1268.0" y="732.5" font-size="27.7" textLength="222.0" lengthAdjust="spacing">单站降水排名前十</text>
<text class="serif" font-size="27" text-anchor="middle" xml:space="preserve"><tspan x="1321.8 1349.2" y="778.0">区域</tspan></text>
<text class="serif" font-size="27" text-anchor="middle" xml:space="preserve"><tspan x="1477.8 1505.2" y="778.0">站名</tspan></text>
<text class="serif" font-size="27" text-anchor="middle" xml:space="preserve"><tspan x="1609.8 1637.2" y="778.0">雨量</tspan></text>
<text class="serif" font-size="27" text-anchor="middle" xml:space="preserve"><tspan x="1273.7" y="824.0" font-size="27.9">1</tspan></text>
<text class="serif" font-size="27" text-anchor="middle" xml:space="preserve"><tspan x="1321.7 1349.0" y="824.8">枞阳</tspan></text>
<text class="serif" font-size="27" text-anchor="middle" xml:space="preserve"><tspan x="1464.2" y="824.0" font-size="27.9">*</tspan><tspan x="1484.7 1512.0" y="824.8">古楼</tspan></text>
<text class="serif" font-size="27" text-anchor="middle" xml:space="preserve"><tspan x="1596.2 1609.8 1623.5 1634.0 1650.8" y="824.0" font-size="27.9">182.5</tspan></text>
<text class="serif" font-size="27" text-anchor="middle" xml:space="preserve"><tspan x="1273.7" y="870.5" font-size="27.9">2</tspan></text>
<text class="serif" font-size="27" text-anchor="middle" xml:space="preserve"><tspan x="1321.7 1349.0" y="871.2">无为</tspan></text>
<text class="serif" font-size="27" text-anchor="middle" xml:space="preserve"><tspan x="1450.5" y="870.5" font-size="27.9">*</tspan><tspan x="1471.0 1498.3 1525.7" y="871.2">刘家院</tspan></text>
<text class="serif" font-size="27" text-anchor="middle" xml:space="preserve"><tspan x="1596.2 1609.8 1623.5 1634.0 1650.8" y="870.5" font-size="27.9">174.5</tspan></text>
<text class="serif" font-size="27" text-anchor="middle" xml:space="preserve"><tspan x="1273.7" y="917.2" font-size="27.9">3</tspan></text>
<text class="serif" font-size="27" text-anchor="middle" xml:space="preserve"><tspan x="1321.7 1349.0" y="918.0">庐江</tspan></text>
<text class="serif" font-size="27" text-anchor="middle" xml:space="preserve"><tspan x="1450.5 1477.8 1505.2 1532.5" y="918.0">矾山砖桥</tspan></text>
<text class="serif" font-size="27" text-anchor="middle" xml:space="preserve"><tspan x="1596.2 1609.8 1623.5 1634.0 1650.8" y="917.2" font-size="27.9">171.9</tspan></text>
<text class="serif" font-size="27" text-anchor="middle" xml:space="preserve"><tspan x="1273.7" y="963.9" font-size="27.9">4</tspan></text>
<text class="serif" font-size="27" text-anchor="middle" xml:space="preserve"><tspan x="1321.7 1349.0" y="964.7">无为</tspan></text>
<text class="serif" font-size="27" text-anchor="middle" xml:space="preserve"><tspan x="1450.5 1477.8 1505.2 1532.5" y="964.7">昆山初中</tspan></text>
<text class="serif" font-size="27" text-anchor="middle" xml:space="preserve"><tspan x="1596.2 1609.8 1623.5 1634.0 1650.8" y="963.9" font-size="27.9">164.1</tspan></text>
<text class="serif" font-size="27" text-anchor="middle" xml:space="preserve"><tspan x="1273.7" y="1010.5" font-size="27.9">5</tspan></text>
<text class="serif" font-size="27" text-anchor="middle" xml:space="preserve"><tspan x="1321.7 1349.0" y="1011.2">庐江</tspan></text>
<text class="serif" font-size="27" text-anchor="middle" xml:space="preserve"><tspan x="1477.8 1505.2" y="1011.2">矾山</tspan></text>
<text class="serif" font-size="27" text-anchor="middle" xml:space="preserve"><tspan x="1596.2 1609.8 1623.5 1634.0 1650.8" y="1010.5" font-size="27.9">157.3</tspan></text>
<text class="serif" font-size="27" text-anchor="middle" xml:space="preserve"><tspan x="1273.7" y="1057.2" font-size="27.9">6</tspan></text>
<text class="serif" font-size="27" text-anchor="middle" xml:space="preserve"><tspan x="1321.7 1349.0" y="1058.0">无为</tspan></text>
<text class="serif" font-size="27" text-anchor="middle" xml:space="preserve"><tspan x="1450.5 1477.8 1505.2 1532.5" y="1058.0">牛埠土桥</tspan></text>
<text class="serif" font-size="27" text-anchor="middle" xml:space="preserve"><tspan x="1596.2 1609.8 1623.5 1634.0 1650.8" y="1057.2" font-size="27.9">157.2</tspan></text>
<text class="serif" font-size="27" text-anchor="middle" xml:space="preserve"><tspan x="1273.7" y="1104.2" font-size="27.9">7</tspan></text>
<text class="serif" font-size="27" text-anchor="middle" xml:space="preserve"><tspan x="1321.7 1349.0" y="1105.0">桐城</tspan></text>
<text class="serif" font-size="27" text-anchor="middle" xml:space="preserve"><tspan x="1477.8 1505.2" y="1105.0">金神</tspan></text>
<text class="serif" font-size="27" text-anchor="middle" xml:space="preserve"><tspan x="1596.2 1609.8 1623.5 1634.0 1650.8" y="1104.2" font-size="27.9">153.8</tspan></text>
<text class="serif" font-size="27" text-anchor="middle" xml:space="preserve"><tspan x="1273.7" y="1150.5" font-size="27.9">8</tspan></text>
<text class="serif" font-size="27" text-anchor="middle" xml:space="preserve"><tspan x="1321.7 1349.0" y="1151.2">枞阳</tspan></text>
<text class="serif" font-size="27" text-anchor="middle" xml:space="preserve"><tspan x="1450.5 1477.8 1505.2 1532.5" y="1151.2">麒麟新安</tspan></text>
<text class="serif" font-size="27" text-anchor="middle" xml:space="preserve"><tspan x="1596.2 1609.8 1623.5 1634.0 1650.8" y="1150.5" font-size="27.9">150.5</tspan></text>
<text class="serif" font-size="27" text-anchor="middle" xml:space="preserve"><tspan x="1273.7" y="1197.2" font-size="27.9">9</tspan></text>
<text class="serif" font-size="27" text-anchor="middle" xml:space="preserve"><tspan x="1321.7 1349.0 1376.4" y="1198.0">义安区</tspan></text>
<text class="serif" font-size="27" text-anchor="middle" xml:space="preserve"><tspan x="1450.5 1477.8 1505.2 1532.5" y="1198.0">西联观兴</tspan></text>
<text class="serif" font-size="27" text-anchor="middle" xml:space="preserve"><tspan x="1596.2 1609.8 1623.5 1634.0 1650.8" y="1197.2" font-size="27.9">148.7</tspan></text>
<text class="serif" font-size="27" text-anchor="middle" xml:space="preserve"><tspan x="1260.0 1273.7" y="1243.9" font-size="27.9">10</tspan></text>
<text class="serif" font-size="27" text-anchor="middle" xml:space="preserve"><tspan x="1321.7 1349.0" y="1244.7">庐江</tspan></text>
<text class="serif" font-size="27" text-anchor="middle" xml:space="preserve"><tspan x="1450.5 1477.8 1505.2 1532.5" y="1244.7">矾山刘敦</tspan></text>
<text class="serif" font-size="27" text-anchor="middle" xml:space="preserve"><tspan x="1596.2 1609.8 1623.5 1634.0 1650.8" y="1243.9" font-size="27.9">148.7</tspan></text>
<text class="serif" font-size="20.4" text-anchor="middle" xml:space="preserve"><tspan x="1280.6 1301.0" y="1294.4">注：</tspan><tspan x="1316.3" y="1293.6" font-size="21.1">*</tspan><tspan x="1331.6 1352.0 1372.4 1392.8 1413.2 1433.6" y="1294.4">为水文雨量站</tspan></text>
<text class="sans" x="1019.5" y="1289.2" font-size="19" textLength="142.5" lengthAdjust="spacing" font-weight="300">安徽省气象台制</text>
<rect x="14.5" y="1020" width="211" height="274" rx="5" ry="5" fill="#fff" stroke="#d0d0d0" stroke-width="1.3"/>
<text class="sans" x="119.5" y="1049.5" font-size="24.5" text-anchor="middle" textLength="111.0" lengthAdjust="spacing">图例(mm)</text>
<rect x="24.7" y="1070.2" width="57.6" height="20.4" fill="#a6f28f"/>
<text class="serif" font-size="27" text-anchor="middle" xml:space="preserve"><tspan x="110.2 120.7 137.6" y="1089.1" font-size="27.9">0.1</tspan><tspan class="sym" x="158.1" y="1089.9">～</tspan><tspan x="178.6 192.3" y="1089.1" font-size="27.9">10</tspan></text>
<rect x="24.7" y="1108.1" width="57.6" height="20.4" fill="#3dba3d"/>
<text class="serif" font-size="27" text-anchor="middle" xml:space="preserve"><tspan x="110.2 123.9" y="1126.9" font-size="27.9">10</tspan><tspan class="sym" x="144.4" y="1127.7">～</tspan><tspan x="164.9 178.6" y="1126.9" font-size="27.9">25</tspan></text>
<rect x="24.7" y="1146.0" width="57.6" height="20.4" fill="#61b8ff"/>
<text class="serif" font-size="27" text-anchor="middle" xml:space="preserve"><tspan x="110.2 123.9" y="1164.8" font-size="27.9">25</tspan><tspan class="sym" x="144.4" y="1165.6">～</tspan><tspan x="164.9 178.6" y="1164.8" font-size="27.9">50</tspan></text>
<rect x="24.7" y="1183.8" width="57.6" height="20.4" fill="#0000ff"/>
<text class="serif" font-size="27" text-anchor="middle" xml:space="preserve"><tspan x="110.2 123.9" y="1202.7" font-size="27.9">50</tspan><tspan class="sym" x="144.4" y="1203.5">～</tspan><tspan x="164.9 178.6 192.3" y="1202.7" font-size="27.9">100</tspan></text>
<rect x="24.7" y="1221.7" width="57.6" height="20.4" fill="#ff00ff"/>
<text class="serif" font-size="27" text-anchor="middle" xml:space="preserve"><tspan x="110.2 123.9 137.6" y="1240.6" font-size="27.9">100</tspan><tspan class="sym" x="158.1" y="1241.4">～</tspan><tspan x="178.6 192.3 206.0" y="1240.6" font-size="27.9">250</tspan></text>
<rect x="24.7" y="1259.6" width="57.6" height="20.4" fill="#7a0040"/>
<text class="serif" font-size="27" text-anchor="middle" xml:space="preserve"><tspan class="sym" x="119.2" y="1279.3">≥</tspan><tspan x="139.7 153.4 167.0" y="1278.5" font-size="27.9">250</tspan></text>
</svg>
</body></html>
